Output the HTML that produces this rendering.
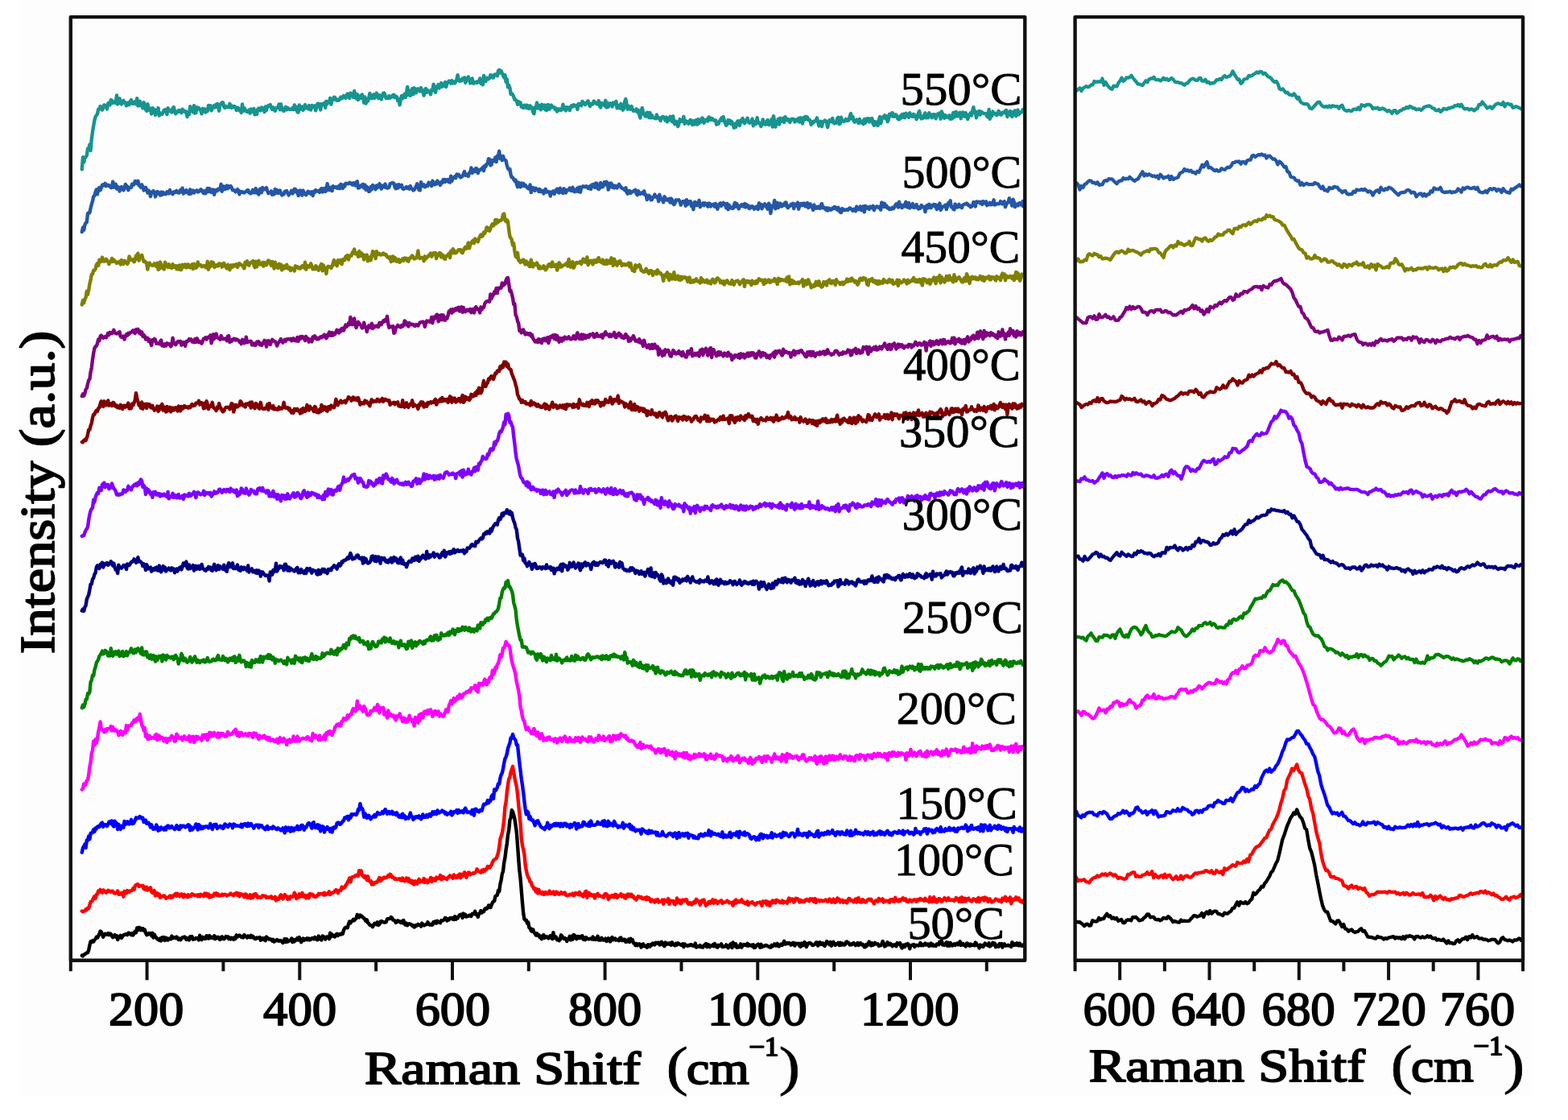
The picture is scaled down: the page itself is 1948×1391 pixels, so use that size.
<!DOCTYPE html>
<html><head><meta charset="utf-8"><title>Raman spectra</title>
<style>html,body{margin:0;padding:0;background:#fff;overflow:hidden}svg{display:block}</style>
</head><body>
<svg width="1948" height="1391" viewBox="0 0 1948 1391">
<rect x="0" y="0" width="1948" height="1391" fill="#ffffff"/>
<rect x="25" y="0" width="1878" height="1360" fill="#fdfdfd"/>
<g fill="none" stroke-linejoin="round" stroke-linecap="round">
<path stroke="#17948f" stroke-width="4.4" d="M101.8 210.3L103.0 195.3L104.2 201.5L105.4 196.6L106.6 194.7L107.8 193.2L109.0 184.5L110.2 185.4L111.4 179.4L112.6 187.0L113.8 172.6L115.0 163.6L116.2 156.5L117.4 149.7L118.6 145.1L119.8 143.3L121.0 141.7L122.2 135.6L123.4 135.5L124.6 132.1L125.8 132.5L127.0 136.6L128.2 133.6L129.4 130.4L130.6 131.1L131.8 132.4L133.0 135.4L134.2 128.4L135.4 127.6L136.6 130.3L137.8 124.1L139.0 124.9L140.2 127.9L141.4 127.3L142.6 126.1L143.8 127.9L145.0 118.4L146.2 129.4L147.4 124.0L148.6 122.3L149.8 127.9L151.0 129.3L152.2 126.3L153.4 124.8L154.6 127.7L155.8 127.4L157.0 131.3L158.2 129.3L159.4 127.6L160.6 130.1L161.8 126.2L163.0 124.1L164.2 128.5L165.4 128.9L166.6 127.1L167.8 126.0L169.0 129.3L170.2 122.1L171.4 131.4L172.6 131.3L173.8 125.8L175.0 131.2L176.2 128.9L177.4 134.4L178.6 127.2L179.8 130.9L181.0 136.1L182.2 137.9L183.4 129.3L184.6 134.4L185.8 137.1L187.0 134.9L188.2 141.5L189.4 134.2L190.6 139.0L191.8 135.5L193.0 142.8L194.2 139.0L195.4 138.0L196.6 134.1L197.8 143.6L199.0 140.9L200.2 140.8L201.4 141.8L202.6 139.5L203.8 136.7L205.0 136.2L206.2 136.1L207.4 142.1L208.6 134.1L209.8 136.5L211.0 137.2L212.2 138.6L213.4 139.5L214.6 134.4L215.8 133.1L217.0 137.9L218.2 141.3L219.4 140.0L220.6 138.5L221.8 137.0L223.0 138.7L224.2 137.2L225.4 140.2L226.6 135.7L227.8 138.3L229.0 137.6L230.2 139.4L231.4 138.5L232.6 145.0L233.8 142.1L235.0 142.1L236.2 132.2L237.4 136.9L238.6 136.2L239.8 139.2L241.0 131.1L242.2 140.6L243.4 140.0L244.6 133.1L245.8 133.8L247.0 134.1L248.2 136.2L249.4 137.6L250.6 141.3L251.8 134.8L253.0 137.3L254.2 135.3L255.4 139.6L256.6 136.5L257.8 138.0L259.0 130.9L260.2 133.2L261.4 131.2L262.6 137.4L263.8 134.8L265.0 131.8L266.2 131.1L267.4 133.4L268.6 129.8L269.8 128.9L271.0 132.5L272.2 137.7L273.4 129.8L274.6 128.8L275.8 127.4L277.0 127.2L278.2 132.8L279.4 134.0L280.6 131.9L281.8 133.1L283.0 132.8L284.2 133.2L285.4 128.8L286.6 132.1L287.8 134.0L289.0 131.8L290.2 132.8L291.4 132.0L292.6 133.5L293.8 136.9L295.0 133.5L296.2 134.3L297.4 137.2L298.6 136.8L299.8 139.9L301.0 129.4L302.2 137.8L303.4 134.1L304.6 136.0L305.8 138.1L307.0 138.9L308.2 138.9L309.4 136.5L310.6 140.7L311.8 135.5L313.0 136.1L314.2 138.8L315.4 134.9L316.6 142.3L317.8 139.0L319.0 142.0L320.2 135.7L321.4 134.5L322.6 135.9L323.8 137.3L325.0 133.4L326.2 135.9L327.4 134.7L328.6 139.1L329.8 132.5L331.0 137.1L332.2 132.2L333.4 131.1L334.6 131.7L335.8 130.1L337.0 133.7L338.2 136.0L339.4 133.4L340.6 134.8L341.8 137.8L343.0 134.1L344.2 134.1L345.4 133.0L346.6 129.4L347.8 136.2L349.0 129.3L350.2 136.3L351.4 134.6L352.6 137.9L353.8 134.8L355.0 132.8L356.2 136.3L357.4 133.9L358.6 135.2L359.8 136.0L361.0 135.7L362.2 135.7L363.4 134.0L364.6 136.0L365.8 130.5L367.0 135.9L368.2 132.9L369.4 139.2L370.6 139.5L371.8 130.4L373.0 136.1L374.2 135.2L375.4 132.5L376.6 136.8L377.8 133.9L379.0 130.1L380.2 134.2L381.4 134.4L382.6 135.0L383.8 131.1L385.0 136.1L386.2 136.4L387.4 131.0L388.6 132.0L389.8 133.1L391.0 131.3L392.2 137.3L393.4 132.5L394.6 128.6L395.8 128.7L397.0 130.3L398.2 136.4L399.4 129.0L400.6 129.4L401.8 129.9L403.0 127.9L404.2 133.9L405.4 125.6L406.6 128.6L407.8 126.5L409.0 127.3L410.2 121.8L411.4 129.6L412.6 123.8L413.8 123.9L415.0 120.7L416.2 120.9L417.4 124.1L418.6 124.8L419.8 123.8L421.0 124.6L422.2 122.8L423.4 120.5L424.6 122.3L425.8 121.2L427.0 118.9L428.2 120.8L429.4 121.9L430.6 118.5L431.8 116.5L433.0 119.1L434.2 121.9L435.4 115.6L436.6 116.4L437.8 116.7L439.0 121.0L440.2 112.9L441.4 119.5L442.6 122.3L443.8 117.1L445.0 124.0L446.2 121.8L447.4 119.2L448.6 121.8L449.8 117.4L451.0 120.5L452.2 127.7L453.4 120.5L454.6 128.5L455.8 122.9L457.0 125.6L458.2 122.7L459.4 116.0L460.6 120.4L461.8 122.3L463.0 118.2L464.2 117.4L465.4 121.9L466.6 118.8L467.8 115.6L469.0 118.2L470.2 122.2L471.4 118.2L472.6 121.9L473.8 123.3L475.0 118.8L476.2 115.6L477.4 115.4L478.6 119.3L479.8 122.1L481.0 120.7L482.2 121.8L483.4 119.3L484.6 121.7L485.8 119.8L487.0 120.5L488.2 118.1L489.4 117.7L490.6 121.0L491.8 119.6L493.0 120.3L494.2 125.2L495.4 122.7L496.6 130.4L497.8 124.1L499.0 119.0L500.2 122.3L501.4 120.3L502.6 116.7L503.8 121.0L505.0 115.0L506.2 107.9L507.4 118.0L508.6 113.5L509.8 118.8L511.0 112.2L512.2 110.1L513.4 117.1L514.6 109.2L515.8 112.2L517.0 115.1L518.2 110.7L519.4 110.3L520.6 111.1L521.8 113.4L523.0 109.0L524.2 113.3L525.4 113.4L526.6 118.6L527.8 111.4L529.0 110.0L530.2 114.9L531.4 112.0L532.6 114.2L533.8 114.0L535.0 117.2L536.2 111.4L537.4 112.3L538.6 104.7L539.8 108.7L541.0 114.8L542.2 107.9L543.4 107.2L544.6 105.1L545.8 109.4L547.0 107.6L548.2 103.1L549.4 107.7L550.6 105.8L551.8 106.6L553.0 102.0L554.2 108.0L555.4 103.9L556.6 102.0L557.8 100.5L559.0 100.9L560.2 103.6L561.4 100.0L562.6 103.4L563.8 101.6L565.0 103.3L566.2 101.4L567.4 98.6L568.6 93.2L569.8 99.4L571.0 100.9L572.2 99.2L573.4 100.3L574.6 97.5L575.8 97.8L577.0 96.3L578.2 102.8L579.4 99.5L580.6 97.8L581.8 95.5L583.0 98.8L584.2 103.4L585.4 100.7L586.6 97.4L587.8 103.5L589.0 103.6L590.2 102.3L591.4 101.8L592.6 102.8L593.8 101.1L595.0 101.8L596.2 97.4L597.4 103.8L598.6 100.2L599.8 105.3L601.0 93.9L602.2 101.1L603.4 101.1L604.6 96.7L605.8 98.1L607.0 98.2L608.2 97.0L609.4 93.1L610.6 93.5L611.8 96.3L613.0 96.6L614.2 92.9L615.4 92.4L616.6 92.4L617.8 94.3L619.0 88.1L620.2 86.9L621.4 90.6L622.6 88.1L623.8 90.8L625.0 93.8L626.2 96.2L627.4 93.0L628.6 101.7L629.8 98.1L631.0 108.2L632.2 105.9L633.4 109.1L634.6 116.8L635.8 116.3L637.0 117.6L638.2 120.0L639.4 123.9L640.6 123.9L641.8 125.3L643.0 129.8L644.2 126.1L645.4 127.2L646.6 127.5L647.8 132.7L649.0 132.6L650.2 133.9L651.4 130.6L652.6 130.7L653.8 133.9L655.0 130.9L656.2 134.7L657.4 134.9L658.6 131.3L659.8 133.4L661.0 133.7L662.2 138.9L663.4 141.3L664.6 133.7L665.8 134.1L667.0 127.6L668.2 134.6L669.4 134.0L670.6 131.0L671.8 136.3L673.0 129.7L674.2 133.5L675.4 134.5L676.6 130.6L677.8 136.5L679.0 137.1L680.2 130.2L681.4 130.1L682.6 135.7L683.8 133.8L685.0 130.5L686.2 133.0L687.4 133.4L688.6 133.3L689.8 136.0L691.0 134.7L692.2 138.5L693.4 137.3L694.6 135.3L695.8 136.4L697.0 137.0L698.2 135.2L699.4 129.7L700.6 135.5L701.8 133.3L703.0 137.5L704.2 133.2L705.4 134.3L706.6 133.5L707.8 137.1L709.0 132.6L710.2 131.1L711.4 132.5L712.6 130.2L713.8 131.6L715.0 130.9L716.2 131.4L717.4 135.8L718.6 129.0L719.8 130.0L721.0 129.1L722.2 131.3L723.4 125.9L724.6 127.0L725.8 128.6L727.0 130.0L728.2 128.1L729.4 126.6L730.6 125.4L731.8 129.3L733.0 132.0L734.2 128.9L735.4 128.6L736.6 129.4L737.8 125.5L739.0 127.4L740.2 127.6L741.4 129.2L742.6 128.3L743.8 125.1L745.0 131.7L746.2 133.4L747.4 127.9L748.6 129.9L749.8 129.6L751.0 131.1L752.2 124.8L753.4 133.5L754.6 127.7L755.8 132.7L757.0 129.6L758.2 128.4L759.4 129.3L760.6 132.4L761.8 127.6L763.0 129.2L764.2 129.1L765.4 125.8L766.6 134.4L767.8 132.6L769.0 131.1L770.2 134.6L771.4 128.8L772.6 131.5L773.8 136.7L775.0 134.8L776.2 126.0L777.4 123.1L778.6 129.7L779.8 135.7L781.0 131.7L782.2 132.9L783.4 135.8L784.6 132.1L785.8 135.7L787.0 137.8L788.2 137.4L789.4 137.7L790.6 135.4L791.8 139.1L793.0 136.9L794.2 142.3L795.4 146.4L796.6 137.6L797.8 134.1L799.0 139.4L800.2 142.0L801.4 144.2L802.6 144.6L803.8 139.7L805.0 140.0L806.2 146.1L807.4 139.9L808.6 146.3L809.8 143.0L811.0 146.1L812.2 146.2L813.4 146.8L814.6 147.2L815.8 142.5L817.0 146.4L818.2 146.0L819.4 147.1L820.6 150.0L821.8 146.1L823.0 145.0L824.2 145.2L825.4 146.6L826.6 149.7L827.8 145.5L829.0 151.3L830.2 149.0L831.4 147.8L832.6 144.9L833.8 149.5L835.0 151.0L836.2 144.3L837.4 152.8L838.6 154.2L839.8 150.8L841.0 151.4L842.2 157.0L843.4 153.9L844.6 148.1L845.8 150.8L847.0 150.6L848.2 150.8L849.4 144.8L850.6 153.7L851.8 149.9L853.0 152.0L854.2 151.1L855.4 153.8L856.6 150.4L857.8 148.9L859.0 152.5L860.2 154.9L861.4 150.0L862.6 154.6L863.8 151.4L865.0 149.1L866.2 154.7L867.4 148.1L868.6 153.1L869.8 148.8L871.0 151.3L872.2 146.5L873.4 147.5L874.6 152.7L875.8 150.2L877.0 149.7L878.2 148.2L879.4 150.6L880.6 145.4L881.8 146.1L883.0 148.9L884.2 147.1L885.4 147.6L886.6 149.5L887.8 149.5L889.0 149.3L890.2 154.7L891.4 153.0L892.6 153.8L893.8 150.4L895.0 149.1L896.2 146.6L897.4 149.8L898.6 145.1L899.8 149.4L901.0 153.3L902.2 155.8L903.4 154.1L904.6 149.1L905.8 153.0L907.0 149.5L908.2 153.9L909.4 151.3L910.6 153.9L911.8 158.7L913.0 154.0L914.2 157.9L915.4 151.8L916.6 150.3L917.8 154.9L919.0 155.9L920.2 149.5L921.4 151.2L922.6 146.9L923.8 150.3L925.0 153.3L926.2 150.5L927.4 149.1L928.6 146.7L929.8 151.6L931.0 152.8L932.2 152.3L933.4 151.5L934.6 147.5L935.8 156.2L937.0 151.3L938.2 151.3L939.4 154.0L940.6 146.1L941.8 152.2L943.0 152.3L944.2 153.9L945.4 156.9L946.6 154.6L947.8 148.4L949.0 152.8L950.2 154.6L951.4 154.6L952.6 150.5L953.8 149.2L955.0 155.1L956.2 154.3L957.4 153.0L958.6 148.0L959.8 157.5L961.0 144.2L962.2 151.0L963.4 157.6L964.6 151.0L965.8 151.9L967.0 147.7L968.2 154.5L969.4 146.8L970.6 150.9L971.8 150.3L973.0 146.7L974.2 151.9L975.4 145.2L976.6 147.3L977.8 149.1L979.0 148.0L980.2 150.5L981.4 151.8L982.6 148.4L983.8 147.7L985.0 147.8L986.2 148.2L987.4 151.5L988.6 148.6L989.8 150.3L991.0 148.9L992.2 146.8L993.4 151.6L994.6 146.3L995.8 149.2L997.0 153.4L998.2 146.1L999.4 149.0L1000.6 144.8L1001.8 148.0L1003.0 145.4L1004.2 148.8L1005.4 148.5L1006.6 150.5L1007.8 154.8L1009.0 151.3L1010.2 152.6L1011.4 150.8L1012.6 150.4L1013.8 148.9L1015.0 146.4L1016.2 151.8L1017.4 156.4L1018.6 153.3L1019.8 150.7L1021.0 157.0L1022.2 151.3L1023.4 151.0L1024.6 149.5L1025.8 150.2L1027.0 152.1L1028.2 158.2L1029.4 151.8L1030.6 149.3L1031.8 150.3L1033.0 151.2L1034.2 146.9L1035.4 151.8L1036.6 153.3L1037.8 152.0L1039.0 152.6L1040.2 147.1L1041.4 145.8L1042.6 154.0L1043.8 153.3L1045.0 145.7L1046.2 150.4L1047.4 149.7L1048.6 151.0L1049.8 149.9L1051.0 147.8L1052.2 149.8L1053.4 149.7L1054.6 149.2L1055.8 144.2L1057.0 141.0L1058.2 147.3L1059.4 144.9L1060.6 150.3L1061.8 151.6L1063.0 150.4L1064.2 148.6L1065.4 149.9L1066.6 153.0L1067.8 147.8L1069.0 152.4L1070.2 151.9L1071.4 150.7L1072.6 154.0L1073.8 148.0L1075.0 152.7L1076.2 147.5L1077.4 148.0L1078.6 147.2L1079.8 151.5L1081.0 147.6L1082.2 150.4L1083.4 147.1L1084.6 153.4L1085.8 155.6L1087.0 151.1L1088.2 155.1L1089.4 151.8L1090.6 156.0L1091.8 149.9L1093.0 144.9L1094.2 153.2L1095.4 148.4L1096.6 145.5L1097.8 146.3L1099.0 143.3L1100.2 147.0L1101.4 144.2L1102.6 151.1L1103.8 148.5L1105.0 141.7L1106.2 141.8L1107.4 144.1L1108.6 140.0L1109.8 144.8L1111.0 144.7L1112.2 142.3L1113.4 142.7L1114.6 145.6L1115.8 148.2L1117.0 148.4L1118.2 144.3L1119.4 146.6L1120.6 142.1L1121.8 145.4L1123.0 141.5L1124.2 146.2L1125.4 140.7L1126.6 141.5L1127.8 144.2L1129.0 145.8L1130.2 140.2L1131.4 142.7L1132.6 144.6L1133.8 144.8L1135.0 141.9L1136.2 144.5L1137.4 143.5L1138.6 148.1L1139.8 145.8L1141.0 140.5L1142.2 138.0L1143.4 144.5L1144.6 147.5L1145.8 144.7L1147.0 146.7L1148.2 142.8L1149.4 140.4L1150.6 146.3L1151.8 144.5L1153.0 146.1L1154.2 140.2L1155.4 144.6L1156.6 142.3L1157.8 146.2L1159.0 142.3L1160.2 142.2L1161.4 142.2L1162.6 147.3L1163.8 143.8L1165.0 141.6L1166.2 140.8L1167.4 140.7L1168.6 147.7L1169.8 138.5L1171.0 141.1L1172.2 145.3L1173.4 146.7L1174.6 143.0L1175.8 145.6L1177.0 145.4L1178.2 146.0L1179.4 143.4L1180.6 147.8L1181.8 143.7L1183.0 147.4L1184.2 140.0L1185.4 145.7L1186.6 139.5L1187.8 138.8L1189.0 144.4L1190.2 140.6L1191.4 144.1L1192.6 139.7L1193.8 147.2L1195.0 142.6L1196.2 139.4L1197.4 142.9L1198.6 144.8L1199.8 140.1L1201.0 143.7L1202.2 147.9L1203.4 144.5L1204.6 142.0L1205.8 140.3L1207.0 143.5L1208.2 137.5L1209.4 133.2L1210.6 139.7L1211.8 138.5L1213.0 146.3L1214.2 141.8L1215.4 138.5L1216.6 138.0L1217.8 142.6L1219.0 138.7L1220.2 139.4L1221.4 140.7L1222.6 141.1L1223.8 141.0L1225.0 141.0L1226.2 144.3L1227.4 145.4L1228.6 136.0L1229.8 147.8L1231.0 141.0L1232.2 144.1L1233.4 138.5L1234.6 141.5L1235.8 141.2L1237.0 140.9L1238.2 143.0L1239.4 142.4L1240.6 137.8L1241.8 140.3L1243.0 142.6L1244.2 142.5L1245.4 139.7L1246.6 139.8L1247.8 140.2L1249.0 137.5L1250.2 137.0L1251.4 145.0L1252.6 139.4L1253.8 140.6L1255.0 138.1L1256.2 143.7L1257.4 144.8L1258.6 139.1L1259.8 141.0L1261.0 137.3L1262.2 144.2L1263.4 141.7L1264.6 136.6L1265.8 142.3L1267.0 139.6L1268.2 139.6L1269.4 139.3L1270.6 136.3L1271.0 136.6"/>
<path stroke="#17948f" stroke-width="4.3" d="M1337.5 112.5L1339.5 111.0L1341.5 109.3L1343.5 113.0L1345.5 109.3L1347.5 108.3L1349.5 107.2L1351.5 108.1L1353.5 107.5L1355.5 105.5L1357.5 105.4L1359.5 101.0L1361.5 102.0L1363.5 101.3L1365.5 101.5L1367.5 101.7L1369.5 97.6L1371.5 105.8L1373.5 102.0L1375.5 105.5L1377.5 108.0L1379.5 109.8L1381.5 110.8L1383.5 106.7L1385.5 107.0L1387.5 107.4L1389.5 102.8L1391.5 100.4L1393.5 96.7L1395.5 100.9L1397.5 99.1L1399.5 96.4L1401.5 96.6L1403.5 95.9L1405.5 93.8L1407.5 96.7L1409.5 99.3L1411.5 101.5L1413.5 104.3L1415.5 104.3L1417.5 105.4L1419.5 105.9L1421.5 102.8L1423.5 100.4L1425.5 102.1L1427.5 98.4L1429.5 97.5L1431.5 97.6L1433.5 95.8L1435.5 98.8L1437.5 99.1L1439.5 99.0L1441.5 100.3L1443.5 99.1L1445.5 96.7L1447.5 99.0L1449.5 97.7L1451.5 99.8L1453.5 98.6L1455.5 97.0L1457.5 98.6L1459.5 101.5L1461.5 102.2L1463.5 102.1L1465.5 103.2L1467.5 103.2L1469.5 104.4L1471.5 105.7L1473.5 103.7L1475.5 103.3L1477.5 100.4L1479.5 98.6L1481.5 97.6L1483.5 98.3L1485.5 99.8L1487.5 99.8L1489.5 97.2L1491.5 96.9L1493.5 100.7L1495.5 100.7L1497.5 98.7L1499.5 102.6L1501.5 101.8L1503.5 103.9L1505.5 103.1L1507.5 103.4L1509.5 101.8L1511.5 99.1L1513.5 99.3L1515.5 97.8L1517.5 99.1L1519.5 95.7L1521.5 94.1L1523.5 95.9L1525.5 95.3L1527.5 94.5L1529.5 92.7L1531.5 88.4L1533.5 92.3L1535.5 95.3L1537.5 98.8L1539.5 98.5L1541.5 103.8L1543.5 102.2L1545.5 98.5L1547.5 98.0L1549.5 97.5L1551.5 93.9L1553.5 94.6L1555.5 93.7L1557.5 92.1L1559.5 91.2L1561.5 89.4L1563.5 90.8L1565.5 88.8L1567.5 89.3L1569.5 92.0L1571.5 90.7L1573.5 93.0L1575.5 95.4L1577.5 95.8L1579.5 97.6L1581.5 100.4L1583.5 102.0L1585.5 101.0L1587.5 103.9L1589.5 110.1L1591.5 111.3L1593.5 110.3L1595.5 112.7L1597.5 115.3L1599.5 114.7L1601.5 117.5L1603.5 117.7L1605.5 118.6L1607.5 116.3L1609.5 118.9L1611.5 122.5L1613.5 120.9L1615.5 126.2L1617.5 128.0L1619.5 128.9L1621.5 129.2L1623.5 129.0L1625.5 130.7L1627.5 134.4L1629.5 135.0L1631.5 133.3L1633.5 130.9L1635.5 128.8L1637.5 126.8L1639.5 127.0L1641.5 130.3L1643.5 132.1L1645.5 132.9L1647.5 132.0L1649.5 133.1L1651.5 131.4L1653.5 133.2L1655.5 131.2L1657.5 132.0L1659.5 132.3L1661.5 132.2L1663.5 134.6L1665.5 131.7L1667.5 130.8L1669.5 135.8L1671.5 137.1L1673.5 137.8L1675.5 136.8L1677.5 137.8L1679.5 137.8L1681.5 135.6L1683.5 135.6L1685.5 136.1L1687.5 133.6L1689.5 136.1L1691.5 130.3L1693.5 130.8L1695.5 132.0L1697.5 130.1L1699.5 129.9L1701.5 130.0L1703.5 131.4L1705.5 135.1L1707.5 134.0L1709.5 134.7L1711.5 133.7L1713.5 136.0L1715.5 135.4L1717.5 134.3L1719.5 135.4L1721.5 136.7L1723.5 138.4L1725.5 137.1L1727.5 138.3L1729.5 140.8L1731.5 137.3L1733.5 137.1L1735.5 140.6L1737.5 139.0L1739.5 137.3L1741.5 136.8L1743.5 134.9L1745.5 135.1L1747.5 132.9L1749.5 134.3L1751.5 132.0L1753.5 132.9L1755.5 134.6L1757.5 134.3L1759.5 136.3L1761.5 135.7L1763.5 135.5L1765.5 136.9L1767.5 135.2L1769.5 132.8L1771.5 132.4L1773.5 131.8L1775.5 131.3L1777.5 132.4L1779.5 134.3L1781.5 134.7L1783.5 137.2L1785.5 137.3L1787.5 136.0L1789.5 138.8L1791.5 137.6L1793.5 134.8L1795.5 135.3L1797.5 135.8L1799.5 134.1L1801.5 134.6L1803.5 133.2L1805.5 133.1L1807.5 131.1L1809.5 131.5L1811.5 130.0L1813.5 132.2L1815.5 129.7L1817.5 133.2L1819.5 135.3L1821.5 135.1L1823.5 135.0L1825.5 136.5L1827.5 135.3L1829.5 136.1L1831.5 137.4L1833.5 135.4L1835.5 134.7L1837.5 129.8L1839.5 130.2L1841.5 126.6L1843.5 129.1L1845.5 131.4L1847.5 134.4L1849.5 133.3L1851.5 132.5L1853.5 134.8L1855.5 132.9L1857.5 130.2L1859.5 129.0L1861.5 128.3L1863.5 129.3L1865.5 130.1L1867.5 127.1L1869.5 132.4L1871.5 129.1L1873.5 128.6L1875.5 130.1L1877.5 129.7L1879.5 133.8L1881.5 133.1L1883.5 132.1L1885.5 133.1L1887.5 133.9L1889.2 135.0"/>
<path stroke="#2457a6" stroke-width="4.4" d="M101.8 288.1L103.0 282.6L104.2 285.6L105.4 279.2L106.6 276.7L107.8 276.0L109.0 265.3L110.2 264.2L111.4 264.3L112.6 258.5L113.8 253.7L115.0 249.9L116.2 244.0L117.4 243.2L118.6 238.6L119.8 235.6L121.0 241.3L122.2 234.2L123.4 233.0L124.6 236.2L125.8 233.6L127.0 229.6L128.2 229.3L129.4 230.2L130.6 227.8L131.8 231.2L133.0 230.0L134.2 229.7L135.4 231.0L136.6 230.7L137.8 233.1L139.0 232.7L140.2 225.7L141.4 232.7L142.6 228.6L143.8 228.6L145.0 234.5L146.2 231.8L147.4 233.5L148.6 237.4L149.8 232.9L151.0 232.0L152.2 234.5L153.4 236.3L154.6 234.3L155.8 228.9L157.0 230.7L158.2 231.6L159.4 236.2L160.6 233.4L161.8 232.7L163.0 232.8L164.2 228.5L165.4 229.7L166.6 229.1L167.8 224.9L169.0 226.5L170.2 227.8L171.4 224.7L172.6 230.2L173.8 231.0L175.0 232.6L176.2 229.2L177.4 232.3L178.6 236.4L179.8 235.8L181.0 232.9L182.2 236.0L183.4 239.5L184.6 236.5L185.8 238.2L187.0 244.0L188.2 238.4L189.4 238.8L190.6 237.2L191.8 238.7L193.0 244.4L194.2 240.8L195.4 238.1L196.6 238.6L197.8 240.7L199.0 242.4L200.2 238.6L201.4 241.9L202.6 238.9L203.8 240.8L205.0 241.0L206.2 241.1L207.4 238.4L208.6 238.9L209.8 240.4L211.0 235.9L212.2 239.3L213.4 239.9L214.6 241.1L215.8 238.5L217.0 238.2L218.2 239.0L219.4 236.9L220.6 238.1L221.8 239.6L223.0 239.3L224.2 236.1L225.4 237.8L226.6 233.5L227.8 240.5L229.0 237.3L230.2 239.2L231.4 236.0L232.6 238.4L233.8 239.7L235.0 240.9L236.2 235.3L237.4 240.6L238.6 238.2L239.8 236.6L241.0 239.5L242.2 237.5L243.4 237.4L244.6 236.3L245.8 238.4L247.0 237.9L248.2 237.2L249.4 235.2L250.6 236.2L251.8 238.3L253.0 240.2L254.2 237.0L255.4 240.3L256.6 236.8L257.8 234.1L259.0 238.1L260.2 234.1L261.4 237.3L262.6 238.8L263.8 235.4L265.0 235.7L266.2 241.7L267.4 236.2L268.6 236.0L269.8 237.1L271.0 234.8L272.2 234.7L273.4 235.6L274.6 228.8L275.8 237.7L277.0 231.6L278.2 231.4L279.4 235.1L280.6 233.7L281.8 230.5L283.0 234.3L284.2 231.3L285.4 232.7L286.6 231.1L287.8 233.0L289.0 236.2L290.2 235.9L291.4 236.6L292.6 238.4L293.8 236.4L295.0 235.2L296.2 236.4L297.4 241.3L298.6 237.8L299.8 238.8L301.0 238.1L302.2 239.1L303.4 239.5L304.6 238.4L305.8 238.0L307.0 236.4L308.2 236.2L309.4 239.1L310.6 239.9L311.8 240.3L313.0 238.1L314.2 235.9L315.4 239.4L316.6 239.3L317.8 234.1L319.0 239.6L320.2 239.0L321.4 241.5L322.6 234.8L323.8 234.4L325.0 239.2L326.2 233.0L327.4 235.5L328.6 234.8L329.8 235.1L331.0 233.1L332.2 237.2L333.4 240.2L334.6 239.1L335.8 239.2L337.0 237.4L338.2 241.8L339.4 239.8L340.6 241.1L341.8 235.0L343.0 239.7L344.2 236.2L345.4 239.9L346.6 239.7L347.8 236.6L349.0 239.9L350.2 242.4L351.4 240.9L352.6 241.2L353.8 237.7L355.0 238.1L356.2 237.0L357.4 239.9L358.6 242.4L359.8 240.5L361.0 239.5L362.2 236.7L363.4 240.4L364.6 238.7L365.8 234.7L367.0 235.1L368.2 238.4L369.4 237.0L370.6 243.0L371.8 239.1L373.0 236.5L374.2 237.8L375.4 242.7L376.6 236.6L377.8 240.6L379.0 239.8L380.2 242.2L381.4 239.9L382.6 237.7L383.8 239.8L385.0 238.7L386.2 240.8L387.4 238.3L388.6 243.0L389.8 237.8L391.0 238.9L392.2 236.0L393.4 237.6L394.6 237.2L395.8 237.3L397.0 238.8L398.2 235.1L399.4 234.1L400.6 238.5L401.8 235.0L403.0 233.8L404.2 237.9L405.4 236.8L406.6 228.3L407.8 233.5L409.0 236.1L410.2 235.9L411.4 232.5L412.6 237.1L413.8 231.2L415.0 232.2L416.2 232.7L417.4 232.1L418.6 233.7L419.8 233.9L421.0 231.0L422.2 234.1L423.4 228.8L424.6 229.6L425.8 233.9L427.0 229.7L428.2 231.7L429.4 227.8L430.6 227.9L431.8 227.9L433.0 228.3L434.2 226.7L435.4 227.3L436.6 228.5L437.8 229.5L439.0 227.3L440.2 229.2L441.4 230.3L442.6 226.1L443.8 225.4L445.0 233.5L446.2 233.3L447.4 230.8L448.6 232.0L449.8 229.5L451.0 228.9L452.2 233.5L453.4 229.7L454.6 235.8L455.8 231.9L457.0 234.0L458.2 237.8L459.4 237.5L460.6 232.1L461.8 235.2L463.0 230.0L464.2 230.9L465.4 233.0L466.6 235.3L467.8 230.4L469.0 232.9L470.2 231.7L471.4 228.2L472.6 230.8L473.8 234.5L475.0 230.5L476.2 231.8L477.4 232.4L478.6 228.5L479.8 233.0L481.0 233.5L482.2 233.5L483.4 232.7L484.6 228.3L485.8 227.8L487.0 227.2L488.2 227.0L489.4 227.8L490.6 232.6L491.8 234.2L493.0 229.7L494.2 233.6L495.4 229.2L496.6 231.9L497.8 230.8L499.0 229.8L500.2 234.3L501.4 234.9L502.6 233.8L503.8 233.3L505.0 232.1L506.2 234.0L507.4 232.7L508.6 234.6L509.8 231.0L511.0 234.2L512.2 234.8L513.4 236.4L514.6 235.8L515.8 233.6L517.0 231.3L518.2 228.4L519.4 232.6L520.6 235.9L521.8 236.3L523.0 226.1L524.2 230.3L525.4 231.1L526.6 229.3L527.8 232.1L529.0 231.6L530.2 230.1L531.4 230.8L532.6 226.6L533.8 227.6L535.0 227.3L536.2 231.1L537.4 224.6L538.6 227.5L539.8 229.4L541.0 226.9L542.2 228.5L543.4 224.5L544.6 226.6L545.8 227.3L547.0 230.0L548.2 225.9L549.4 227.1L550.6 223.2L551.8 222.9L553.0 226.0L554.2 223.2L555.4 224.9L556.6 223.0L557.8 226.1L559.0 226.5L560.2 218.6L561.4 224.8L562.6 221.1L563.8 221.0L565.0 219.3L566.2 221.1L567.4 216.5L568.6 217.1L569.8 216.8L571.0 219.1L572.2 220.4L573.4 219.7L574.6 218.6L575.8 216.0L577.0 213.0L578.2 217.8L579.4 216.7L580.6 216.8L581.8 218.9L583.0 214.5L584.2 214.0L585.4 208.5L586.6 214.9L587.8 213.0L589.0 210.8L590.2 213.0L591.4 209.0L592.6 209.6L593.8 215.0L595.0 211.5L596.2 211.3L597.4 210.3L598.6 209.4L599.8 207.7L601.0 212.2L602.2 205.8L603.4 207.0L604.6 204.0L605.8 203.0L607.0 197.2L608.2 197.7L609.4 205.3L610.6 204.5L611.8 199.1L613.0 199.4L614.2 200.1L615.4 195.4L616.6 201.1L617.8 193.6L619.0 193.5L620.2 187.7L621.4 197.1L622.6 194.3L623.8 199.1L625.0 193.8L626.2 198.1L627.4 198.5L628.6 199.8L629.8 205.3L631.0 209.2L632.2 210.7L633.4 210.1L634.6 216.9L635.8 220.2L637.0 220.5L638.2 222.7L639.4 224.7L640.6 223.6L641.8 228.4L643.0 232.2L644.2 226.6L645.4 229.8L646.6 232.2L647.8 227.5L649.0 231.0L650.2 227.9L651.4 231.1L652.6 229.8L653.8 231.6L655.0 233.1L656.2 234.2L657.4 234.5L658.6 229.4L659.8 239.1L661.0 234.8L662.2 233.0L663.4 234.3L664.6 236.7L665.8 233.7L667.0 235.3L668.2 235.3L669.4 237.9L670.6 235.0L671.8 238.0L673.0 237.9L674.2 236.9L675.4 240.4L676.6 237.6L677.8 234.9L679.0 238.6L680.2 238.3L681.4 237.9L682.6 238.5L683.8 243.5L685.0 238.4L686.2 238.9L687.4 237.2L688.6 240.9L689.8 237.6L691.0 235.8L692.2 234.7L693.4 238.9L694.6 239.4L695.8 233.7L697.0 235.8L698.2 239.0L699.4 239.9L700.6 234.3L701.8 236.4L703.0 239.4L704.2 236.0L705.4 236.2L706.6 235.7L707.8 233.6L709.0 236.7L710.2 237.0L711.4 232.7L712.6 236.1L713.8 238.2L715.0 235.8L716.2 237.4L717.4 233.5L718.6 237.9L719.8 232.5L721.0 238.7L722.2 232.8L723.4 231.9L724.6 231.3L725.8 232.2L727.0 231.8L728.2 231.1L729.4 231.7L730.6 233.9L731.8 234.2L733.0 231.2L734.2 234.8L735.4 229.3L736.6 229.1L737.8 228.8L739.0 232.8L740.2 227.5L741.4 227.7L742.6 234.0L743.8 234.9L745.0 233.9L746.2 227.0L747.4 230.4L748.6 232.3L749.8 230.4L751.0 226.1L752.2 229.1L753.4 225.8L754.6 227.2L755.8 235.6L757.0 232.3L758.2 227.4L759.4 227.6L760.6 232.6L761.8 230.3L763.0 233.4L764.2 230.8L765.4 232.1L766.6 233.4L767.8 230.7L769.0 228.8L770.2 230.8L771.4 232.3L772.6 233.7L773.8 234.4L775.0 234.6L776.2 236.3L777.4 233.2L778.6 238.9L779.8 240.7L781.0 237.0L782.2 237.0L783.4 239.9L784.6 238.8L785.8 238.0L787.0 237.5L788.2 236.5L789.4 235.9L790.6 240.6L791.8 242.2L793.0 237.2L794.2 239.9L795.4 241.0L796.6 239.8L797.8 239.3L799.0 240.6L800.2 237.2L801.4 242.1L802.6 241.9L803.8 248.0L805.0 245.6L806.2 242.8L807.4 243.9L808.6 248.2L809.8 248.2L811.0 245.0L812.2 244.5L813.4 241.6L814.6 244.5L815.8 245.1L817.0 244.0L818.2 250.2L819.4 241.8L820.6 246.2L821.8 247.7L823.0 248.0L824.2 251.3L825.4 244.1L826.6 245.9L827.8 248.2L829.0 248.5L830.2 247.5L831.4 246.8L832.6 251.5L833.8 246.6L835.0 248.0L836.2 253.1L837.4 254.0L838.6 252.2L839.8 248.3L841.0 248.5L842.2 248.7L843.4 248.3L844.6 250.3L845.8 254.6L847.0 252.3L848.2 250.2L849.4 250.4L850.6 249.7L851.8 255.7L853.0 248.2L854.2 253.9L855.4 250.0L856.6 251.1L857.8 250.1L859.0 256.0L860.2 253.4L861.4 260.2L862.6 251.1L863.8 251.0L865.0 255.0L866.2 255.0L867.4 252.9L868.6 248.8L869.8 257.1L871.0 255.0L872.2 254.6L873.4 252.2L874.6 255.1L875.8 252.3L877.0 253.7L878.2 253.1L879.4 256.6L880.6 252.5L881.8 252.8L883.0 256.4L884.2 254.5L885.4 254.0L886.6 253.6L887.8 256.6L889.0 252.9L890.2 255.8L891.4 259.7L892.6 255.9L893.8 253.2L895.0 252.3L896.2 255.7L897.4 252.6L898.6 251.8L899.8 254.0L901.0 253.3L902.2 258.2L903.4 252.8L904.6 260.2L905.8 254.7L907.0 257.0L908.2 258.4L909.4 257.5L910.6 258.9L911.8 254.9L913.0 251.7L914.2 256.7L915.4 253.1L916.6 255.7L917.8 259.3L919.0 256.5L920.2 255.5L921.4 254.1L922.6 256.1L923.8 256.4L925.0 252.9L926.2 257.4L927.4 254.0L928.6 257.1L929.8 255.5L931.0 258.9L932.2 258.5L933.4 256.4L934.6 256.1L935.8 257.4L937.0 259.6L938.2 258.8L939.4 256.6L940.6 256.9L941.8 259.9L943.0 252.2L944.2 257.4L945.4 253.9L946.6 259.2L947.8 254.7L949.0 255.6L950.2 253.2L951.4 255.8L952.6 257.7L953.8 259.7L955.0 252.6L956.2 254.6L957.4 265.0L958.6 257.8L959.8 255.5L961.0 256.7L962.2 249.0L963.4 259.2L964.6 255.7L965.8 251.8L967.0 258.0L968.2 253.7L969.4 252.7L970.6 256.3L971.8 256.0L973.0 253.9L974.2 254.8L975.4 251.7L976.6 251.4L977.8 257.1L979.0 258.1L980.2 255.9L981.4 255.8L982.6 253.9L983.8 254.6L985.0 252.7L986.2 259.1L987.4 253.5L988.6 255.9L989.8 254.9L991.0 251.5L992.2 259.6L993.4 254.0L994.6 253.1L995.8 255.2L997.0 252.7L998.2 255.0L999.4 252.6L1000.6 256.3L1001.8 255.3L1003.0 252.0L1004.2 258.0L1005.4 256.2L1006.6 253.2L1007.8 256.9L1009.0 257.3L1010.2 260.9L1011.4 254.5L1012.6 258.8L1013.8 256.7L1015.0 258.6L1016.2 256.7L1017.4 257.4L1018.6 258.9L1019.8 255.0L1021.0 253.0L1022.2 258.2L1023.4 257.4L1024.6 258.8L1025.8 260.3L1027.0 258.2L1028.2 261.6L1029.4 258.6L1030.6 259.0L1031.8 260.8L1033.0 260.2L1034.2 258.5L1035.4 259.1L1036.6 256.9L1037.8 257.3L1039.0 259.0L1040.2 260.7L1041.4 257.7L1042.6 260.8L1043.8 263.5L1045.0 264.0L1046.2 258.9L1047.4 261.3L1048.6 260.3L1049.8 260.7L1051.0 260.8L1052.2 260.1L1053.4 260.8L1054.6 259.3L1055.8 258.2L1057.0 259.4L1058.2 260.0L1059.4 261.8L1060.6 259.7L1061.8 260.6L1063.0 262.3L1064.2 256.6L1065.4 258.2L1066.6 260.1L1067.8 258.9L1069.0 256.4L1070.2 261.2L1071.4 258.7L1072.6 256.4L1073.8 263.4L1075.0 255.7L1076.2 258.8L1077.4 257.1L1078.6 258.9L1079.8 259.9L1081.0 256.5L1082.2 258.1L1083.4 258.0L1084.6 255.8L1085.8 261.0L1087.0 258.5L1088.2 257.3L1089.4 256.3L1090.6 257.0L1091.8 258.1L1093.0 256.6L1094.2 260.6L1095.4 251.4L1096.6 252.3L1097.8 256.7L1099.0 252.8L1100.2 257.0L1101.4 255.5L1102.6 258.4L1103.8 257.9L1105.0 260.0L1106.2 259.0L1107.4 259.7L1108.6 257.9L1109.8 259.1L1111.0 257.7L1112.2 255.0L1113.4 253.3L1114.6 253.4L1115.8 257.5L1117.0 250.6L1118.2 256.7L1119.4 254.5L1120.6 258.1L1121.8 256.8L1123.0 254.5L1124.2 256.3L1125.4 250.8L1126.6 257.0L1127.8 257.4L1129.0 251.9L1130.2 258.4L1131.4 256.0L1132.6 256.7L1133.8 252.9L1135.0 257.8L1136.2 257.7L1137.4 256.3L1138.6 254.0L1139.8 258.2L1141.0 259.3L1142.2 257.3L1143.4 258.7L1144.6 254.9L1145.8 256.7L1147.0 257.2L1148.2 256.7L1149.4 263.1L1150.6 257.4L1151.8 255.0L1153.0 258.3L1154.2 253.7L1155.4 257.1L1156.6 258.1L1157.8 255.0L1159.0 255.4L1160.2 253.8L1161.4 256.4L1162.6 254.4L1163.8 260.1L1165.0 257.5L1166.2 255.4L1167.4 252.5L1168.6 260.7L1169.8 258.9L1171.0 256.9L1172.2 256.2L1173.4 256.1L1174.6 254.5L1175.8 260.1L1177.0 256.1L1178.2 252.1L1179.4 253.9L1180.6 249.2L1181.8 257.0L1183.0 257.2L1184.2 259.6L1185.4 260.3L1186.6 253.4L1187.8 256.3L1189.0 257.5L1190.2 257.0L1191.4 253.8L1192.6 256.8L1193.8 256.0L1195.0 258.0L1196.2 254.6L1197.4 254.0L1198.6 253.3L1199.8 253.5L1201.0 252.5L1202.2 253.4L1203.4 255.4L1204.6 255.2L1205.8 257.2L1207.0 256.5L1208.2 255.3L1209.4 251.0L1210.6 255.0L1211.8 256.4L1213.0 250.4L1214.2 250.7L1215.4 251.0L1216.6 250.7L1217.8 252.5L1219.0 250.8L1220.2 253.9L1221.4 250.0L1222.6 252.5L1223.8 251.5L1225.0 250.3L1226.2 255.1L1227.4 252.6L1228.6 253.8L1229.8 251.7L1231.0 254.2L1232.2 254.0L1233.4 252.2L1234.6 248.3L1235.8 254.5L1237.0 254.2L1238.2 253.0L1239.4 253.1L1240.6 252.8L1241.8 253.0L1243.0 250.1L1244.2 252.4L1245.4 253.3L1246.6 251.1L1247.8 250.2L1249.0 257.0L1250.2 254.0L1251.4 251.8L1252.6 251.4L1253.8 246.2L1255.0 249.1L1256.2 251.9L1257.4 255.6L1258.6 247.6L1259.8 250.9L1261.0 257.1L1262.2 254.1L1263.4 253.5L1264.6 255.4L1265.8 252.3L1267.0 252.1L1268.2 254.3L1269.4 254.6L1270.6 250.0L1271.0 256.2"/>
<path stroke="#2457a6" stroke-width="4.3" d="M1337.5 227.3L1339.5 229.5L1341.5 235.5L1343.5 231.1L1345.5 233.0L1347.5 228.9L1349.5 228.1L1351.5 225.7L1353.5 224.4L1355.5 224.7L1357.5 227.0L1359.5 226.6L1361.5 228.3L1363.5 226.2L1365.5 229.8L1367.5 229.3L1369.5 229.2L1371.5 225.2L1373.5 224.0L1375.5 224.7L1377.5 222.2L1379.5 222.3L1381.5 222.4L1383.5 224.5L1385.5 226.5L1387.5 228.1L1389.5 225.5L1391.5 224.5L1393.5 224.4L1395.5 221.0L1397.5 222.6L1399.5 221.7L1401.5 222.3L1403.5 219.9L1405.5 221.8L1407.5 223.4L1409.5 224.8L1411.5 223.1L1413.5 222.5L1415.5 219.5L1417.5 216.2L1419.5 213.3L1421.5 218.4L1423.5 216.3L1425.5 217.8L1427.5 216.3L1429.5 217.5L1431.5 218.8L1433.5 218.4L1435.5 219.7L1437.5 218.5L1439.5 221.8L1441.5 216.7L1443.5 218.9L1445.5 221.4L1447.5 220.0L1449.5 220.1L1451.5 218.6L1453.5 223.1L1455.5 219.1L1457.5 222.8L1459.5 221.6L1461.5 221.0L1463.5 220.3L1465.5 215.8L1467.5 214.2L1469.5 213.4L1471.5 209.9L1473.5 212.1L1475.5 211.1L1477.5 212.7L1479.5 211.7L1481.5 214.1L1483.5 214.0L1485.5 215.6L1487.5 212.8L1489.5 213.8L1491.5 209.4L1493.5 204.8L1495.5 207.3L1497.5 203.9L1499.5 201.1L1501.5 208.3L1503.5 207.8L1505.5 209.2L1507.5 211.0L1509.5 212.1L1511.5 211.0L1513.5 212.7L1515.5 212.2L1517.5 209.3L1519.5 210.2L1521.5 210.8L1523.5 209.0L1525.5 207.6L1527.5 208.1L1529.5 206.1L1531.5 202.1L1533.5 201.9L1535.5 200.7L1537.5 200.8L1539.5 200.4L1541.5 203.7L1543.5 200.8L1545.5 201.1L1547.5 203.3L1549.5 199.3L1551.5 198.7L1553.5 198.7L1555.5 193.6L1557.5 192.9L1559.5 194.9L1561.5 193.4L1563.5 192.2L1565.5 192.5L1567.5 191.4L1569.5 193.0L1571.5 192.5L1573.5 196.4L1575.5 193.9L1577.5 193.7L1579.5 195.8L1581.5 197.7L1583.5 197.4L1585.5 199.9L1587.5 204.3L1589.5 200.6L1591.5 202.0L1593.5 204.6L1595.5 207.5L1597.5 206.9L1599.5 213.4L1601.5 213.8L1603.5 219.6L1605.5 220.1L1607.5 220.5L1609.5 223.5L1611.5 224.8L1613.5 224.5L1615.5 229.7L1617.5 227.1L1619.5 230.1L1621.5 228.7L1623.5 227.7L1625.5 229.1L1627.5 229.2L1629.5 229.0L1631.5 229.2L1633.5 226.9L1635.5 228.1L1637.5 228.5L1639.5 231.9L1641.5 234.2L1643.5 231.6L1645.5 236.4L1647.5 236.0L1649.5 237.5L1651.5 232.9L1653.5 234.0L1655.5 233.9L1657.5 231.8L1659.5 232.3L1661.5 232.7L1663.5 235.8L1665.5 236.7L1667.5 239.0L1669.5 237.5L1671.5 237.2L1673.5 240.7L1675.5 241.5L1677.5 241.1L1679.5 241.1L1681.5 237.7L1683.5 238.8L1685.5 235.4L1687.5 236.2L1689.5 236.2L1691.5 235.0L1693.5 236.3L1695.5 234.8L1697.5 236.6L1699.5 238.6L1701.5 237.4L1703.5 238.5L1705.5 242.6L1707.5 239.0L1709.5 237.0L1711.5 236.2L1713.5 239.1L1715.5 232.7L1717.5 235.6L1719.5 236.4L1721.5 234.3L1723.5 235.3L1725.5 232.6L1727.5 233.5L1729.5 234.7L1731.5 236.7L1733.5 238.8L1735.5 240.7L1737.5 242.2L1739.5 239.8L1741.5 239.0L1743.5 239.0L1745.5 238.6L1747.5 236.5L1749.5 235.9L1751.5 237.0L1753.5 239.6L1755.5 238.6L1757.5 239.3L1759.5 244.3L1761.5 242.1L1763.5 240.6L1765.5 240.3L1767.5 243.5L1769.5 240.8L1771.5 243.6L1773.5 241.5L1775.5 241.4L1777.5 237.3L1779.5 238.4L1781.5 233.5L1783.5 234.6L1785.5 235.2L1787.5 235.2L1789.5 232.9L1791.5 237.6L1793.5 238.6L1795.5 239.1L1797.5 238.3L1799.5 238.5L1801.5 237.7L1803.5 239.4L1805.5 238.3L1807.5 238.7L1809.5 237.7L1811.5 234.5L1813.5 236.1L1815.5 238.5L1817.5 233.5L1819.5 235.0L1821.5 233.1L1823.5 232.5L1825.5 233.7L1827.5 234.2L1829.5 233.6L1831.5 232.8L1833.5 235.0L1835.5 232.9L1837.5 237.8L1839.5 238.7L1841.5 239.3L1843.5 238.9L1845.5 237.0L1847.5 239.2L1849.5 235.9L1851.5 234.2L1853.5 235.6L1855.5 234.1L1857.5 234.6L1859.5 237.1L1861.5 235.1L1863.5 235.8L1865.5 239.0L1867.5 234.2L1869.5 237.0L1871.5 238.4L1873.5 239.1L1875.5 239.7L1877.5 234.8L1879.5 235.7L1881.5 233.9L1883.5 232.6L1885.5 231.3L1887.5 229.5L1889.2 231.3"/>
<path stroke="#808000" stroke-width="4.4" d="M101.8 378.5L103.0 372.9L104.2 376.2L105.4 371.8L106.6 369.5L107.8 361.7L109.0 365.9L110.2 360.1L111.4 352.8L112.6 347.8L113.8 340.8L115.0 340.4L116.2 335.7L117.4 336.0L118.6 333.9L119.8 328.9L121.0 327.1L122.2 329.8L123.4 322.7L124.6 325.3L125.8 324.8L127.0 319.6L128.2 324.5L129.4 323.1L130.6 324.4L131.8 321.7L133.0 323.3L134.2 324.5L135.4 328.0L136.6 325.5L137.8 325.1L139.0 320.9L140.2 324.9L141.4 322.6L142.6 324.2L143.8 325.2L145.0 327.0L146.2 326.2L147.4 325.4L148.6 324.9L149.8 328.4L151.0 323.1L152.2 325.0L153.4 327.9L154.6 323.7L155.8 325.8L157.0 325.6L158.2 327.9L159.4 325.5L160.6 318.4L161.8 322.0L163.0 322.3L164.2 323.3L165.4 322.0L166.6 325.3L167.8 323.2L169.0 317.4L170.2 318.4L171.4 314.7L172.6 323.6L173.8 318.8L175.0 318.8L176.2 316.9L177.4 321.1L178.6 324.8L179.8 324.3L181.0 325.8L182.2 326.8L183.4 334.6L184.6 328.7L185.8 326.5L187.0 328.8L188.2 329.2L189.4 329.8L190.6 329.4L191.8 327.3L193.0 329.5L194.2 330.9L195.4 326.5L196.6 334.8L197.8 334.1L199.0 325.5L200.2 329.0L201.4 332.4L202.6 333.3L203.8 334.5L205.0 325.8L206.2 327.7L207.4 329.3L208.6 332.0L209.8 328.2L211.0 332.0L212.2 332.2L213.4 333.0L214.6 328.1L215.8 331.7L217.0 331.3L218.2 330.1L219.4 334.2L220.6 330.3L221.8 334.4L223.0 329.4L224.2 335.0L225.4 334.8L226.6 328.7L227.8 331.5L229.0 331.4L230.2 328.2L231.4 332.4L232.6 331.9L233.8 328.3L235.0 330.6L236.2 332.5L237.4 329.8L238.6 328.4L239.8 334.1L241.0 327.7L242.2 330.9L243.4 332.7L244.6 331.9L245.8 325.4L247.0 329.0L248.2 329.5L249.4 329.2L250.6 331.2L251.8 331.0L253.0 329.9L254.2 330.2L255.4 332.0L256.6 332.5L257.8 324.8L259.0 334.7L260.2 328.0L261.4 331.2L262.6 325.2L263.8 327.9L265.0 326.1L266.2 331.9L267.4 331.5L268.6 329.4L269.8 329.0L271.0 330.4L272.2 327.2L273.4 328.1L274.6 327.8L275.8 331.7L277.0 329.8L278.2 326.7L279.4 330.7L280.6 331.2L281.8 333.4L283.0 328.7L284.2 331.1L285.4 335.2L286.6 329.4L287.8 329.4L289.0 331.6L290.2 329.1L291.4 330.2L292.6 328.8L293.8 328.0L295.0 331.9L296.2 328.8L297.4 327.1L298.6 328.7L299.8 329.0L301.0 329.9L302.2 331.3L303.4 333.3L304.6 325.8L305.8 328.1L307.0 324.2L308.2 329.0L309.4 329.6L310.6 326.6L311.8 325.9L313.0 325.5L314.2 324.2L315.4 329.2L316.6 332.2L317.8 324.7L319.0 331.3L320.2 326.9L321.4 323.7L322.6 328.3L323.8 328.6L325.0 327.6L326.2 325.9L327.4 330.6L328.6 326.1L329.8 328.7L331.0 329.0L332.2 325.5L333.4 323.5L334.6 324.1L335.8 327.6L337.0 329.8L338.2 324.9L339.4 327.7L340.6 333.5L341.8 325.7L343.0 331.5L344.2 331.5L345.4 332.9L346.6 327.7L347.8 332.4L349.0 328.5L350.2 335.4L351.4 330.3L352.6 333.6L353.8 330.6L355.0 332.9L356.2 328.7L357.4 333.1L358.6 333.8L359.8 332.2L361.0 336.1L362.2 333.0L363.4 334.0L364.6 333.2L365.8 336.5L367.0 330.3L368.2 331.2L369.4 331.2L370.6 333.2L371.8 332.3L373.0 333.6L374.2 332.2L375.4 330.2L376.6 331.2L377.8 332.4L379.0 325.7L380.2 334.6L381.4 329.8L382.6 330.2L383.8 331.7L385.0 330.4L386.2 327.4L387.4 330.3L388.6 334.3L389.8 333.7L391.0 334.3L392.2 330.2L393.4 331.2L394.6 334.5L395.8 335.7L397.0 332.3L398.2 330.1L399.4 327.9L400.6 336.3L401.8 329.3L403.0 333.9L404.2 334.5L405.4 339.9L406.6 331.9L407.8 330.7L409.0 331.6L410.2 331.3L411.4 332.9L412.6 330.8L413.8 326.8L415.0 323.0L416.2 328.5L417.4 325.6L418.6 330.3L419.8 323.1L421.0 326.4L422.2 323.6L423.4 322.8L424.6 328.2L425.8 323.6L427.0 321.8L428.2 323.2L429.4 318.5L430.6 318.6L431.8 317.0L433.0 322.6L434.2 317.6L435.4 317.4L436.6 317.7L437.8 313.6L439.0 312.7L440.2 309.6L441.4 315.4L442.6 315.4L443.8 314.3L445.0 318.8L446.2 312.0L447.4 318.0L448.6 314.1L449.8 315.2L451.0 318.1L452.2 322.5L453.4 316.8L454.6 317.6L455.8 316.7L457.0 324.3L458.2 320.2L459.4 319.5L460.6 323.2L461.8 318.3L463.0 312.1L464.2 315.6L465.4 313.5L466.6 321.1L467.8 312.1L469.0 316.3L470.2 314.6L471.4 315.1L472.6 316.6L473.8 316.5L475.0 315.5L476.2 314.5L477.4 316.3L478.6 315.6L479.8 316.3L481.0 319.2L482.2 318.9L483.4 320.8L484.6 319.4L485.8 325.1L487.0 318.8L488.2 318.5L489.4 323.9L490.6 319.9L491.8 322.3L493.0 324.8L494.2 322.5L495.4 322.2L496.6 325.8L497.8 324.6L499.0 322.7L500.2 321.4L501.4 323.8L502.6 320.4L503.8 321.9L505.0 320.9L506.2 324.0L507.4 324.7L508.6 320.7L509.8 320.8L511.0 318.7L512.2 317.5L513.4 319.4L514.6 321.5L515.8 320.8L517.0 320.6L518.2 318.0L519.4 311.5L520.6 320.1L521.8 321.0L523.0 319.9L524.2 319.9L525.4 320.3L526.6 324.2L527.8 318.3L529.0 321.4L530.2 319.5L531.4 319.1L532.6 317.0L533.8 316.5L535.0 314.5L536.2 318.7L537.4 316.4L538.6 314.2L539.8 315.2L541.0 314.1L542.2 321.0L543.4 316.4L544.6 317.2L545.8 313.9L547.0 314.3L548.2 319.4L549.4 316.2L550.6 317.3L551.8 321.2L553.0 321.8L554.2 318.3L555.4 317.4L556.6 316.4L557.8 314.7L559.0 320.1L560.2 311.7L561.4 314.2L562.6 309.2L563.8 310.5L565.0 314.3L566.2 314.1L567.4 313.4L568.6 311.4L569.8 310.1L571.0 310.2L572.2 310.2L573.4 313.5L574.6 314.1L575.8 311.2L577.0 308.4L578.2 306.7L579.4 308.8L580.6 306.4L581.8 301.4L583.0 308.4L584.2 303.9L585.4 302.1L586.6 299.7L587.8 298.7L589.0 302.1L590.2 296.5L591.4 298.0L592.6 298.3L593.8 300.3L595.0 296.2L596.2 293.6L597.4 291.5L598.6 293.7L599.8 293.0L601.0 288.4L602.2 289.9L603.4 287.0L604.6 282.3L605.8 282.7L607.0 286.2L608.2 286.8L609.4 283.8L610.6 280.6L611.8 278.2L613.0 280.3L614.2 278.8L615.4 272.9L616.6 277.6L617.8 273.2L619.0 275.7L620.2 274.4L621.4 273.8L622.6 273.7L623.8 271.8L625.0 266.5L626.2 265.5L627.4 273.4L628.6 275.1L629.8 273.1L631.0 275.1L632.2 285.4L633.4 293.7L634.6 295.5L635.8 298.0L637.0 304.5L638.2 302.3L639.4 311.8L640.6 318.4L641.8 319.6L643.0 313.8L644.2 323.6L645.4 323.6L646.6 326.1L647.8 323.7L649.0 324.7L650.2 322.5L651.4 326.5L652.6 328.4L653.8 324.3L655.0 328.1L656.2 326.3L657.4 330.7L658.6 331.0L659.8 322.8L661.0 329.9L662.2 331.4L663.4 327.6L664.6 328.5L665.8 328.8L667.0 326.4L668.2 329.1L669.4 333.4L670.6 330.8L671.8 333.5L673.0 332.3L674.2 332.9L675.4 330.3L676.6 332.0L677.8 335.2L679.0 334.0L680.2 331.2L681.4 328.6L682.6 328.0L683.8 330.8L685.0 331.3L686.2 325.5L687.4 330.6L688.6 330.9L689.8 330.7L691.0 328.5L692.2 335.6L693.4 331.9L694.6 326.3L695.8 327.9L697.0 331.6L698.2 330.8L699.4 329.8L700.6 329.3L701.8 328.8L703.0 328.2L704.2 326.7L705.4 330.6L706.6 322.0L707.8 326.9L709.0 331.7L710.2 326.4L711.4 325.2L712.6 332.7L713.8 330.4L715.0 327.3L716.2 326.0L717.4 326.7L718.6 326.2L719.8 326.3L721.0 324.9L722.2 327.9L723.4 325.0L724.6 321.6L725.8 322.8L727.0 325.8L728.2 323.1L729.4 319.3L730.6 329.0L731.8 326.4L733.0 323.9L734.2 323.8L735.4 326.3L736.6 328.3L737.8 323.3L739.0 325.8L740.2 323.2L741.4 325.5L742.6 321.8L743.8 320.0L745.0 324.7L746.2 324.2L747.4 326.1L748.6 322.6L749.8 327.6L751.0 324.4L752.2 327.9L753.4 323.2L754.6 327.7L755.8 323.8L757.0 324.6L758.2 326.9L759.4 320.3L760.6 322.3L761.8 329.8L763.0 321.7L764.2 324.4L765.4 327.3L766.6 329.8L767.8 325.2L769.0 327.0L770.2 324.1L771.4 326.2L772.6 329.9L773.8 328.5L775.0 327.8L776.2 329.2L777.4 328.7L778.6 329.0L779.8 328.0L781.0 326.7L782.2 331.2L783.4 327.0L784.6 332.8L785.8 335.9L787.0 334.7L788.2 337.1L789.4 329.1L790.6 332.6L791.8 330.3L793.0 330.9L794.2 328.9L795.4 330.5L796.6 336.0L797.8 335.9L799.0 337.6L800.2 337.7L801.4 337.2L802.6 333.7L803.8 335.7L805.0 338.2L806.2 339.8L807.4 336.1L808.6 336.1L809.8 336.6L811.0 341.9L812.2 339.7L813.4 337.8L814.6 337.0L815.8 340.2L817.0 335.3L818.2 339.2L819.4 338.7L820.6 338.9L821.8 341.2L823.0 342.0L824.2 348.8L825.4 341.8L826.6 343.6L827.8 340.2L829.0 338.4L830.2 345.6L831.4 347.9L832.6 340.8L833.8 343.3L835.0 346.4L836.2 344.1L837.4 338.2L838.6 346.8L839.8 344.1L841.0 346.5L842.2 342.5L843.4 347.3L844.6 347.9L845.8 343.7L847.0 346.9L848.2 344.3L849.4 344.9L850.6 344.1L851.8 345.4L853.0 345.0L854.2 349.8L855.4 346.5L856.6 344.5L857.8 350.9L859.0 349.0L860.2 350.4L861.4 348.0L862.6 350.0L863.8 348.3L865.0 346.4L866.2 349.2L867.4 349.5L868.6 349.7L869.8 351.4L871.0 345.1L872.2 350.1L873.4 347.4L874.6 348.7L875.8 350.5L877.0 349.5L878.2 347.7L879.4 351.3L880.6 349.3L881.8 351.7L883.0 352.4L884.2 348.5L885.4 346.7L886.6 349.6L887.8 351.4L889.0 350.2L890.2 346.5L891.4 345.3L892.6 347.1L893.8 347.1L895.0 351.0L896.2 349.6L897.4 351.6L898.6 349.2L899.8 353.5L901.0 349.5L902.2 350.8L903.4 348.4L904.6 350.5L905.8 352.1L907.0 351.4L908.2 352.6L909.4 348.1L910.6 350.7L911.8 353.8L913.0 350.3L914.2 349.3L915.4 349.2L916.6 348.5L917.8 350.2L919.0 353.3L920.2 351.1L921.4 349.9L922.6 348.1L923.8 347.3L925.0 355.9L926.2 349.0L927.4 350.4L928.6 349.0L929.8 350.7L931.0 349.3L932.2 350.6L933.4 353.9L934.6 348.6L935.8 351.7L937.0 350.3L938.2 352.3L939.4 348.9L940.6 351.6L941.8 348.2L943.0 346.2L944.2 347.5L945.4 348.3L946.6 347.8L947.8 349.6L949.0 353.0L950.2 347.4L951.4 351.2L952.6 350.3L953.8 348.1L955.0 347.5L956.2 350.7L957.4 350.7L958.6 348.6L959.8 349.0L961.0 349.2L962.2 346.0L963.4 349.3L964.6 349.7L965.8 353.1L967.0 345.7L968.2 346.5L969.4 348.8L970.6 347.0L971.8 347.4L973.0 348.3L974.2 347.5L975.4 348.1L976.6 349.4L977.8 344.6L979.0 350.1L980.2 343.5L981.4 353.2L982.6 351.5L983.8 348.0L985.0 352.1L986.2 349.5L987.4 351.1L988.6 352.0L989.8 351.2L991.0 350.6L992.2 352.3L993.4 350.5L994.6 350.2L995.8 349.0L997.0 347.1L998.2 355.5L999.4 353.7L1000.6 348.7L1001.8 353.2L1003.0 352.9L1004.2 347.3L1005.4 350.8L1006.6 352.7L1007.8 357.3L1009.0 355.7L1010.2 356.0L1011.4 353.6L1012.6 355.1L1013.8 349.8L1015.0 354.0L1016.2 354.2L1017.4 349.3L1018.6 352.8L1019.8 355.8L1021.0 356.6L1022.2 355.3L1023.4 350.1L1024.6 351.5L1025.8 350.3L1027.0 354.4L1028.2 349.3L1029.4 348.7L1030.6 347.3L1031.8 351.5L1033.0 352.0L1034.2 349.4L1035.4 348.9L1036.6 350.2L1037.8 353.8L1039.0 347.2L1040.2 350.2L1041.4 350.7L1042.6 351.0L1043.8 353.0L1045.0 351.9L1046.2 350.5L1047.4 353.2L1048.6 352.3L1049.8 350.2L1051.0 350.0L1052.2 346.6L1053.4 349.8L1054.6 347.6L1055.8 346.8L1057.0 348.9L1058.2 345.5L1059.4 347.5L1060.6 348.4L1061.8 350.5L1063.0 348.9L1064.2 350.7L1065.4 353.6L1066.6 351.8L1067.8 347.0L1069.0 345.6L1070.2 347.7L1071.4 347.8L1072.6 345.1L1073.8 345.8L1075.0 345.8L1076.2 348.5L1077.4 353.4L1078.6 354.1L1079.8 347.6L1081.0 348.9L1082.2 346.8L1083.4 346.1L1084.6 349.9L1085.8 350.2L1087.0 348.6L1088.2 351.6L1089.4 349.3L1090.6 352.8L1091.8 349.0L1093.0 352.3L1094.2 349.7L1095.4 350.6L1096.6 351.8L1097.8 347.1L1099.0 348.6L1100.2 350.2L1101.4 349.7L1102.6 350.9L1103.8 348.3L1105.0 347.0L1106.2 349.9L1107.4 350.7L1108.6 348.1L1109.8 352.8L1111.0 351.5L1112.2 351.9L1113.4 351.7L1114.6 347.7L1115.8 354.8L1117.0 347.9L1118.2 350.5L1119.4 351.3L1120.6 350.3L1121.8 349.9L1123.0 347.5L1124.2 348.4L1125.4 349.4L1126.6 352.4L1127.8 347.7L1129.0 350.9L1130.2 350.2L1131.4 349.3L1132.6 347.8L1133.8 348.7L1135.0 344.9L1136.2 349.2L1137.4 349.7L1138.6 347.6L1139.8 350.1L1141.0 349.5L1142.2 347.0L1143.4 350.7L1144.6 347.4L1145.8 354.4L1147.0 346.1L1148.2 346.5L1149.4 346.9L1150.6 348.9L1151.8 351.1L1153.0 348.5L1154.2 347.3L1155.4 352.8L1156.6 350.6L1157.8 347.5L1159.0 347.8L1160.2 344.4L1161.4 348.1L1162.6 352.1L1163.8 345.2L1165.0 344.5L1166.2 348.2L1167.4 342.1L1168.6 351.2L1169.8 344.1L1171.0 346.0L1172.2 347.3L1173.4 350.5L1174.6 348.6L1175.8 343.0L1177.0 343.5L1178.2 348.0L1179.4 342.4L1180.6 346.7L1181.8 345.4L1183.0 349.2L1184.2 350.1L1185.4 341.2L1186.6 348.2L1187.8 348.7L1189.0 345.3L1190.2 345.6L1191.4 344.1L1192.6 346.2L1193.8 347.9L1195.0 350.1L1196.2 350.3L1197.4 346.2L1198.6 344.8L1199.8 349.2L1201.0 340.1L1202.2 343.3L1203.4 348.1L1204.6 351.9L1205.8 344.6L1207.0 346.7L1208.2 343.7L1209.4 346.1L1210.6 346.0L1211.8 344.3L1213.0 347.0L1214.2 345.6L1215.4 347.2L1216.6 345.4L1217.8 342.9L1219.0 346.1L1220.2 347.8L1221.4 343.8L1222.6 348.8L1223.8 346.6L1225.0 344.6L1226.2 345.5L1227.4 344.3L1228.6 343.1L1229.8 347.4L1231.0 347.3L1232.2 344.0L1233.4 344.6L1234.6 344.5L1235.8 346.6L1237.0 348.4L1238.2 343.2L1239.4 345.5L1240.6 344.6L1241.8 345.9L1243.0 348.0L1244.2 342.4L1245.4 339.5L1246.6 343.9L1247.8 340.4L1249.0 348.2L1250.2 342.5L1251.4 343.4L1252.6 344.6L1253.8 344.5L1255.0 342.9L1256.2 343.8L1257.4 346.0L1258.6 343.0L1259.8 348.1L1261.0 344.4L1262.2 337.9L1263.4 345.6L1264.6 339.2L1265.8 344.1L1267.0 348.7L1268.2 345.8L1269.4 340.4L1270.6 341.1L1271.0 343.1"/>
<path stroke="#808000" stroke-width="4.3" d="M1337.5 323.7L1339.5 321.6L1341.5 325.1L1343.5 325.0L1345.5 324.8L1347.5 322.7L1349.5 323.3L1351.5 316.8L1353.5 315.3L1355.5 316.7L1357.5 317.5L1359.5 314.8L1361.5 316.0L1363.5 316.3L1365.5 319.2L1367.5 318.2L1369.5 321.5L1371.5 321.0L1373.5 320.7L1375.5 321.0L1377.5 321.8L1379.5 322.7L1381.5 319.5L1383.5 316.4L1385.5 313.9L1387.5 312.6L1389.5 314.0L1391.5 312.3L1393.5 311.3L1395.5 312.5L1397.5 314.5L1399.5 314.1L1401.5 309.7L1403.5 312.2L1405.5 311.0L1407.5 311.1L1409.5 311.8L1411.5 312.9L1413.5 313.5L1415.5 314.9L1417.5 316.6L1419.5 314.1L1421.5 313.0L1423.5 312.2L1425.5 311.2L1427.5 312.6L1429.5 309.2L1431.5 309.6L1433.5 308.8L1435.5 308.8L1437.5 309.9L1439.5 313.6L1441.5 314.3L1443.5 317.0L1445.5 319.9L1447.5 312.5L1449.5 310.1L1451.5 308.4L1453.5 306.0L1455.5 305.0L1457.5 307.5L1459.5 304.4L1461.5 305.5L1463.5 300.0L1465.5 302.9L1467.5 302.1L1469.5 303.6L1471.5 304.8L1473.5 303.2L1475.5 303.2L1477.5 299.8L1479.5 305.0L1481.5 304.8L1483.5 299.7L1485.5 295.4L1487.5 296.0L1489.5 297.3L1491.5 297.1L1493.5 299.5L1495.5 296.2L1497.5 295.4L1499.5 298.4L1501.5 299.8L1503.5 297.8L1505.5 298.8L1507.5 297.0L1509.5 294.6L1511.5 293.8L1513.5 290.5L1515.5 292.2L1517.5 291.6L1519.5 291.5L1521.5 288.5L1523.5 288.1L1525.5 285.9L1527.5 285.6L1529.5 288.2L1531.5 290.2L1533.5 283.8L1535.5 283.7L1537.5 284.5L1539.5 281.3L1541.5 282.1L1543.5 279.8L1545.5 279.2L1547.5 280.4L1549.5 278.3L1551.5 276.3L1553.5 278.7L1555.5 276.9L1557.5 275.2L1559.5 274.1L1561.5 275.2L1563.5 272.5L1565.5 272.9L1567.5 273.3L1569.5 270.9L1571.5 271.5L1573.5 267.1L1575.5 268.8L1577.5 267.7L1579.5 269.4L1581.5 269.1L1583.5 272.7L1585.5 273.5L1587.5 274.0L1589.5 275.2L1591.5 276.5L1593.5 279.6L1595.5 279.6L1597.5 283.4L1599.5 287.2L1601.5 290.4L1603.5 293.2L1605.5 297.3L1607.5 297.0L1609.5 301.1L1611.5 304.6L1613.5 308.2L1615.5 309.8L1617.5 310.4L1619.5 313.9L1621.5 314.5L1623.5 320.6L1625.5 319.0L1627.5 321.1L1629.5 321.6L1631.5 320.7L1633.5 317.1L1635.5 320.4L1637.5 320.2L1639.5 321.0L1641.5 324.3L1643.5 323.1L1645.5 321.4L1647.5 322.5L1649.5 325.7L1651.5 325.6L1653.5 324.3L1655.5 324.2L1657.5 326.4L1659.5 327.2L1661.5 329.5L1663.5 328.2L1665.5 330.6L1667.5 332.0L1669.5 327.9L1671.5 329.1L1673.5 331.8L1675.5 328.7L1677.5 329.0L1679.5 330.1L1681.5 327.4L1683.5 327.6L1685.5 325.6L1687.5 329.1L1689.5 328.2L1691.5 328.8L1693.5 326.2L1695.5 331.7L1697.5 331.8L1699.5 330.2L1701.5 333.3L1703.5 328.1L1705.5 331.4L1707.5 329.2L1709.5 335.4L1711.5 327.9L1713.5 329.8L1715.5 330.5L1717.5 332.6L1719.5 332.7L1721.5 332.1L1723.5 330.9L1725.5 332.5L1727.5 326.8L1729.5 326.5L1731.5 326.7L1733.5 321.2L1735.5 323.6L1737.5 328.1L1739.5 329.0L1741.5 328.3L1743.5 332.0L1745.5 336.5L1747.5 333.7L1749.5 335.1L1751.5 334.0L1753.5 332.8L1755.5 335.9L1757.5 334.9L1759.5 335.1L1761.5 333.1L1763.5 333.4L1765.5 333.5L1767.5 333.7L1769.5 332.5L1771.5 332.2L1773.5 334.6L1775.5 331.4L1777.5 332.6L1779.5 332.8L1781.5 332.9L1783.5 332.1L1785.5 332.9L1787.5 335.3L1789.5 333.9L1791.5 333.5L1793.5 337.1L1795.5 333.1L1797.5 336.6L1799.5 335.4L1801.5 332.0L1803.5 332.3L1805.5 331.3L1807.5 332.7L1809.5 331.2L1811.5 328.6L1813.5 327.4L1815.5 326.8L1817.5 329.1L1819.5 327.4L1821.5 329.3L1823.5 329.3L1825.5 330.2L1827.5 331.2L1829.5 330.1L1831.5 330.7L1833.5 329.9L1835.5 331.7L1837.5 331.4L1839.5 332.4L1841.5 331.9L1843.5 328.9L1845.5 327.7L1847.5 330.6L1849.5 331.2L1851.5 328.5L1853.5 331.5L1855.5 329.4L1857.5 329.1L1859.5 329.6L1861.5 327.0L1863.5 325.3L1865.5 325.7L1867.5 323.1L1869.5 323.3L1871.5 323.0L1873.5 320.1L1875.5 323.2L1877.5 325.8L1879.5 322.4L1881.5 325.9L1883.5 325.1L1885.5 324.9L1887.5 329.9L1889.2 330.4"/>
<path stroke="#800080" stroke-width="4.4" d="M101.8 492.0L103.0 489.4L104.2 491.6L105.4 488.7L106.6 483.5L107.8 482.3L109.0 476.8L110.2 472.2L111.4 470.8L112.6 462.1L113.8 456.6L115.0 446.6L116.2 438.9L117.4 432.6L118.6 430.4L119.8 429.7L121.0 426.6L122.2 421.5L123.4 423.2L124.6 417.8L125.8 416.5L127.0 418.1L128.2 419.9L129.4 418.9L130.6 418.0L131.8 419.3L133.0 417.4L134.2 413.8L135.4 415.9L136.6 412.7L137.8 413.6L139.0 414.1L140.2 412.9L141.4 409.9L142.6 413.5L143.8 413.6L145.0 414.5L146.2 414.1L147.4 412.8L148.6 412.1L149.8 418.0L151.0 418.7L152.2 418.1L153.4 417.5L154.6 421.5L155.8 417.7L157.0 415.4L158.2 416.6L159.4 413.7L160.6 414.8L161.8 413.1L163.0 412.9L164.2 411.5L165.4 410.3L166.6 412.6L167.8 414.0L169.0 409.2L170.2 410.1L171.4 408.8L172.6 413.5L173.8 411.1L175.0 415.1L176.2 412.5L177.4 417.8L178.6 415.9L179.8 417.6L181.0 421.4L182.2 419.7L183.4 419.7L184.6 423.7L185.8 421.9L187.0 425.5L188.2 429.0L189.4 422.2L190.6 423.2L191.8 420.8L193.0 422.1L194.2 426.7L195.4 426.3L196.6 426.4L197.8 427.1L199.0 424.3L200.2 422.5L201.4 429.3L202.6 427.6L203.8 429.9L205.0 427.4L206.2 429.5L207.4 426.3L208.6 427.4L209.8 426.9L211.0 428.0L212.2 430.3L213.4 428.4L214.6 419.8L215.8 426.3L217.0 426.4L218.2 428.2L219.4 426.4L220.6 424.3L221.8 423.9L223.0 424.9L224.2 423.8L225.4 428.7L226.6 426.6L227.8 425.2L229.0 427.1L230.2 429.8L231.4 424.0L232.6 424.2L233.8 423.4L235.0 421.0L236.2 422.3L237.4 421.4L238.6 424.5L239.8 424.3L241.0 425.1L242.2 421.0L243.4 425.0L244.6 420.2L245.8 421.9L247.0 425.2L248.2 424.9L249.4 424.4L250.6 426.6L251.8 423.9L253.0 420.7L254.2 420.7L255.4 419.2L256.6 421.5L257.8 419.0L259.0 419.2L260.2 418.2L261.4 416.4L262.6 426.2L263.8 422.3L265.0 415.1L266.2 420.9L267.4 418.4L268.6 414.5L269.8 419.0L271.0 419.9L272.2 420.6L273.4 421.7L274.6 417.0L275.8 419.1L277.0 421.0L278.2 420.9L279.4 420.8L280.6 420.3L281.8 423.2L283.0 417.5L284.2 417.1L285.4 425.0L286.6 422.0L287.8 423.9L289.0 422.0L290.2 420.8L291.4 420.8L292.6 422.4L293.8 421.2L295.0 422.3L296.2 422.5L297.4 424.8L298.6 425.0L299.8 427.1L301.0 421.8L302.2 423.6L303.4 426.2L304.6 425.0L305.8 418.6L307.0 425.4L308.2 424.8L309.4 423.9L310.6 424.2L311.8 423.7L313.0 428.4L314.2 427.5L315.4 426.5L316.6 428.9L317.8 428.7L319.0 424.7L320.2 424.2L321.4 424.2L322.6 428.2L323.8 426.2L325.0 429.0L326.2 427.2L327.4 425.3L328.6 422.7L329.8 424.9L331.0 430.6L332.2 423.6L333.4 423.1L334.6 424.4L335.8 428.0L337.0 424.5L338.2 421.8L339.4 422.8L340.6 423.8L341.8 424.1L343.0 426.2L344.2 429.5L345.4 426.6L346.6 424.7L347.8 423.0L349.0 421.0L350.2 424.1L351.4 425.6L352.6 424.3L353.8 421.9L355.0 423.6L356.2 421.3L357.4 421.3L358.6 420.9L359.8 421.5L361.0 420.9L362.2 423.3L363.4 420.8L364.6 420.3L365.8 423.0L367.0 422.2L368.2 423.3L369.4 418.9L370.6 423.8L371.8 420.7L373.0 418.3L374.2 420.4L375.4 417.9L376.6 418.5L377.8 419.9L379.0 423.1L380.2 417.8L381.4 421.6L382.6 420.4L383.8 424.7L385.0 421.5L386.2 422.5L387.4 424.4L388.6 418.5L389.8 420.1L391.0 417.3L392.2 418.7L393.4 421.3L394.6 420.0L395.8 421.2L397.0 419.2L398.2 418.3L399.4 419.5L400.6 417.6L401.8 416.9L403.0 415.7L404.2 418.9L405.4 420.1L406.6 416.1L407.8 417.4L409.0 412.5L410.2 414.5L411.4 416.8L412.6 413.0L413.8 416.4L415.0 413.9L416.2 415.0L417.4 412.3L418.6 409.7L419.8 412.3L421.0 413.4L422.2 409.9L423.4 411.5L424.6 408.0L425.8 407.8L427.0 410.5L428.2 406.6L429.4 403.5L430.6 405.9L431.8 403.8L433.0 401.4L434.2 403.3L435.4 393.9L436.6 401.0L437.8 403.1L439.0 400.0L440.2 395.5L441.4 403.6L442.6 406.9L443.8 403.0L445.0 399.8L446.2 401.3L447.4 403.2L448.6 404.5L449.8 407.4L451.0 406.6L452.2 400.7L453.4 405.8L454.6 406.8L455.8 412.0L457.0 406.8L458.2 404.4L459.4 406.3L460.6 407.1L461.8 401.7L463.0 408.0L464.2 404.6L465.4 406.3L466.6 405.4L467.8 404.5L469.0 406.0L470.2 406.1L471.4 400.8L472.6 401.0L473.8 403.1L475.0 400.5L476.2 398.2L477.4 399.3L478.6 397.1L479.8 398.8L481.0 392.8L482.2 402.0L483.4 406.9L484.6 405.2L485.8 406.0L487.0 405.7L488.2 405.1L489.4 413.7L490.6 412.7L491.8 406.6L493.0 406.2L494.2 403.9L495.4 405.1L496.6 406.0L497.8 406.4L499.0 404.0L500.2 405.4L501.4 404.0L502.6 398.4L503.8 399.3L505.0 403.4L506.2 401.4L507.4 405.4L508.6 401.1L509.8 403.3L511.0 403.0L512.2 402.7L513.4 403.1L514.6 404.5L515.8 404.9L517.0 403.1L518.2 404.2L519.4 404.5L520.6 402.3L521.8 400.6L523.0 400.1L524.2 400.0L525.4 399.4L526.6 400.3L527.8 405.8L529.0 401.7L530.2 398.6L531.4 399.4L532.6 398.8L533.8 399.9L535.0 399.8L536.2 393.9L537.4 401.2L538.6 393.8L539.8 395.8L541.0 393.4L542.2 391.1L543.4 390.7L544.6 399.3L545.8 397.9L547.0 391.9L548.2 391.4L549.4 397.2L550.6 391.3L551.8 394.4L553.0 397.8L554.2 394.5L555.4 395.5L556.6 391.7L557.8 386.4L559.0 387.7L560.2 384.6L561.4 388.7L562.6 384.1L563.8 386.7L565.0 384.4L566.2 383.1L567.4 385.2L568.6 382.4L569.8 381.9L571.0 386.5L572.2 384.3L573.4 381.2L574.6 387.8L575.8 382.0L577.0 386.1L578.2 387.1L579.4 385.5L580.6 384.5L581.8 386.0L583.0 386.0L584.2 383.9L585.4 388.2L586.6 384.5L587.8 383.9L589.0 388.5L590.2 383.3L591.4 381.1L592.6 384.2L593.8 384.1L595.0 383.9L596.2 388.4L597.4 381.3L598.6 384.5L599.8 382.1L601.0 382.1L602.2 377.2L603.4 375.4L604.6 374.3L605.8 374.2L607.0 374.5L608.2 374.8L609.4 365.4L610.6 370.8L611.8 367.9L613.0 366.0L614.2 362.2L615.4 364.3L616.6 358.0L617.8 364.1L619.0 357.7L620.2 358.5L621.4 357.2L622.6 357.7L623.8 351.5L625.0 354.8L626.2 352.0L627.4 352.9L628.6 348.1L629.8 345.3L631.0 344.9L632.2 352.7L633.4 361.6L634.6 360.9L635.8 365.0L637.0 370.0L638.2 377.9L639.4 377.1L640.6 391.0L641.8 393.6L643.0 398.6L644.2 401.6L645.4 411.0L646.6 409.7L647.8 413.3L649.0 412.2L650.2 409.5L651.4 412.8L652.6 415.4L653.8 413.7L655.0 414.0L656.2 415.5L657.4 414.1L658.6 414.1L659.8 417.5L661.0 415.8L662.2 420.5L663.4 421.9L664.6 424.3L665.8 424.6L667.0 422.7L668.2 425.0L669.4 421.0L670.6 424.5L671.8 422.0L673.0 426.1L674.2 421.0L675.4 422.8L676.6 420.3L677.8 423.3L679.0 423.1L680.2 419.0L681.4 426.0L682.6 422.4L683.8 417.9L685.0 419.0L686.2 416.8L687.4 416.3L688.6 420.7L689.8 416.0L691.0 421.8L692.2 417.0L693.4 419.9L694.6 424.8L695.8 419.9L697.0 420.6L698.2 423.6L699.4 419.8L700.6 421.8L701.8 418.6L703.0 419.5L704.2 420.7L705.4 420.3L706.6 418.4L707.8 420.5L709.0 421.3L710.2 421.2L711.4 419.6L712.6 417.2L713.8 420.9L715.0 421.1L716.2 416.6L717.4 413.3L718.6 418.2L719.8 420.9L721.0 420.4L722.2 415.4L723.4 421.2L724.6 415.7L725.8 419.9L727.0 416.5L728.2 419.7L729.4 418.4L730.6 416.5L731.8 418.6L733.0 415.2L734.2 415.7L735.4 415.7L736.6 414.4L737.8 418.7L739.0 418.7L740.2 416.5L741.4 414.2L742.6 417.6L743.8 417.1L745.0 417.9L746.2 416.4L747.4 415.9L748.6 419.7L749.8 415.0L751.0 416.0L752.2 412.2L753.4 415.5L754.6 415.3L755.8 415.7L757.0 418.0L758.2 415.3L759.4 417.9L760.6 416.1L761.8 416.1L763.0 412.9L764.2 418.4L765.4 419.1L766.6 415.4L767.8 416.5L769.0 413.8L770.2 417.3L771.4 415.7L772.6 419.3L773.8 418.3L775.0 420.2L776.2 416.9L777.4 415.0L778.6 419.0L779.8 417.9L781.0 423.8L782.2 420.2L783.4 423.1L784.6 421.2L785.8 419.3L787.0 417.1L788.2 420.7L789.4 423.4L790.6 422.7L791.8 423.9L793.0 424.4L794.2 421.1L795.4 425.6L796.6 423.6L797.8 426.0L799.0 429.9L800.2 422.6L801.4 427.2L802.6 429.3L803.8 431.6L805.0 429.8L806.2 428.3L807.4 432.7L808.6 432.8L809.8 427.9L811.0 432.8L812.2 429.2L813.4 427.7L814.6 432.1L815.8 432.9L817.0 430.6L818.2 440.7L819.4 433.4L820.6 437.5L821.8 438.4L823.0 441.9L824.2 436.0L825.4 440.8L826.6 434.3L827.8 437.0L829.0 436.3L830.2 434.9L831.4 438.2L832.6 442.0L833.8 442.6L835.0 439.3L836.2 435.0L837.4 435.9L838.6 439.3L839.8 439.3L841.0 439.4L842.2 437.5L843.4 436.0L844.6 439.4L845.8 438.3L847.0 441.8L848.2 436.9L849.4 440.6L850.6 441.9L851.8 443.5L853.0 443.5L854.2 436.5L855.4 436.2L856.6 439.4L857.8 436.8L859.0 433.1L860.2 442.2L861.4 439.8L862.6 440.9L863.8 438.8L865.0 441.0L866.2 438.7L867.4 438.3L868.6 442.5L869.8 435.0L871.0 438.9L872.2 433.7L873.4 441.0L874.6 436.7L875.8 434.3L877.0 432.7L878.2 436.4L879.4 441.5L880.6 437.9L881.8 432.9L883.0 432.0L884.2 444.0L885.4 436.0L886.6 434.1L887.8 438.2L889.0 439.5L890.2 442.2L891.4 438.1L892.6 437.1L893.8 440.7L895.0 437.4L896.2 440.4L897.4 440.2L898.6 442.4L899.8 438.6L901.0 438.9L902.2 441.5L903.4 442.2L904.6 437.7L905.8 439.6L907.0 442.0L908.2 440.7L909.4 447.0L910.6 443.2L911.8 444.4L913.0 441.1L914.2 441.5L915.4 441.5L916.6 443.7L917.8 440.3L919.0 444.8L920.2 439.2L921.4 443.3L922.6 441.5L923.8 439.9L925.0 444.5L926.2 443.0L927.4 440.1L928.6 438.7L929.8 442.5L931.0 438.5L932.2 441.7L933.4 438.2L934.6 440.6L935.8 438.3L937.0 439.9L938.2 444.4L939.4 444.6L940.6 439.2L941.8 439.7L943.0 436.3L944.2 441.1L945.4 443.1L946.6 438.3L947.8 438.2L949.0 441.2L950.2 439.0L951.4 440.8L952.6 444.1L953.8 441.5L955.0 442.0L956.2 444.9L957.4 440.9L958.6 441.8L959.8 440.1L961.0 438.0L962.2 443.5L963.4 436.1L964.6 439.5L965.8 436.4L967.0 437.0L968.2 435.7L969.4 438.0L970.6 439.6L971.8 441.5L973.0 433.6L974.2 438.5L975.4 436.9L976.6 436.4L977.8 437.7L979.0 438.5L980.2 437.8L981.4 438.1L982.6 443.4L983.8 438.4L985.0 439.0L986.2 435.5L987.4 440.9L988.6 437.1L989.8 438.1L991.0 436.5L992.2 438.2L993.4 436.2L994.6 435.4L995.8 435.2L997.0 437.7L998.2 438.7L999.4 440.4L1000.6 442.7L1001.8 443.2L1003.0 437.3L1004.2 437.1L1005.4 440.7L1006.6 436.8L1007.8 441.7L1009.0 441.5L1010.2 436.8L1011.4 440.9L1012.6 442.6L1013.8 440.2L1015.0 438.4L1016.2 438.7L1017.4 440.2L1018.6 437.2L1019.8 439.8L1021.0 438.4L1022.2 437.1L1023.4 436.5L1024.6 440.2L1025.8 436.6L1027.0 439.3L1028.2 434.3L1029.4 438.2L1030.6 438.9L1031.8 439.4L1033.0 440.8L1034.2 439.8L1035.4 439.8L1036.6 437.8L1037.8 435.9L1039.0 435.6L1040.2 436.5L1041.4 438.9L1042.6 440.7L1043.8 439.1L1045.0 438.7L1046.2 440.0L1047.4 437.3L1048.6 438.5L1049.8 437.8L1051.0 438.4L1052.2 437.3L1053.4 434.5L1054.6 436.6L1055.8 435.4L1057.0 441.3L1058.2 440.4L1059.4 435.3L1060.6 434.6L1061.8 436.5L1063.0 432.8L1064.2 439.1L1065.4 435.9L1066.6 434.7L1067.8 438.2L1069.0 438.6L1070.2 435.7L1071.4 437.6L1072.6 431.1L1073.8 433.1L1075.0 432.7L1076.2 430.7L1077.4 436.4L1078.6 439.9L1079.8 430.9L1081.0 432.6L1082.2 436.3L1083.4 432.9L1084.6 433.4L1085.8 431.3L1087.0 433.9L1088.2 430.6L1089.4 434.6L1090.6 433.9L1091.8 433.4L1093.0 430.6L1094.2 431.8L1095.4 433.3L1096.6 429.9L1097.8 429.6L1099.0 426.4L1100.2 430.4L1101.4 431.2L1102.6 433.7L1103.8 428.5L1105.0 427.8L1106.2 433.9L1107.4 433.5L1108.6 428.1L1109.8 429.5L1111.0 426.3L1112.2 430.3L1113.4 433.4L1114.6 432.1L1115.8 427.6L1117.0 430.6L1118.2 428.1L1119.4 430.5L1120.6 428.3L1121.8 431.0L1123.0 432.4L1124.2 430.0L1125.4 430.0L1126.6 429.9L1127.8 431.0L1129.0 427.8L1130.2 428.3L1131.4 428.2L1132.6 431.5L1133.8 428.7L1135.0 429.5L1136.2 427.2L1137.4 424.7L1138.6 427.1L1139.8 428.9L1141.0 426.9L1142.2 426.2L1143.4 426.6L1144.6 428.7L1145.8 428.4L1147.0 427.3L1148.2 424.9L1149.4 425.5L1150.6 435.6L1151.8 426.5L1153.0 428.3L1154.2 427.5L1155.4 423.4L1156.6 429.8L1157.8 426.7L1159.0 424.4L1160.2 428.2L1161.4 425.0L1162.6 427.0L1163.8 423.0L1165.0 425.6L1166.2 427.6L1167.4 424.7L1168.6 422.5L1169.8 423.8L1171.0 427.3L1172.2 421.8L1173.4 422.2L1174.6 427.2L1175.8 425.6L1177.0 425.1L1178.2 423.9L1179.4 425.6L1180.6 426.4L1181.8 425.3L1183.0 419.8L1184.2 425.2L1185.4 419.6L1186.6 427.3L1187.8 422.0L1189.0 424.2L1190.2 423.3L1191.4 420.8L1192.6 424.9L1193.8 422.4L1195.0 426.6L1196.2 422.9L1197.4 421.9L1198.6 426.9L1199.8 424.0L1201.0 420.5L1202.2 418.4L1203.4 424.6L1204.6 422.7L1205.8 422.4L1207.0 418.6L1208.2 417.6L1209.4 416.7L1210.6 421.3L1211.8 418.0L1213.0 419.7L1214.2 412.7L1215.4 420.3L1216.6 416.0L1217.8 411.2L1219.0 414.5L1220.2 418.4L1221.4 421.0L1222.6 410.7L1223.8 413.9L1225.0 417.4L1226.2 413.3L1227.4 415.8L1228.6 414.3L1229.8 416.9L1231.0 413.1L1232.2 415.7L1233.4 414.4L1234.6 416.6L1235.8 416.1L1237.0 418.6L1238.2 416.6L1239.4 420.2L1240.6 412.1L1241.8 415.2L1243.0 417.6L1244.2 415.9L1245.4 409.3L1246.6 416.3L1247.8 414.3L1249.0 421.3L1250.2 415.0L1251.4 416.8L1252.6 412.8L1253.8 416.7L1255.0 408.3L1256.2 412.5L1257.4 413.9L1258.6 410.9L1259.8 417.0L1261.0 414.6L1262.2 418.5L1263.4 411.1L1264.6 412.4L1265.8 415.9L1267.0 413.0L1268.2 416.2L1269.4 415.7L1270.6 412.2L1271.0 414.3"/>
<path stroke="#800080" stroke-width="4.3" d="M1337.5 394.4L1339.5 396.1L1341.5 397.6L1343.5 399.3L1345.5 401.1L1347.5 401.1L1349.5 401.0L1351.5 394.5L1353.5 393.5L1355.5 393.4L1357.5 395.6L1359.5 392.3L1361.5 396.8L1363.5 396.7L1365.5 390.1L1367.5 394.4L1369.5 394.2L1371.5 392.8L1373.5 390.8L1375.5 394.1L1377.5 393.4L1379.5 395.9L1381.5 395.3L1383.5 393.4L1385.5 397.7L1387.5 397.8L1389.5 397.6L1391.5 394.2L1393.5 393.1L1395.5 389.6L1397.5 386.3L1399.5 382.0L1401.5 383.9L1403.5 380.5L1405.5 384.2L1407.5 381.1L1409.5 383.2L1411.5 382.3L1413.5 380.9L1415.5 380.9L1417.5 383.1L1419.5 387.6L1421.5 387.6L1423.5 388.2L1425.5 391.3L1427.5 387.6L1429.5 386.2L1431.5 386.1L1433.5 387.9L1435.5 385.1L1437.5 384.7L1439.5 384.9L1441.5 384.7L1443.5 387.7L1445.5 387.6L1447.5 386.0L1449.5 386.4L1451.5 388.4L1453.5 387.8L1455.5 389.7L1457.5 391.4L1459.5 391.1L1461.5 391.3L1463.5 389.4L1465.5 387.9L1467.5 386.7L1469.5 389.0L1471.5 385.0L1473.5 385.3L1475.5 384.3L1477.5 383.8L1479.5 381.7L1481.5 378.9L1483.5 383.3L1485.5 380.1L1487.5 383.8L1489.5 382.7L1491.5 386.5L1493.5 385.3L1495.5 390.6L1497.5 388.2L1499.5 383.9L1501.5 387.3L1503.5 380.8L1505.5 381.7L1507.5 382.5L1509.5 379.0L1511.5 380.1L1513.5 377.5L1515.5 375.6L1517.5 377.4L1519.5 374.7L1521.5 373.1L1523.5 374.2L1525.5 371.6L1527.5 369.1L1529.5 369.1L1531.5 372.8L1533.5 371.7L1535.5 365.3L1537.5 367.9L1539.5 367.7L1541.5 364.7L1543.5 365.2L1545.5 361.9L1547.5 362.1L1549.5 363.2L1551.5 360.8L1553.5 359.8L1555.5 358.9L1557.5 356.5L1559.5 356.1L1561.5 356.0L1563.5 356.8L1565.5 355.9L1567.5 360.0L1569.5 355.0L1571.5 356.1L1573.5 357.0L1575.5 357.5L1577.5 353.0L1579.5 353.8L1581.5 350.5L1583.5 348.9L1585.5 349.0L1587.5 348.0L1589.5 347.3L1591.5 345.9L1593.5 350.8L1595.5 352.6L1597.5 353.3L1599.5 355.4L1601.5 357.2L1603.5 359.3L1605.5 363.3L1607.5 369.8L1609.5 372.3L1611.5 376.9L1613.5 380.9L1615.5 380.8L1617.5 388.3L1619.5 389.7L1621.5 394.6L1623.5 395.6L1625.5 398.2L1627.5 402.8L1629.5 406.9L1631.5 407.2L1633.5 411.3L1635.5 411.8L1637.5 411.4L1639.5 413.5L1641.5 412.4L1643.5 412.4L1645.5 411.5L1647.5 410.8L1649.5 409.9L1651.5 417.1L1653.5 422.7L1655.5 422.9L1657.5 420.7L1659.5 421.8L1661.5 421.9L1663.5 418.5L1665.5 420.0L1667.5 422.4L1669.5 418.0L1671.5 417.7L1673.5 417.6L1675.5 416.4L1677.5 417.9L1679.5 416.1L1681.5 415.5L1683.5 415.2L1685.5 421.1L1687.5 424.2L1689.5 424.9L1691.5 425.3L1693.5 428.3L1695.5 426.3L1697.5 426.9L1699.5 428.7L1701.5 426.9L1703.5 428.7L1705.5 426.1L1707.5 428.8L1709.5 423.7L1711.5 425.3L1713.5 422.8L1715.5 420.7L1717.5 423.1L1719.5 422.5L1721.5 422.6L1723.5 423.5L1725.5 422.0L1727.5 422.0L1729.5 421.0L1731.5 423.7L1733.5 422.2L1735.5 419.7L1737.5 419.5L1739.5 419.6L1741.5 419.5L1743.5 422.3L1745.5 420.8L1747.5 421.9L1749.5 419.3L1751.5 419.6L1753.5 422.6L1755.5 418.3L1757.5 419.6L1759.5 418.6L1761.5 420.8L1763.5 425.7L1765.5 421.2L1767.5 424.0L1769.5 425.1L1771.5 422.0L1773.5 422.2L1775.5 423.9L1777.5 424.6L1779.5 421.7L1781.5 422.9L1783.5 426.1L1785.5 422.3L1787.5 423.7L1789.5 424.3L1791.5 422.1L1793.5 422.0L1795.5 421.2L1797.5 420.7L1799.5 420.5L1801.5 418.7L1803.5 420.1L1805.5 420.2L1807.5 421.2L1809.5 419.3L1811.5 418.7L1813.5 422.0L1815.5 419.0L1817.5 418.4L1819.5 417.7L1821.5 418.1L1823.5 416.6L1825.5 418.1L1827.5 418.8L1829.5 419.4L1831.5 421.7L1833.5 421.6L1835.5 427.2L1837.5 423.0L1839.5 425.9L1841.5 422.7L1843.5 422.3L1845.5 421.9L1847.5 416.3L1849.5 420.2L1851.5 419.0L1853.5 418.0L1855.5 418.0L1857.5 420.0L1859.5 417.6L1861.5 422.8L1863.5 420.5L1865.5 422.2L1867.5 421.7L1869.5 421.3L1871.5 421.8L1873.5 421.5L1875.5 424.2L1877.5 421.7L1879.5 421.8L1881.5 421.1L1883.5 420.7L1885.5 419.8L1887.5 420.2L1889.2 417.0"/>
<path stroke="#800000" stroke-width="4.4" d="M101.8 548.9L103.0 549.3L104.2 547.0L105.4 546.1L106.6 547.1L107.8 543.8L109.0 539.9L110.2 533.6L111.4 533.7L112.6 528.8L113.8 525.5L115.0 518.9L116.2 514.6L117.4 514.7L118.6 511.5L119.8 509.9L121.0 510.9L122.2 507.1L123.4 506.3L124.6 501.4L125.8 498.2L127.0 504.3L128.2 504.9L129.4 498.3L130.6 499.5L131.8 503.3L133.0 501.4L134.2 497.4L135.4 503.7L136.6 501.2L137.8 501.7L139.0 504.0L140.2 500.0L141.4 500.2L142.6 503.9L143.8 505.0L145.0 503.4L146.2 506.3L147.4 505.0L148.6 506.9L149.8 502.8L151.0 504.6L152.2 508.1L153.4 503.9L154.6 503.7L155.8 505.7L157.0 504.4L158.2 502.6L159.4 500.6L160.6 507.5L161.8 504.1L163.0 507.1L164.2 501.4L165.4 503.4L166.6 500.5L167.8 496.7L169.0 488.2L170.2 494.5L171.4 498.6L172.6 503.6L173.8 500.7L175.0 506.8L176.2 499.5L177.4 507.7L178.6 502.3L179.8 502.4L181.0 501.7L182.2 506.9L183.4 501.8L184.6 502.1L185.8 502.2L187.0 505.9L188.2 506.4L189.4 503.7L190.6 506.9L191.8 509.7L193.0 507.9L194.2 507.5L195.4 504.5L196.6 510.9L197.8 509.1L199.0 504.4L200.2 506.3L201.4 501.8L202.6 509.6L203.8 505.4L205.0 507.7L206.2 511.6L207.4 504.9L208.6 510.4L209.8 507.6L211.0 505.7L212.2 511.4L213.4 509.3L214.6 506.6L215.8 509.5L217.0 506.9L218.2 506.2L219.4 507.4L220.6 510.6L221.8 504.5L223.0 505.2L224.2 510.4L225.4 504.9L226.6 507.7L227.8 506.9L229.0 504.1L230.2 504.8L231.4 505.8L232.6 505.4L233.8 506.6L235.0 505.1L236.2 506.2L237.4 504.0L238.6 502.0L239.8 504.0L241.0 503.0L242.2 503.5L243.4 500.6L244.6 500.4L245.8 500.7L247.0 497.7L248.2 502.5L249.4 500.1L250.6 500.1L251.8 501.3L253.0 507.3L254.2 500.7L255.4 506.4L256.6 498.1L257.8 502.6L259.0 508.1L260.2 504.2L261.4 504.9L262.6 502.9L263.8 499.8L265.0 506.0L266.2 507.2L267.4 507.7L268.6 510.0L269.8 505.5L271.0 507.2L272.2 501.1L273.4 505.6L274.6 507.0L275.8 509.9L277.0 511.4L278.2 510.7L279.4 507.7L280.6 506.0L281.8 505.9L283.0 505.8L284.2 506.0L285.4 508.2L286.6 504.7L287.8 501.0L289.0 501.9L290.2 511.5L291.4 507.5L292.6 502.9L293.8 503.2L295.0 505.3L296.2 504.1L297.4 503.9L298.6 498.2L299.8 499.4L301.0 502.8L302.2 503.9L303.4 502.7L304.6 505.5L305.8 501.6L307.0 501.9L308.2 501.2L309.4 503.2L310.6 499.7L311.8 506.5L313.0 499.5L314.2 504.4L315.4 504.7L316.6 507.2L317.8 501.1L319.0 502.0L320.2 504.0L321.4 506.8L322.6 507.6L323.8 499.8L325.0 505.6L326.2 507.4L327.4 507.9L328.6 507.9L329.8 506.6L331.0 507.2L332.2 502.3L333.4 508.9L334.6 500.9L335.8 506.2L337.0 504.3L338.2 507.3L339.4 504.0L340.6 508.4L341.8 507.1L343.0 507.7L344.2 508.7L345.4 508.8L346.6 505.5L347.8 507.9L349.0 507.0L350.2 507.6L351.4 506.1L352.6 499.8L353.8 505.7L355.0 506.7L356.2 506.1L357.4 506.1L358.6 508.6L359.8 507.1L361.0 510.7L362.2 512.7L363.4 510.2L364.6 512.7L365.8 507.8L367.0 508.1L368.2 509.6L369.4 507.9L370.6 510.2L371.8 510.1L373.0 513.5L374.2 508.4L375.4 512.5L376.6 506.9L377.8 508.6L379.0 511.0L380.2 509.7L381.4 502.9L382.6 508.5L383.8 509.5L385.0 504.7L386.2 507.1L387.4 507.3L388.6 508.9L389.8 511.0L391.0 504.9L392.2 506.1L393.4 512.0L394.6 511.2L395.8 512.5L397.0 508.5L398.2 511.1L399.4 503.0L400.6 509.9L401.8 506.6L403.0 505.3L404.2 505.5L405.4 509.9L406.6 510.6L407.8 505.4L409.0 505.2L410.2 508.3L411.4 503.4L412.6 505.1L413.8 505.5L415.0 506.3L416.2 502.3L417.4 495.8L418.6 501.5L419.8 503.1L421.0 499.8L422.2 499.0L423.4 497.6L424.6 500.3L425.8 499.2L427.0 498.9L428.2 497.8L429.4 500.2L430.6 497.5L431.8 496.0L433.0 493.0L434.2 494.2L435.4 494.6L436.6 497.6L437.8 494.7L439.0 493.3L440.2 496.4L441.4 496.6L442.6 494.6L443.8 497.2L445.0 494.1L446.2 497.4L447.4 502.5L448.6 500.5L449.8 500.2L451.0 501.3L452.2 501.4L453.4 497.5L454.6 499.6L455.8 498.7L457.0 501.2L458.2 501.9L459.4 504.3L460.6 498.8L461.8 496.2L463.0 499.3L464.2 498.2L465.4 498.6L466.6 497.8L467.8 498.6L469.0 495.8L470.2 497.5L471.4 498.8L472.6 496.7L473.8 497.4L475.0 494.9L476.2 498.8L477.4 496.8L478.6 495.8L479.8 497.1L481.0 497.0L482.2 497.8L483.4 497.2L484.6 502.8L485.8 501.3L487.0 500.5L488.2 500.8L489.4 499.8L490.6 502.2L491.8 500.1L493.0 500.7L494.2 499.4L495.4 504.4L496.6 504.6L497.8 504.7L499.0 505.0L500.2 497.2L501.4 503.2L502.6 505.7L503.8 504.8L505.0 500.2L506.2 504.9L507.4 505.9L508.6 503.0L509.8 501.6L511.0 502.8L512.2 497.3L513.4 504.8L514.6 502.2L515.8 503.5L517.0 503.8L518.2 504.0L519.4 507.9L520.6 502.2L521.8 503.6L523.0 499.2L524.2 502.6L525.4 499.6L526.6 505.6L527.8 503.4L529.0 501.7L530.2 504.8L531.4 500.0L532.6 501.6L533.8 499.8L535.0 499.1L536.2 500.4L537.4 499.2L538.6 500.0L539.8 497.4L541.0 495.9L542.2 502.5L543.4 499.8L544.6 497.7L545.8 498.7L547.0 495.5L548.2 498.4L549.4 493.8L550.6 497.9L551.8 497.4L553.0 496.0L554.2 497.6L555.4 495.7L556.6 499.8L557.8 497.4L559.0 492.3L560.2 493.5L561.4 499.8L562.6 494.6L563.8 496.7L565.0 494.6L566.2 499.5L567.4 498.5L568.6 497.8L569.8 495.0L571.0 495.2L572.2 499.2L573.4 494.7L574.6 490.9L575.8 499.7L577.0 498.3L578.2 492.6L579.4 495.7L580.6 495.8L581.8 494.2L583.0 496.9L584.2 495.3L585.4 489.8L586.6 490.6L587.8 492.4L589.0 491.8L590.2 488.1L591.4 490.9L592.6 485.6L593.8 488.8L595.0 481.7L596.2 485.8L597.4 488.3L598.6 485.8L599.8 479.1L601.0 472.8L602.2 479.3L603.4 480.0L604.6 476.5L605.8 475.6L607.0 470.6L608.2 471.3L609.4 468.4L610.6 467.1L611.8 467.7L613.0 471.1L614.2 467.4L615.4 463.5L616.6 463.8L617.8 460.7L619.0 460.4L620.2 461.0L621.4 455.2L622.6 457.7L623.8 453.7L625.0 456.0L626.2 449.4L627.4 450.3L628.6 449.7L629.8 455.2L631.0 452.0L632.2 457.2L633.4 458.6L634.6 459.1L635.8 464.2L637.0 466.9L638.2 470.0L639.4 473.0L640.6 477.8L641.8 481.7L643.0 489.9L644.2 492.5L645.4 495.8L646.6 496.3L647.8 499.8L649.0 497.1L650.2 499.1L651.4 499.9L652.6 499.0L653.8 501.7L655.0 501.3L656.2 501.7L657.4 501.4L658.6 503.5L659.8 497.9L661.0 502.8L662.2 501.6L663.4 500.4L664.6 501.3L665.8 503.5L667.0 504.4L668.2 502.2L669.4 504.6L670.6 504.0L671.8 505.8L673.0 506.0L674.2 505.6L675.4 503.2L676.6 501.6L677.8 507.7L679.0 502.7L680.2 506.7L681.4 504.9L682.6 508.5L683.8 504.4L685.0 503.8L686.2 499.7L687.4 505.9L688.6 504.3L689.8 502.9L691.0 503.3L692.2 507.2L693.4 505.1L694.6 506.1L695.8 503.5L697.0 504.7L698.2 506.1L699.4 503.2L700.6 506.8L701.8 503.2L703.0 508.2L704.2 502.3L705.4 502.5L706.6 503.8L707.8 502.6L709.0 503.0L710.2 503.1L711.4 505.9L712.6 501.8L713.8 505.5L715.0 504.7L716.2 502.9L717.4 502.0L718.6 506.7L719.8 496.3L721.0 501.0L722.2 501.7L723.4 503.1L724.6 501.8L725.8 503.8L727.0 502.8L728.2 503.9L729.4 499.8L730.6 502.2L731.8 504.9L733.0 499.3L734.2 501.1L735.4 497.2L736.6 501.3L737.8 498.4L739.0 501.5L740.2 497.2L741.4 499.8L742.6 497.2L743.8 499.3L745.0 500.2L746.2 504.5L747.4 499.9L748.6 499.9L749.8 503.0L751.0 501.0L752.2 495.9L753.4 499.4L754.6 498.3L755.8 499.8L757.0 498.9L758.2 493.4L759.4 496.0L760.6 501.5L761.8 499.6L763.0 495.9L764.2 497.2L765.4 498.0L766.6 495.8L767.8 491.5L769.0 500.9L770.2 497.5L771.4 498.7L772.6 498.9L773.8 500.1L775.0 500.4L776.2 505.5L777.4 501.4L778.6 503.9L779.8 502.8L781.0 506.4L782.2 504.0L783.4 499.3L784.6 508.9L785.8 509.0L787.0 507.0L788.2 502.0L789.4 509.4L790.6 507.5L791.8 505.1L793.0 506.1L794.2 510.7L795.4 506.8L796.6 508.3L797.8 507.3L799.0 510.8L800.2 507.9L801.4 511.8L802.6 510.1L803.8 516.2L805.0 510.6L806.2 512.3L807.4 514.6L808.6 514.7L809.8 509.1L811.0 513.5L812.2 514.3L813.4 515.2L814.6 513.4L815.8 517.7L817.0 517.7L818.2 513.7L819.4 512.2L820.6 514.9L821.8 516.7L823.0 518.3L824.2 513.1L825.4 514.6L826.6 511.7L827.8 514.3L829.0 519.6L830.2 522.3L831.4 519.2L832.6 517.3L833.8 517.1L835.0 522.6L836.2 520.9L837.4 518.7L838.6 517.0L839.8 516.6L841.0 518.5L842.2 523.0L843.4 518.2L844.6 518.1L845.8 519.7L847.0 518.5L848.2 521.5L849.4 516.9L850.6 519.7L851.8 517.9L853.0 521.7L854.2 520.1L855.4 518.1L856.6 518.7L857.8 519.9L859.0 523.6L860.2 521.6L861.4 521.0L862.6 518.0L863.8 516.9L865.0 516.9L866.2 519.2L867.4 521.8L868.6 521.0L869.8 523.7L871.0 518.3L872.2 520.4L873.4 520.3L874.6 518.5L875.8 515.7L877.0 519.0L878.2 523.1L879.4 516.7L880.6 523.0L881.8 523.0L883.0 520.5L884.2 521.6L885.4 520.6L886.6 520.9L887.8 524.4L889.0 523.7L890.2 523.3L891.4 521.6L892.6 520.6L893.8 521.6L895.0 517.9L896.2 518.8L897.4 521.1L898.6 516.6L899.8 520.9L901.0 520.6L902.2 520.5L903.4 520.6L904.6 519.3L905.8 525.9L907.0 516.2L908.2 519.0L909.4 516.4L910.6 521.4L911.8 522.7L913.0 524.8L914.2 518.6L915.4 521.9L916.6 518.1L917.8 520.0L919.0 521.7L920.2 516.5L921.4 519.6L922.6 518.4L923.8 520.8L925.0 521.8L926.2 516.2L927.4 519.4L928.6 516.3L929.8 514.0L931.0 516.8L932.2 517.9L933.4 516.7L934.6 517.0L935.8 523.0L937.0 520.2L938.2 522.7L939.4 523.7L940.6 520.8L941.8 526.7L943.0 521.7L944.2 521.1L945.4 519.0L946.6 520.2L947.8 522.1L949.0 521.5L950.2 522.0L951.4 522.4L952.6 518.4L953.8 519.9L955.0 520.9L956.2 520.7L957.4 518.7L958.6 521.5L959.8 519.3L961.0 523.6L962.2 519.0L963.4 521.2L964.6 515.6L965.8 519.7L967.0 522.3L968.2 519.7L969.4 520.9L970.6 519.6L971.8 518.1L973.0 519.8L974.2 519.4L975.4 519.2L976.6 517.0L977.8 517.4L979.0 512.1L980.2 519.1L981.4 516.5L982.6 517.4L983.8 521.3L985.0 520.0L986.2 520.6L987.4 518.1L988.6 521.1L989.8 520.2L991.0 520.8L992.2 520.2L993.4 524.6L994.6 518.1L995.8 521.6L997.0 521.8L998.2 523.6L999.4 522.7L1000.6 520.5L1001.8 522.2L1003.0 525.7L1004.2 524.8L1005.4 521.4L1006.6 523.0L1007.8 522.4L1009.0 526.0L1010.2 522.0L1011.4 526.4L1012.6 527.3L1013.8 523.1L1015.0 528.7L1016.2 522.8L1017.4 522.8L1018.6 525.0L1019.8 522.0L1021.0 523.4L1022.2 520.3L1023.4 522.1L1024.6 523.3L1025.8 519.8L1027.0 524.7L1028.2 524.7L1029.4 522.6L1030.6 524.4L1031.8 524.4L1033.0 520.9L1034.2 524.0L1035.4 523.2L1036.6 521.1L1037.8 523.5L1039.0 520.0L1040.2 515.7L1041.4 523.5L1042.6 523.0L1043.8 526.7L1045.0 521.6L1046.2 524.5L1047.4 520.2L1048.6 519.6L1049.8 521.5L1051.0 522.7L1052.2 522.0L1053.4 524.6L1054.6 524.7L1055.8 518.7L1057.0 520.5L1058.2 525.9L1059.4 524.7L1060.6 518.6L1061.8 519.5L1063.0 526.0L1064.2 518.8L1065.4 524.0L1066.6 516.1L1067.8 520.3L1069.0 518.2L1070.2 521.4L1071.4 523.5L1072.6 521.5L1073.8 522.7L1075.0 523.0L1076.2 524.0L1077.4 520.7L1078.6 515.1L1079.8 515.9L1081.0 521.7L1082.2 520.9L1083.4 521.9L1084.6 518.3L1085.8 517.8L1087.0 514.3L1088.2 515.9L1089.4 518.1L1090.6 516.7L1091.8 514.3L1093.0 521.6L1094.2 518.1L1095.4 518.6L1096.6 518.1L1097.8 517.7L1099.0 515.1L1100.2 519.7L1101.4 516.1L1102.6 515.0L1103.8 520.3L1105.0 517.5L1106.2 518.6L1107.4 512.5L1108.6 521.2L1109.8 514.9L1111.0 514.1L1112.2 515.8L1113.4 514.4L1114.6 514.5L1115.8 517.7L1117.0 520.0L1118.2 515.8L1119.4 516.4L1120.6 516.4L1121.8 516.6L1123.0 513.1L1124.2 520.1L1125.4 512.5L1126.6 514.3L1127.8 520.7L1129.0 515.4L1130.2 513.2L1131.4 515.8L1132.6 521.1L1133.8 515.5L1135.0 512.6L1136.2 515.7L1137.4 515.8L1138.6 513.0L1139.8 515.5L1141.0 509.4L1142.2 515.9L1143.4 515.2L1144.6 514.8L1145.8 512.9L1147.0 517.7L1148.2 516.0L1149.4 517.5L1150.6 512.7L1151.8 515.9L1153.0 518.2L1154.2 517.3L1155.4 511.6L1156.6 513.6L1157.8 512.0L1159.0 512.8L1160.2 513.4L1161.4 517.6L1162.6 516.9L1163.8 512.8L1165.0 515.2L1166.2 511.5L1167.4 509.8L1168.6 508.2L1169.8 510.6L1171.0 517.4L1172.2 513.0L1173.4 513.7L1174.6 514.9L1175.8 507.5L1177.0 511.5L1178.2 512.0L1179.4 514.9L1180.6 512.7L1181.8 507.5L1183.0 507.3L1184.2 512.1L1185.4 511.7L1186.6 507.7L1187.8 507.6L1189.0 511.1L1190.2 507.5L1191.4 511.5L1192.6 509.9L1193.8 509.7L1195.0 515.0L1196.2 508.1L1197.4 507.3L1198.6 508.6L1199.8 503.9L1201.0 511.5L1202.2 511.1L1203.4 509.6L1204.6 509.2L1205.8 508.9L1207.0 505.2L1208.2 508.5L1209.4 508.6L1210.6 510.6L1211.8 509.2L1213.0 510.8L1214.2 509.9L1215.4 503.3L1216.6 506.2L1217.8 509.4L1219.0 506.8L1220.2 507.6L1221.4 509.6L1222.6 505.0L1223.8 507.8L1225.0 511.2L1226.2 507.2L1227.4 505.3L1228.6 506.9L1229.8 505.9L1231.0 503.7L1232.2 508.1L1233.4 506.5L1234.6 501.9L1235.8 509.2L1237.0 503.9L1238.2 506.2L1239.4 507.1L1240.6 505.6L1241.8 502.7L1243.0 500.0L1244.2 504.2L1245.4 506.0L1246.6 502.4L1247.8 504.3L1249.0 508.2L1250.2 502.6L1251.4 514.7L1252.6 505.8L1253.8 501.8L1255.0 505.7L1256.2 504.0L1257.4 507.6L1258.6 501.3L1259.8 505.9L1261.0 501.5L1262.2 504.9L1263.4 507.6L1264.6 504.2L1265.8 507.0L1267.0 502.9L1268.2 505.8L1269.4 501.8L1270.6 502.7L1271.0 503.3"/>
<path stroke="#800000" stroke-width="4.3" d="M1337.5 500.0L1339.5 501.3L1341.5 502.2L1343.5 506.0L1345.5 504.3L1347.5 502.9L1349.5 501.9L1351.5 502.5L1353.5 500.0L1355.5 500.9L1357.5 498.1L1359.5 497.1L1361.5 498.8L1363.5 494.0L1365.5 499.1L1367.5 495.3L1369.5 494.8L1371.5 498.2L1373.5 499.4L1375.5 500.2L1377.5 499.6L1379.5 498.4L1381.5 498.9L1383.5 498.7L1385.5 499.1L1387.5 498.5L1389.5 497.5L1391.5 497.0L1393.5 492.0L1395.5 493.7L1397.5 496.6L1399.5 494.8L1401.5 495.8L1403.5 495.3L1405.5 496.6L1407.5 496.3L1409.5 494.8L1411.5 498.7L1413.5 499.2L1415.5 497.8L1417.5 496.5L1419.5 499.3L1421.5 498.3L1423.5 501.8L1425.5 500.2L1427.5 498.6L1429.5 500.1L1431.5 504.0L1433.5 501.4L1435.5 500.8L1437.5 499.5L1439.5 495.9L1441.5 496.6L1443.5 491.1L1445.5 491.7L1447.5 494.0L1449.5 495.8L1451.5 496.3L1453.5 497.4L1455.5 496.7L1457.5 495.7L1459.5 494.8L1461.5 492.7L1463.5 491.7L1465.5 489.4L1467.5 487.5L1469.5 489.6L1471.5 488.3L1473.5 488.5L1475.5 489.5L1477.5 485.8L1479.5 485.7L1481.5 485.8L1483.5 487.3L1485.5 483.7L1487.5 486.0L1489.5 489.8L1491.5 488.1L1493.5 493.0L1495.5 493.4L1497.5 490.9L1499.5 488.2L1501.5 487.9L1503.5 486.3L1505.5 486.8L1507.5 487.4L1509.5 486.6L1511.5 481.2L1513.5 482.7L1515.5 483.6L1517.5 482.1L1519.5 478.5L1521.5 481.7L1523.5 481.5L1525.5 477.5L1527.5 473.9L1529.5 473.4L1531.5 470.4L1533.5 472.4L1535.5 473.8L1537.5 478.5L1539.5 473.0L1541.5 475.4L1543.5 475.6L1545.5 473.0L1547.5 472.0L1549.5 471.3L1551.5 465.8L1553.5 467.9L1555.5 465.6L1557.5 467.6L1559.5 465.2L1561.5 464.1L1563.5 463.2L1565.5 460.3L1567.5 462.6L1569.5 457.9L1571.5 458.4L1573.5 456.7L1575.5 457.1L1577.5 454.2L1579.5 451.5L1581.5 452.2L1583.5 452.2L1585.5 449.0L1587.5 454.2L1589.5 453.0L1591.5 455.4L1593.5 457.2L1595.5 457.2L1597.5 462.1L1599.5 461.9L1601.5 462.6L1603.5 460.8L1605.5 465.2L1607.5 464.7L1609.5 469.7L1611.5 468.0L1613.5 474.9L1615.5 474.8L1617.5 478.2L1619.5 483.9L1621.5 486.9L1623.5 488.9L1625.5 488.3L1627.5 489.7L1629.5 493.4L1631.5 492.0L1633.5 493.5L1635.5 497.1L1637.5 498.2L1639.5 499.0L1641.5 501.9L1643.5 498.1L1645.5 500.3L1647.5 501.9L1649.5 497.2L1651.5 495.1L1653.5 497.9L1655.5 498.4L1657.5 501.8L1659.5 503.4L1661.5 502.6L1663.5 502.9L1665.5 501.4L1667.5 506.8L1669.5 501.6L1671.5 502.3L1673.5 501.8L1675.5 503.3L1677.5 504.6L1679.5 501.7L1681.5 503.0L1683.5 503.3L1685.5 505.3L1687.5 502.5L1689.5 503.9L1691.5 506.5L1693.5 502.7L1695.5 505.5L1697.5 506.3L1699.5 505.2L1701.5 506.5L1703.5 506.3L1705.5 506.7L1707.5 505.6L1709.5 502.7L1711.5 501.3L1713.5 503.2L1715.5 498.8L1717.5 500.6L1719.5 500.3L1721.5 500.2L1723.5 503.4L1725.5 501.5L1727.5 503.2L1729.5 506.4L1731.5 507.4L1733.5 503.8L1735.5 505.0L1737.5 505.6L1739.5 505.5L1741.5 509.8L1743.5 509.6L1745.5 508.2L1747.5 505.2L1749.5 506.8L1751.5 505.2L1753.5 504.0L1755.5 504.0L1757.5 504.2L1759.5 501.3L1761.5 500.4L1763.5 500.0L1765.5 504.1L1767.5 503.3L1769.5 499.7L1771.5 503.8L1773.5 505.3L1775.5 502.4L1777.5 503.1L1779.5 507.3L1781.5 505.9L1783.5 504.7L1785.5 507.4L1787.5 508.4L1789.5 507.1L1791.5 507.8L1793.5 509.6L1795.5 510.0L1797.5 513.1L1799.5 511.0L1801.5 505.3L1803.5 499.1L1805.5 498.6L1807.5 496.1L1809.5 499.0L1811.5 498.3L1813.5 497.8L1815.5 499.6L1817.5 500.2L1819.5 496.3L1821.5 501.5L1823.5 503.6L1825.5 504.0L1827.5 504.5L1829.5 507.5L1831.5 505.7L1833.5 507.2L1835.5 502.7L1837.5 501.8L1839.5 502.5L1841.5 503.7L1843.5 503.9L1845.5 504.4L1847.5 500.2L1849.5 498.7L1851.5 501.9L1853.5 501.6L1855.5 500.9L1857.5 501.9L1859.5 498.5L1861.5 497.1L1863.5 502.1L1865.5 499.4L1867.5 498.3L1869.5 499.7L1871.5 501.5L1873.5 498.8L1875.5 501.3L1877.5 499.3L1879.5 502.2L1881.5 500.0L1883.5 501.7L1885.5 500.3L1887.5 501.4L1889.2 501.1"/>
<path stroke="#8000ff" stroke-width="4.4" d="M101.8 665.9L103.0 665.4L104.2 665.1L105.4 661.4L106.6 658.5L107.8 656.8L109.0 654.5L110.2 645.9L111.4 638.9L112.6 634.4L113.8 631.8L115.0 630.9L116.2 620.6L117.4 623.5L118.6 617.8L119.8 614.3L121.0 612.0L122.2 612.9L123.4 605.8L124.6 607.3L125.8 609.0L127.0 601.9L128.2 600.8L129.4 599.7L130.6 605.3L131.8 601.8L133.0 602.4L134.2 602.0L135.4 607.3L136.6 605.6L137.8 605.5L139.0 600.4L140.2 603.8L141.4 606.9L142.6 607.9L143.8 610.2L145.0 614.5L146.2 613.4L147.4 614.9L148.6 613.8L149.8 614.2L151.0 613.1L152.2 613.2L153.4 608.5L154.6 610.3L155.8 610.9L157.0 608.7L158.2 608.9L159.4 603.7L160.6 606.0L161.8 606.5L163.0 608.4L164.2 605.1L165.4 603.6L166.6 602.1L167.8 602.9L169.0 600.9L170.2 603.2L171.4 599.5L172.6 601.7L173.8 597.9L175.0 595.5L176.2 597.3L177.4 604.8L178.6 602.9L179.8 604.8L181.0 614.0L182.2 606.6L183.4 611.1L184.6 608.4L185.8 610.6L187.0 613.7L188.2 612.1L189.4 617.8L190.6 611.2L191.8 612.2L193.0 610.8L194.2 614.6L195.4 613.0L196.6 614.8L197.8 613.2L199.0 616.4L200.2 613.7L201.4 615.6L202.6 615.1L203.8 613.7L205.0 615.6L206.2 615.6L207.4 617.0L208.6 610.9L209.8 619.4L211.0 616.2L212.2 617.0L213.4 617.3L214.6 612.7L215.8 617.9L217.0 616.9L218.2 615.0L219.4 618.3L220.6 615.7L221.8 614.0L223.0 618.6L224.2 618.4L225.4 617.1L226.6 615.9L227.8 619.9L229.0 614.5L230.2 616.2L231.4 615.1L232.6 614.9L233.8 616.4L235.0 612.7L236.2 616.1L237.4 615.4L238.6 613.8L239.8 612.7L241.0 610.9L242.2 614.3L243.4 618.0L244.6 612.2L245.8 611.4L247.0 611.8L248.2 613.9L249.4 614.3L250.6 613.8L251.8 612.7L253.0 609.7L254.2 614.9L255.4 611.5L256.6 613.1L257.8 612.2L259.0 611.9L260.2 613.7L261.4 611.9L262.6 616.5L263.8 614.8L265.0 613.3L266.2 610.4L267.4 612.8L268.6 611.6L269.8 612.3L271.0 610.6L272.2 607.8L273.4 607.8L274.6 609.8L275.8 611.9L277.0 609.5L278.2 608.1L279.4 609.0L280.6 610.8L281.8 607.9L283.0 607.9L284.2 609.6L285.4 611.0L286.6 606.6L287.8 608.7L289.0 609.7L290.2 608.8L291.4 611.2L292.6 612.1L293.8 608.4L295.0 616.1L296.2 611.4L297.4 614.3L298.6 612.5L299.8 606.4L301.0 607.8L302.2 611.6L303.4 612.4L304.6 612.7L305.8 606.6L307.0 609.9L308.2 612.7L309.4 614.7L310.6 612.8L311.8 608.0L313.0 609.8L314.2 610.2L315.4 609.8L316.6 613.1L317.8 613.2L319.0 613.3L320.2 607.4L321.4 606.9L322.6 606.1L323.8 608.9L325.0 609.6L326.2 605.9L327.4 609.8L328.6 610.4L329.8 609.9L331.0 612.1L332.2 609.2L333.4 609.6L334.6 616.3L335.8 612.5L337.0 616.4L338.2 613.1L339.4 609.8L340.6 617.1L341.8 613.5L343.0 615.0L344.2 619.8L345.4 614.2L346.6 617.0L347.8 620.2L349.0 622.2L350.2 614.8L351.4 617.4L352.6 615.3L353.8 619.7L355.0 615.4L356.2 619.6L357.4 613.3L358.6 618.0L359.8 619.5L361.0 617.4L362.2 615.7L363.4 614.3L364.6 612.2L365.8 617.5L367.0 617.4L368.2 615.9L369.4 611.9L370.6 612.7L371.8 614.4L373.0 618.7L374.2 619.0L375.4 616.8L376.6 610.9L377.8 609.3L379.0 614.2L380.2 615.1L381.4 617.8L382.6 611.6L383.8 616.3L385.0 612.7L386.2 614.8L387.4 611.9L388.6 612.4L389.8 612.9L391.0 614.6L392.2 613.5L393.4 614.5L394.6 617.9L395.8 615.0L397.0 617.9L398.2 617.3L399.4 617.4L400.6 620.3L401.8 614.9L403.0 620.0L404.2 610.9L405.4 612.5L406.6 615.7L407.8 607.5L409.0 612.1L410.2 613.1L411.4 607.9L412.6 614.3L413.8 614.5L415.0 609.5L416.2 608.8L417.4 609.8L418.6 609.2L419.8 604.7L421.0 603.8L422.2 608.8L423.4 603.4L424.6 601.4L425.8 598.7L427.0 592.6L428.2 598.4L429.4 597.9L430.6 596.6L431.8 595.3L433.0 596.7L434.2 594.4L435.4 593.2L436.6 591.3L437.8 589.9L439.0 590.0L440.2 589.0L441.4 594.5L442.6 593.4L443.8 593.8L445.0 599.7L446.2 597.7L447.4 594.0L448.6 595.7L449.8 598.6L451.0 598.6L452.2 604.0L453.4 603.7L454.6 604.8L455.8 604.8L457.0 604.0L458.2 597.0L459.4 597.6L460.6 598.0L461.8 601.3L463.0 600.1L464.2 603.6L465.4 601.8L466.6 601.6L467.8 596.2L469.0 597.2L470.2 599.4L471.4 593.9L472.6 594.5L473.8 600.1L475.0 600.4L476.2 590.5L477.4 594.2L478.6 591.0L479.8 588.6L481.0 591.4L482.2 595.2L483.4 596.0L484.6 595.6L485.8 598.7L487.0 594.0L488.2 595.9L489.4 600.8L490.6 599.5L491.8 596.2L493.0 595.7L494.2 599.3L495.4 600.2L496.6 601.1L497.8 600.4L499.0 601.6L500.2 600.4L501.4 602.3L502.6 600.7L503.8 598.8L505.0 601.8L506.2 599.2L507.4 598.8L508.6 601.7L509.8 600.8L511.0 604.1L512.2 603.3L513.4 597.8L514.6 597.7L515.8 596.3L517.0 594.2L518.2 600.9L519.4 598.4L520.6 595.0L521.8 600.3L523.0 597.2L524.2 597.0L525.4 593.7L526.6 588.5L527.8 595.5L529.0 591.7L530.2 589.5L531.4 594.4L532.6 594.3L533.8 590.5L535.0 592.5L536.2 593.7L537.4 592.5L538.6 590.9L539.8 595.8L541.0 591.3L542.2 594.8L543.4 591.6L544.6 590.9L545.8 594.7L547.0 589.9L548.2 592.2L549.4 592.5L550.6 593.9L551.8 590.8L553.0 587.1L554.2 586.5L555.4 586.2L556.6 587.5L557.8 589.8L559.0 589.2L560.2 588.6L561.4 589.3L562.6 587.6L563.8 589.1L565.0 589.3L566.2 594.1L567.4 588.1L568.6 587.9L569.8 587.6L571.0 586.2L572.2 590.0L573.4 584.6L574.6 592.6L575.8 583.6L577.0 587.1L578.2 589.6L579.4 588.2L580.6 588.5L581.8 582.7L583.0 588.3L584.2 587.3L585.4 589.5L586.6 585.4L587.8 585.5L589.0 581.0L590.2 585.4L591.4 579.9L592.6 581.9L593.8 583.8L595.0 575.6L596.2 576.9L597.4 573.4L598.6 571.7L599.8 566.9L601.0 569.0L602.2 569.3L603.4 570.2L604.6 569.5L605.8 563.9L607.0 565.1L608.2 561.1L609.4 557.7L610.6 557.4L611.8 559.2L613.0 557.3L614.2 549.3L615.4 552.4L616.6 547.9L617.8 547.8L619.0 544.3L620.2 538.4L621.4 535.7L622.6 536.5L623.8 533.6L625.0 530.6L626.2 524.2L627.4 527.2L628.6 514.7L629.8 520.5L631.0 513.6L632.2 515.8L633.4 524.8L634.6 524.0L635.8 528.1L637.0 530.3L638.2 541.9L639.4 551.0L640.6 562.4L641.8 570.5L643.0 574.2L644.2 579.1L645.4 586.2L646.6 591.5L647.8 593.7L649.0 594.9L650.2 598.6L651.4 599.6L652.6 599.0L653.8 603.0L655.0 598.4L656.2 604.9L657.4 600.0L658.6 605.2L659.8 608.2L661.0 607.6L662.2 604.9L663.4 607.7L664.6 608.3L665.8 607.7L667.0 610.0L668.2 608.5L669.4 608.6L670.6 608.8L671.8 612.8L673.0 609.8L674.2 608.5L675.4 614.2L676.6 610.5L677.8 608.9L679.0 614.0L680.2 611.0L681.4 611.1L682.6 610.4L683.8 613.9L685.0 614.0L686.2 614.7L687.4 610.5L688.6 617.9L689.8 610.6L691.0 609.3L692.2 611.1L693.4 607.5L694.6 609.9L695.8 610.8L697.0 612.2L698.2 615.0L699.4 612.8L700.6 611.0L701.8 611.8L703.0 608.7L704.2 615.1L705.4 612.0L706.6 612.5L707.8 609.9L709.0 609.0L710.2 608.5L711.4 608.7L712.6 609.2L713.8 612.5L715.0 608.6L716.2 611.6L717.4 612.1L718.6 610.9L719.8 611.9L721.0 604.1L722.2 610.2L723.4 608.3L724.6 612.6L725.8 610.0L727.0 608.2L728.2 609.0L729.4 609.3L730.6 612.9L731.8 607.5L733.0 609.1L734.2 606.9L735.4 608.8L736.6 608.8L737.8 608.3L739.0 607.5L740.2 611.7L741.4 610.8L742.6 609.4L743.8 607.0L745.0 609.6L746.2 608.9L747.4 610.9L748.6 610.2L749.8 607.3L751.0 610.4L752.2 613.6L753.4 610.6L754.6 606.7L755.8 608.4L757.0 611.9L758.2 612.7L759.4 606.1L760.6 612.5L761.8 614.1L763.0 613.7L764.2 607.1L765.4 610.4L766.6 613.7L767.8 612.5L769.0 609.9L770.2 608.8L771.4 611.2L772.6 612.9L773.8 609.4L775.0 611.7L776.2 615.4L777.4 615.8L778.6 613.3L779.8 616.4L781.0 613.1L782.2 612.1L783.4 612.3L784.6 611.6L785.8 613.3L787.0 614.0L788.2 620.4L789.4 618.1L790.6 621.6L791.8 614.2L793.0 618.8L794.2 616.4L795.4 614.5L796.6 619.8L797.8 617.2L799.0 621.1L800.2 626.0L801.4 620.4L802.6 620.3L803.8 619.4L805.0 617.8L806.2 621.3L807.4 620.1L808.6 622.7L809.8 621.7L811.0 623.6L812.2 624.3L813.4 626.2L814.6 620.8L815.8 621.8L817.0 627.5L818.2 626.4L819.4 622.8L820.6 630.9L821.8 618.2L823.0 624.2L824.2 624.6L825.4 626.8L826.6 622.6L827.8 626.1L829.0 626.9L830.2 629.4L831.4 622.2L832.6 625.3L833.8 625.6L835.0 629.6L836.2 632.1L837.4 631.7L838.6 626.0L839.8 628.4L841.0 627.6L842.2 628.1L843.4 626.6L844.6 628.9L845.8 628.4L847.0 630.2L848.2 628.6L849.4 635.3L850.6 625.3L851.8 628.0L853.0 628.2L854.2 630.2L855.4 632.2L856.6 630.0L857.8 637.6L859.0 631.3L860.2 634.1L861.4 630.6L862.6 629.2L863.8 637.1L865.0 629.2L866.2 627.8L867.4 629.8L868.6 632.2L869.8 635.0L871.0 630.8L872.2 630.6L873.4 631.7L874.6 632.8L875.8 628.7L877.0 631.3L878.2 629.0L879.4 631.2L880.6 631.2L881.8 632.3L883.0 634.0L884.2 628.2L885.4 627.1L886.6 629.5L887.8 629.1L889.0 628.9L890.2 630.7L891.4 628.9L892.6 630.4L893.8 628.3L895.0 628.0L896.2 626.5L897.4 630.3L898.6 629.0L899.8 632.0L901.0 630.7L902.2 628.1L903.4 630.1L904.6 629.5L905.8 629.6L907.0 626.8L908.2 630.7L909.4 630.6L910.6 627.7L911.8 631.5L913.0 631.8L914.2 628.4L915.4 628.6L916.6 632.1L917.8 633.4L919.0 632.5L920.2 627.4L921.4 628.9L922.6 632.6L923.8 628.7L925.0 633.4L926.2 633.4L927.4 628.6L928.6 630.9L929.8 631.8L931.0 631.1L932.2 628.7L933.4 629.1L934.6 629.2L935.8 633.0L937.0 630.6L938.2 631.7L939.4 629.3L940.6 629.8L941.8 630.4L943.0 627.8L944.2 626.2L945.4 629.0L946.6 627.1L947.8 626.8L949.0 626.3L950.2 624.9L951.4 628.6L952.6 626.1L953.8 626.5L955.0 627.7L956.2 625.6L957.4 629.7L958.6 630.6L959.8 625.9L961.0 627.8L962.2 628.2L963.4 628.2L964.6 629.0L965.8 629.7L967.0 627.4L968.2 630.7L969.4 624.5L970.6 626.6L971.8 631.3L973.0 628.1L974.2 630.0L975.4 632.0L976.6 633.3L977.8 626.6L979.0 627.5L980.2 627.5L981.4 627.5L982.6 629.9L983.8 624.7L985.0 630.2L986.2 629.1L987.4 632.7L988.6 625.6L989.8 630.7L991.0 628.3L992.2 627.5L993.4 631.2L994.6 631.3L995.8 626.0L997.0 631.2L998.2 628.6L999.4 628.3L1000.6 628.1L1001.8 629.0L1003.0 627.8L1004.2 629.4L1005.4 623.5L1006.6 631.3L1007.8 629.9L1009.0 627.9L1010.2 630.1L1011.4 628.7L1012.6 630.6L1013.8 631.8L1015.0 630.5L1016.2 622.4L1017.4 632.7L1018.6 629.9L1019.8 631.5L1021.0 628.1L1022.2 629.7L1023.4 629.7L1024.6 631.6L1025.8 632.2L1027.0 631.4L1028.2 631.3L1029.4 632.9L1030.6 633.5L1031.8 632.6L1033.0 630.4L1034.2 633.2L1035.4 630.0L1036.6 632.1L1037.8 635.1L1039.0 628.0L1040.2 628.6L1041.4 625.9L1042.6 635.4L1043.8 631.1L1045.0 631.7L1046.2 631.0L1047.4 629.9L1048.6 628.0L1049.8 630.5L1051.0 627.5L1052.2 631.1L1053.4 633.1L1054.6 634.6L1055.8 627.0L1057.0 628.0L1058.2 626.7L1059.4 624.6L1060.6 625.7L1061.8 627.9L1063.0 630.4L1064.2 630.8L1065.4 625.7L1066.6 629.2L1067.8 627.0L1069.0 627.9L1070.2 629.6L1071.4 629.3L1072.6 629.1L1073.8 627.5L1075.0 627.3L1076.2 627.1L1077.4 627.8L1078.6 626.0L1079.8 627.2L1081.0 626.4L1082.2 629.1L1083.4 623.5L1084.6 624.7L1085.8 625.8L1087.0 625.2L1088.2 620.1L1089.4 627.7L1090.6 628.5L1091.8 621.0L1093.0 621.6L1094.2 627.8L1095.4 621.1L1096.6 624.7L1097.8 624.1L1099.0 623.2L1100.2 624.9L1101.4 621.4L1102.6 620.1L1103.8 622.3L1105.0 623.1L1106.2 623.9L1107.4 625.2L1108.6 626.7L1109.8 624.3L1111.0 622.8L1112.2 624.0L1113.4 619.9L1114.6 620.8L1115.8 620.5L1117.0 618.5L1118.2 623.7L1119.4 619.2L1120.6 618.2L1121.8 619.0L1123.0 624.6L1124.2 623.8L1125.4 621.3L1126.6 622.0L1127.8 616.0L1129.0 617.9L1130.2 620.5L1131.4 617.2L1132.6 616.1L1133.8 617.5L1135.0 620.8L1136.2 622.3L1137.4 616.2L1138.6 621.6L1139.8 615.3L1141.0 618.3L1142.2 617.7L1143.4 616.8L1144.6 621.4L1145.8 619.1L1147.0 617.2L1148.2 619.3L1149.4 615.1L1150.6 617.5L1151.8 619.7L1153.0 617.1L1154.2 620.6L1155.4 613.3L1156.6 612.8L1157.8 614.9L1159.0 614.9L1160.2 614.0L1161.4 618.4L1162.6 615.8L1163.8 612.4L1165.0 613.0L1166.2 615.5L1167.4 611.4L1168.6 615.0L1169.8 611.6L1171.0 613.7L1172.2 614.2L1173.4 610.0L1174.6 612.2L1175.8 612.2L1177.0 613.3L1178.2 614.6L1179.4 612.5L1180.6 609.3L1181.8 611.4L1183.0 610.1L1184.2 611.5L1185.4 614.1L1186.6 613.8L1187.8 614.2L1189.0 609.4L1190.2 607.1L1191.4 608.6L1192.6 610.5L1193.8 608.9L1195.0 607.2L1196.2 609.5L1197.4 612.3L1198.6 608.4L1199.8 609.8L1201.0 613.5L1202.2 607.0L1203.4 610.0L1204.6 604.4L1205.8 605.5L1207.0 606.8L1208.2 609.5L1209.4 607.0L1210.6 605.3L1211.8 607.7L1213.0 609.5L1214.2 609.1L1215.4 603.3L1216.6 606.6L1217.8 603.5L1219.0 606.2L1220.2 606.8L1221.4 601.3L1222.6 608.7L1223.8 598.9L1225.0 603.5L1226.2 598.7L1227.4 601.5L1228.6 606.3L1229.8 605.7L1231.0 607.1L1232.2 601.8L1233.4 600.3L1234.6 600.2L1235.8 609.4L1237.0 604.8L1238.2 600.2L1239.4 602.4L1240.6 602.2L1241.8 604.6L1243.0 600.9L1244.2 598.1L1245.4 600.4L1246.6 603.5L1247.8 602.3L1249.0 600.7L1250.2 599.0L1251.4 604.9L1252.6 603.4L1253.8 599.9L1255.0 600.6L1256.2 606.2L1257.4 601.2L1258.6 605.0L1259.8 601.4L1261.0 601.4L1262.2 600.6L1263.4 603.1L1264.6 602.8L1265.8 599.5L1267.0 605.7L1268.2 600.6L1269.4 600.2L1270.6 604.3L1271.0 599.7"/>
<path stroke="#8000ff" stroke-width="4.3" d="M1337.5 597.4L1339.5 597.7L1341.5 598.2L1343.5 594.3L1345.5 594.8L1347.5 592.4L1349.5 596.1L1351.5 596.1L1353.5 597.3L1355.5 597.7L1357.5 597.2L1359.5 599.7L1361.5 598.2L1363.5 597.0L1365.5 593.4L1367.5 590.7L1369.5 587.4L1371.5 593.8L1373.5 589.0L1375.5 588.3L1377.5 591.1L1379.5 590.1L1381.5 592.6L1383.5 593.3L1385.5 591.1L1387.5 592.8L1389.5 590.9L1391.5 591.6L1393.5 590.2L1395.5 590.3L1397.5 590.5L1399.5 591.7L1401.5 588.7L1403.5 590.0L1405.5 590.6L1407.5 587.0L1409.5 589.2L1411.5 587.3L1413.5 588.6L1415.5 589.2L1417.5 588.6L1419.5 591.4L1421.5 591.6L1423.5 590.4L1425.5 590.6L1427.5 591.2L1429.5 592.3L1431.5 592.7L1433.5 590.4L1435.5 593.7L1437.5 593.8L1439.5 593.1L1441.5 592.4L1443.5 590.1L1445.5 591.9L1447.5 589.5L1449.5 588.9L1451.5 592.0L1453.5 585.4L1455.5 583.8L1457.5 588.3L1459.5 586.0L1461.5 588.9L1463.5 590.9L1465.5 590.8L1467.5 594.9L1469.5 589.4L1471.5 582.3L1473.5 579.5L1475.5 579.7L1477.5 581.5L1479.5 585.2L1481.5 583.2L1483.5 584.8L1485.5 585.4L1487.5 582.0L1489.5 582.1L1491.5 578.1L1493.5 574.2L1495.5 571.9L1497.5 573.1L1499.5 574.1L1501.5 572.9L1503.5 574.1L1505.5 571.6L1507.5 569.7L1509.5 576.8L1511.5 576.0L1513.5 571.2L1515.5 572.6L1517.5 571.1L1519.5 569.8L1521.5 567.3L1523.5 568.2L1525.5 567.4L1527.5 562.4L1529.5 562.2L1531.5 556.9L1533.5 557.3L1535.5 557.5L1537.5 561.1L1539.5 562.4L1541.5 561.0L1543.5 559.2L1545.5 558.1L1547.5 556.1L1549.5 554.3L1551.5 548.3L1553.5 547.1L1555.5 548.0L1557.5 543.1L1559.5 540.8L1561.5 538.8L1563.5 541.0L1565.5 540.8L1567.5 537.6L1569.5 539.0L1571.5 538.5L1573.5 538.1L1575.5 533.8L1577.5 528.5L1579.5 523.8L1581.5 522.1L1583.5 517.2L1585.5 519.5L1587.5 516.5L1589.5 513.5L1591.5 509.6L1593.5 511.1L1595.5 510.6L1597.5 511.5L1599.5 514.5L1601.5 519.6L1603.5 517.7L1605.5 520.7L1607.5 528.1L1609.5 529.9L1611.5 534.7L1613.5 537.8L1615.5 546.9L1617.5 551.1L1619.5 562.0L1621.5 571.9L1623.5 579.6L1625.5 580.7L1627.5 582.0L1629.5 586.3L1631.5 588.1L1633.5 588.5L1635.5 592.8L1637.5 594.3L1639.5 598.9L1641.5 598.8L1643.5 597.9L1645.5 595.1L1647.5 597.1L1649.5 598.2L1651.5 601.2L1653.5 599.8L1655.5 602.6L1657.5 604.1L1659.5 607.5L1661.5 606.5L1663.5 608.1L1665.5 605.7L1667.5 607.8L1669.5 607.2L1671.5 606.8L1673.5 606.5L1675.5 606.5L1677.5 607.9L1679.5 607.9L1681.5 608.1L1683.5 607.9L1685.5 607.8L1687.5 608.5L1689.5 609.9L1691.5 611.0L1693.5 611.1L1695.5 611.1L1697.5 612.2L1699.5 614.1L1701.5 610.9L1703.5 610.6L1705.5 608.8L1707.5 608.6L1709.5 606.6L1711.5 608.5L1713.5 608.5L1715.5 608.0L1717.5 610.9L1719.5 610.7L1721.5 613.0L1723.5 616.1L1725.5 614.3L1727.5 616.6L1729.5 615.3L1731.5 616.3L1733.5 614.4L1735.5 615.2L1737.5 613.6L1739.5 614.6L1741.5 612.8L1743.5 610.9L1745.5 611.7L1747.5 611.0L1749.5 612.9L1751.5 609.2L1753.5 608.7L1755.5 613.0L1757.5 610.9L1759.5 609.9L1761.5 611.5L1763.5 612.2L1765.5 613.2L1767.5 617.3L1769.5 614.4L1771.5 616.1L1773.5 616.4L1775.5 615.4L1777.5 614.3L1779.5 619.8L1781.5 616.9L1783.5 615.9L1785.5 617.4L1787.5 615.0L1789.5 615.0L1791.5 616.7L1793.5 614.2L1795.5 614.7L1797.5 613.5L1799.5 615.7L1801.5 610.9L1803.5 608.9L1805.5 612.4L1807.5 611.4L1809.5 615.3L1811.5 611.1L1813.5 610.7L1815.5 611.2L1817.5 610.1L1819.5 610.1L1821.5 607.7L1823.5 609.7L1825.5 613.3L1827.5 610.7L1829.5 613.0L1831.5 615.2L1833.5 616.9L1835.5 617.1L1837.5 619.0L1839.5 619.6L1841.5 617.0L1843.5 614.3L1845.5 614.3L1847.5 611.3L1849.5 609.7L1851.5 610.6L1853.5 609.7L1855.5 607.7L1857.5 607.0L1859.5 608.6L1861.5 610.2L1863.5 610.9L1865.5 610.2L1867.5 613.3L1869.5 610.5L1871.5 609.5L1873.5 610.9L1875.5 612.6L1877.5 612.1L1879.5 612.2L1881.5 613.7L1883.5 613.6L1885.5 614.5L1887.5 611.9L1889.2 613.3"/>
<path stroke="#000080" stroke-width="4.4" d="M101.8 758.5L103.0 756.5L104.2 758.9L105.4 753.9L106.6 752.1L107.8 744.1L109.0 741.4L110.2 738.5L111.4 732.7L112.6 725.6L113.8 725.2L115.0 719.4L116.2 717.8L117.4 713.3L118.6 711.5L119.8 704.5L121.0 702.4L122.2 703.4L123.4 706.1L124.6 701.0L125.8 700.8L127.0 698.7L128.2 704.6L129.4 700.6L130.6 699.9L131.8 701.0L133.0 699.0L134.2 701.8L135.4 700.7L136.6 700.0L137.8 697.2L139.0 698.9L140.2 702.5L141.4 699.8L142.6 704.8L143.8 707.8L145.0 707.3L146.2 712.0L147.4 701.6L148.6 705.4L149.8 704.5L151.0 705.7L152.2 703.8L153.4 702.2L154.6 703.8L155.8 702.0L157.0 707.0L158.2 700.4L159.4 701.7L160.6 702.1L161.8 700.2L163.0 698.1L164.2 697.7L165.4 696.7L166.6 694.4L167.8 696.0L169.0 699.0L170.2 697.9L171.4 692.2L172.6 697.6L173.8 697.0L175.0 698.0L176.2 699.1L177.4 703.1L178.6 700.3L179.8 701.8L181.0 708.1L182.2 701.2L183.4 704.1L184.6 706.4L185.8 705.2L187.0 704.6L188.2 709.7L189.4 708.5L190.6 706.2L191.8 707.8L193.0 705.2L194.2 704.6L195.4 708.3L196.6 708.6L197.8 702.6L199.0 709.0L200.2 710.3L201.4 707.7L202.6 703.1L203.8 707.8L205.0 704.9L206.2 709.6L207.4 706.9L208.6 707.1L209.8 705.5L211.0 707.7L212.2 708.5L213.4 705.2L214.6 707.3L215.8 706.6L217.0 711.3L218.2 708.6L219.4 706.5L220.6 709.5L221.8 706.7L223.0 705.3L224.2 704.3L225.4 707.4L226.6 704.3L227.8 699.4L229.0 701.4L230.2 702.4L231.4 697.6L232.6 705.5L233.8 706.5L235.0 701.4L236.2 706.2L237.4 705.1L238.6 704.6L239.8 702.1L241.0 708.7L242.2 705.3L243.4 702.9L244.6 706.7L245.8 705.2L247.0 703.0L248.2 706.9L249.4 706.3L250.6 700.9L251.8 705.6L253.0 706.8L254.2 708.1L255.4 708.8L256.6 706.6L257.8 707.1L259.0 703.9L260.2 706.2L261.4 704.7L262.6 708.2L263.8 709.0L265.0 704.7L266.2 700.8L267.4 706.6L268.6 708.2L269.8 705.1L271.0 702.2L272.2 707.0L273.4 703.4L274.6 705.4L275.8 704.7L277.0 706.8L278.2 701.7L279.4 707.8L280.6 705.5L281.8 709.8L283.0 702.1L284.2 699.3L285.4 704.0L286.6 700.8L287.8 704.2L289.0 699.3L290.2 706.0L291.4 704.5L292.6 706.1L293.8 704.4L295.0 701.6L296.2 707.5L297.4 708.2L298.6 709.0L299.8 704.3L301.0 706.1L302.2 707.3L303.4 704.8L304.6 706.4L305.8 706.8L307.0 708.8L308.2 702.4L309.4 710.6L310.6 707.4L311.8 707.7L313.0 706.3L314.2 710.4L315.4 709.8L316.6 708.9L317.8 711.5L319.0 708.2L320.2 712.0L321.4 708.5L322.6 710.1L323.8 715.7L325.0 710.3L326.2 710.5L327.4 712.3L328.6 713.7L329.8 714.9L331.0 714.4L332.2 714.6L333.4 715.1L334.6 721.6L335.8 710.5L337.0 713.7L338.2 713.7L339.4 708.0L340.6 710.4L341.8 709.0L343.0 699.8L344.2 709.5L345.4 706.9L346.6 705.9L347.8 703.0L349.0 704.7L350.2 703.7L351.4 703.9L352.6 708.3L353.8 700.9L355.0 700.8L356.2 705.0L357.4 708.5L358.6 704.4L359.8 708.9L361.0 705.7L362.2 707.3L363.4 707.6L364.6 708.8L365.8 709.5L367.0 707.7L368.2 705.9L369.4 704.9L370.6 711.3L371.8 709.4L373.0 711.1L374.2 707.0L375.4 710.1L376.6 711.0L377.8 711.9L379.0 708.8L380.2 712.1L381.4 705.9L382.6 708.5L383.8 706.8L385.0 706.1L386.2 709.5L387.4 711.6L388.6 707.8L389.8 708.6L391.0 708.8L392.2 709.2L393.4 712.8L394.6 713.6L395.8 707.8L397.0 712.9L398.2 712.6L399.4 710.0L400.6 706.7L401.8 709.9L403.0 707.0L404.2 710.5L405.4 710.1L406.6 712.1L407.8 707.0L409.0 708.4L410.2 706.7L411.4 708.2L412.6 705.0L413.8 704.5L415.0 702.2L416.2 704.2L417.4 703.6L418.6 706.7L419.8 702.7L421.0 700.4L422.2 702.7L423.4 701.7L424.6 697.6L425.8 698.3L427.0 696.3L428.2 695.7L429.4 695.6L430.6 694.2L431.8 692.3L433.0 694.0L434.2 691.0L435.4 687.0L436.6 690.2L437.8 694.5L439.0 692.9L440.2 693.8L441.4 693.1L442.6 690.8L443.8 689.4L445.0 689.9L446.2 693.4L447.4 692.9L448.6 694.2L449.8 692.7L451.0 699.7L452.2 692.6L453.4 698.1L454.6 694.1L455.8 698.1L457.0 699.5L458.2 699.2L459.4 698.4L460.6 696.1L461.8 691.1L463.0 690.6L464.2 695.2L465.4 696.7L466.6 691.2L467.8 697.2L469.0 694.4L470.2 691.6L471.4 694.8L472.6 699.7L473.8 692.6L475.0 694.8L476.2 694.8L477.4 693.0L478.6 696.8L479.8 697.8L481.0 696.1L482.2 698.5L483.4 695.5L484.6 697.3L485.8 693.1L487.0 698.7L488.2 695.8L489.4 692.1L490.6 696.5L491.8 693.3L493.0 694.4L494.2 699.2L495.4 699.4L496.6 695.3L497.8 692.5L499.0 699.7L500.2 695.5L501.4 700.6L502.6 700.9L503.8 700.4L505.0 704.2L506.2 700.6L507.4 698.0L508.6 696.8L509.8 697.5L511.0 698.0L512.2 693.5L513.4 695.6L514.6 696.0L515.8 691.7L517.0 691.8L518.2 695.4L519.4 690.7L520.6 696.9L521.8 694.8L523.0 693.8L524.2 691.1L525.4 689.7L526.6 692.6L527.8 692.8L529.0 694.2L530.2 684.9L531.4 692.5L532.6 693.0L533.8 689.3L535.0 691.6L536.2 689.1L537.4 689.1L538.6 686.6L539.8 691.7L541.0 689.9L542.2 688.6L543.4 688.4L544.6 689.9L545.8 692.5L547.0 692.3L548.2 688.9L549.4 686.3L550.6 689.6L551.8 683.8L553.0 691.5L554.2 689.5L555.4 686.2L556.6 686.8L557.8 685.4L559.0 688.0L560.2 684.7L561.4 687.0L562.6 685.1L563.8 682.2L565.0 686.4L566.2 685.3L567.4 684.0L568.6 683.0L569.8 684.7L571.0 684.7L572.2 683.7L573.4 684.0L574.6 684.8L575.8 683.1L577.0 687.3L578.2 685.5L579.4 685.3L580.6 680.5L581.8 680.6L583.0 681.0L584.2 679.5L585.4 677.0L586.6 676.1L587.8 677.9L589.0 677.7L590.2 678.3L591.4 672.8L592.6 674.2L593.8 673.4L595.0 671.1L596.2 669.7L597.4 668.4L598.6 669.4L599.8 668.4L601.0 663.3L602.2 663.5L603.4 661.2L604.6 662.7L605.8 660.0L607.0 661.0L608.2 662.5L609.4 657.0L610.6 659.7L611.8 656.2L613.0 653.6L614.2 651.9L615.4 650.3L616.6 650.6L617.8 651.8L619.0 645.9L620.2 643.2L621.4 645.1L622.6 642.3L623.8 637.7L625.0 640.5L626.2 636.8L627.4 637.1L628.6 637.3L629.8 633.2L631.0 635.3L632.2 638.2L633.4 635.0L634.6 639.0L635.8 636.9L637.0 643.2L638.2 647.1L639.4 649.9L640.6 655.4L641.8 658.0L643.0 668.4L644.2 673.0L645.4 681.7L646.6 689.8L647.8 688.4L649.0 688.8L650.2 696.2L651.4 693.5L652.6 699.4L653.8 699.6L655.0 703.2L656.2 700.8L657.4 698.1L658.6 701.0L659.8 702.7L661.0 706.9L662.2 700.7L663.4 704.1L664.6 699.9L665.8 702.4L667.0 706.0L668.2 705.9L669.4 704.8L670.6 704.2L671.8 705.3L673.0 706.6L674.2 704.3L675.4 704.5L676.6 705.5L677.8 706.2L679.0 701.5L680.2 705.3L681.4 705.0L682.6 705.5L683.8 704.0L685.0 708.0L686.2 707.2L687.4 705.5L688.6 712.4L689.8 707.1L691.0 708.2L692.2 705.8L693.4 706.4L694.6 707.3L695.8 703.1L697.0 701.1L698.2 709.4L699.4 700.5L700.6 701.1L701.8 703.7L703.0 702.7L704.2 704.3L705.4 707.7L706.6 705.8L707.8 698.8L709.0 702.2L710.2 704.0L711.4 703.0L712.6 698.5L713.8 701.6L715.0 705.6L716.2 702.9L717.4 701.5L718.6 699.5L719.8 704.9L721.0 708.3L722.2 700.5L723.4 704.6L724.6 702.3L725.8 699.4L727.0 698.4L728.2 702.6L729.4 701.4L730.6 699.8L731.8 701.9L733.0 702.2L734.2 707.1L735.4 700.5L736.6 698.8L737.8 697.9L739.0 701.4L740.2 701.9L741.4 699.4L742.6 701.9L743.8 699.7L745.0 698.7L746.2 697.9L747.4 698.9L748.6 699.2L749.8 697.6L751.0 695.7L752.2 695.6L753.4 701.3L754.6 697.5L755.8 703.6L757.0 696.3L758.2 699.8L759.4 699.6L760.6 697.5L761.8 696.8L763.0 699.3L764.2 704.6L765.4 699.9L766.6 703.2L767.8 703.7L769.0 704.6L770.2 697.9L771.4 702.3L772.6 699.3L773.8 705.6L775.0 706.6L776.2 707.9L777.4 707.4L778.6 709.0L779.8 708.9L781.0 707.8L782.2 709.2L783.4 705.3L784.6 708.1L785.8 705.4L787.0 706.7L788.2 708.8L789.4 712.1L790.6 708.5L791.8 710.8L793.0 709.7L794.2 713.1L795.4 711.8L796.6 709.2L797.8 713.0L799.0 711.7L800.2 710.9L801.4 715.6L802.6 711.8L803.8 710.5L805.0 707.1L806.2 709.0L807.4 715.1L808.6 705.4L809.8 716.1L811.0 711.3L812.2 711.7L813.4 717.2L814.6 711.0L815.8 714.2L817.0 713.8L818.2 715.8L819.4 719.5L820.6 721.6L821.8 713.5L823.0 715.4L824.2 724.5L825.4 720.6L826.6 724.1L827.8 724.2L829.0 720.2L830.2 718.5L831.4 722.9L832.6 721.7L833.8 724.5L835.0 721.8L836.2 726.7L837.4 716.8L838.6 716.6L839.8 719.5L841.0 717.9L842.2 720.9L843.4 719.0L844.6 723.9L845.8 721.1L847.0 721.8L848.2 719.4L849.4 720.7L850.6 719.8L851.8 718.4L853.0 721.4L854.2 715.9L855.4 719.5L856.6 719.1L857.8 723.6L859.0 719.9L860.2 716.4L861.4 720.3L862.6 721.5L863.8 721.8L865.0 722.8L866.2 722.6L867.4 721.9L868.6 724.0L869.8 720.0L871.0 722.3L872.2 721.5L873.4 722.2L874.6 722.5L875.8 720.7L877.0 721.0L878.2 721.8L879.4 716.4L880.6 722.8L881.8 724.3L883.0 721.7L884.2 721.3L885.4 721.8L886.6 725.2L887.8 721.4L889.0 725.2L890.2 719.4L891.4 721.5L892.6 726.8L893.8 721.9L895.0 719.8L896.2 724.1L897.4 722.4L898.6 723.5L899.8 725.1L901.0 722.8L902.2 725.1L903.4 723.5L904.6 724.4L905.8 723.8L907.0 721.2L908.2 722.3L909.4 722.8L910.6 726.2L911.8 722.3L913.0 721.9L914.2 724.7L915.4 726.0L916.6 724.5L917.8 723.4L919.0 720.5L920.2 725.2L921.4 726.8L922.6 723.5L923.8 724.7L925.0 722.1L926.2 722.5L927.4 724.4L928.6 723.7L929.8 725.2L931.0 724.5L932.2 722.9L933.4 722.7L934.6 725.7L935.8 721.7L937.0 726.0L938.2 724.1L939.4 721.8L940.6 723.0L941.8 724.5L943.0 731.6L944.2 725.5L945.4 722.9L946.6 728.4L947.8 723.8L949.0 723.2L950.2 727.6L951.4 729.3L952.6 731.9L953.8 728.1L955.0 725.6L956.2 727.8L957.4 730.8L958.6 730.9L959.8 724.5L961.0 730.0L962.2 725.0L963.4 722.1L964.6 726.1L965.8 724.3L967.0 719.9L968.2 720.6L969.4 722.5L970.6 723.0L971.8 718.6L973.0 723.5L974.2 718.2L975.4 717.7L976.6 721.9L977.8 723.3L979.0 719.8L980.2 720.2L981.4 721.7L982.6 723.7L983.8 720.2L985.0 720.9L986.2 720.0L987.4 717.7L988.6 723.5L989.8 721.0L991.0 724.6L992.2 721.2L993.4 725.7L994.6 723.3L995.8 725.3L997.0 720.0L998.2 721.6L999.4 722.0L1000.6 728.0L1001.8 724.8L1003.0 722.7L1004.2 718.7L1005.4 721.9L1006.6 727.6L1007.8 723.4L1009.0 726.2L1010.2 720.9L1011.4 726.0L1012.6 727.7L1013.8 726.2L1015.0 722.7L1016.2 722.5L1017.4 726.4L1018.6 722.4L1019.8 721.4L1021.0 725.2L1022.2 722.1L1023.4 721.9L1024.6 724.1L1025.8 724.3L1027.0 721.2L1028.2 724.5L1029.4 727.3L1030.6 726.0L1031.8 726.8L1033.0 726.5L1034.2 724.3L1035.4 724.7L1036.6 721.7L1037.8 721.8L1039.0 722.0L1040.2 721.0L1041.4 728.5L1042.6 726.9L1043.8 719.9L1045.0 725.1L1046.2 723.8L1047.4 724.5L1048.6 724.4L1049.8 725.7L1051.0 720.5L1052.2 720.9L1053.4 722.1L1054.6 725.4L1055.8 723.2L1057.0 722.9L1058.2 722.4L1059.4 724.8L1060.6 723.8L1061.8 726.2L1063.0 727.4L1064.2 724.2L1065.4 720.5L1066.6 719.5L1067.8 722.0L1069.0 722.7L1070.2 722.2L1071.4 722.7L1072.6 721.9L1073.8 724.9L1075.0 721.5L1076.2 724.5L1077.4 721.9L1078.6 720.4L1079.8 721.3L1081.0 719.7L1082.2 721.1L1083.4 715.5L1084.6 720.7L1085.8 722.8L1087.0 723.0L1088.2 718.5L1089.4 717.5L1090.6 722.9L1091.8 716.5L1093.0 719.5L1094.2 718.8L1095.4 720.1L1096.6 721.5L1097.8 722.4L1099.0 714.4L1100.2 718.0L1101.4 713.9L1102.6 716.9L1103.8 714.8L1105.0 717.6L1106.2 716.9L1107.4 718.7L1108.6 719.3L1109.8 718.0L1111.0 719.3L1112.2 720.2L1113.4 717.1L1114.6 717.2L1115.8 715.3L1117.0 714.8L1118.2 718.6L1119.4 720.5L1120.6 717.0L1121.8 712.9L1123.0 714.6L1124.2 716.8L1125.4 716.4L1126.6 713.9L1127.8 716.3L1129.0 716.1L1130.2 712.4L1131.4 713.4L1132.6 717.1L1133.8 713.4L1135.0 715.0L1136.2 718.3L1137.4 717.3L1138.6 716.9L1139.8 712.3L1141.0 713.3L1142.2 715.0L1143.4 714.8L1144.6 716.7L1145.8 716.5L1147.0 717.3L1148.2 718.2L1149.4 714.4L1150.6 712.2L1151.8 716.6L1153.0 714.8L1154.2 714.8L1155.4 713.2L1156.6 713.9L1157.8 719.8L1159.0 709.7L1160.2 715.7L1161.4 714.7L1162.6 715.5L1163.8 712.6L1165.0 713.8L1166.2 712.6L1167.4 712.9L1168.6 712.4L1169.8 717.4L1171.0 715.9L1172.2 714.7L1173.4 714.2L1174.6 711.8L1175.8 709.5L1177.0 713.7L1178.2 710.5L1179.4 711.2L1180.6 710.1L1181.8 711.1L1183.0 710.8L1184.2 715.0L1185.4 715.3L1186.6 711.6L1187.8 712.8L1189.0 711.1L1190.2 711.8L1191.4 709.9L1192.6 711.7L1193.8 706.8L1195.0 704.5L1196.2 714.7L1197.4 710.5L1198.6 710.0L1199.8 711.1L1201.0 710.0L1202.2 711.4L1203.4 706.6L1204.6 707.6L1205.8 712.0L1207.0 709.4L1208.2 706.9L1209.4 705.2L1210.6 712.6L1211.8 710.6L1213.0 709.4L1214.2 704.3L1215.4 706.1L1216.6 704.7L1217.8 702.7L1219.0 705.8L1220.2 706.0L1221.4 711.9L1222.6 703.4L1223.8 708.9L1225.0 707.1L1226.2 707.9L1227.4 706.4L1228.6 708.4L1229.8 705.7L1231.0 708.7L1232.2 707.6L1233.4 703.4L1234.6 705.2L1235.8 710.0L1237.0 709.7L1238.2 703.5L1239.4 706.3L1240.6 709.4L1241.8 706.5L1243.0 703.7L1244.2 706.8L1245.4 705.5L1246.6 701.0L1247.8 706.2L1249.0 705.4L1250.2 706.4L1251.4 709.1L1252.6 709.1L1253.8 708.5L1255.0 708.6L1256.2 702.2L1257.4 701.9L1258.6 705.3L1259.8 704.3L1261.0 705.3L1262.2 703.0L1263.4 705.5L1264.6 707.9L1265.8 703.7L1267.0 703.6L1268.2 702.6L1269.4 698.7L1270.6 703.1L1271.0 703.1"/>
<path stroke="#000080" stroke-width="4.3" d="M1337.5 691.2L1339.5 690.6L1341.5 694.4L1343.5 694.7L1345.5 696.7L1347.5 691.0L1349.5 694.8L1351.5 695.4L1353.5 693.1L1355.5 691.0L1357.5 688.4L1359.5 688.0L1361.5 685.9L1363.5 687.0L1365.5 691.6L1367.5 688.6L1369.5 691.3L1371.5 691.0L1373.5 692.8L1375.5 692.6L1377.5 694.8L1379.5 696.0L1381.5 693.3L1383.5 690.7L1385.5 688.6L1387.5 686.2L1389.5 689.6L1391.5 690.5L1393.5 685.8L1395.5 687.7L1397.5 689.4L1399.5 690.9L1401.5 688.4L1403.5 689.7L1405.5 691.1L1407.5 690.8L1409.5 687.1L1411.5 688.5L1413.5 684.6L1415.5 685.9L1417.5 684.2L1419.5 685.0L1421.5 687.0L1423.5 687.0L1425.5 687.9L1427.5 687.0L1429.5 687.3L1431.5 689.9L1433.5 691.2L1435.5 689.6L1437.5 690.1L1439.5 687.8L1441.5 690.5L1443.5 686.4L1445.5 686.5L1447.5 686.8L1449.5 679.9L1451.5 682.4L1453.5 680.0L1455.5 680.2L1457.5 679.9L1459.5 677.6L1461.5 681.5L1463.5 683.5L1465.5 680.1L1467.5 680.8L1469.5 683.5L1471.5 682.0L1473.5 680.1L1475.5 682.8L1477.5 680.0L1479.5 681.2L1481.5 676.9L1483.5 678.4L1485.5 673.0L1487.5 673.0L1489.5 668.8L1491.5 674.4L1493.5 671.3L1495.5 671.4L1497.5 672.9L1499.5 673.0L1501.5 674.0L1503.5 677.1L1505.5 676.7L1507.5 674.2L1509.5 675.8L1511.5 675.2L1513.5 673.8L1515.5 669.3L1517.5 668.0L1519.5 664.1L1521.5 665.0L1523.5 662.7L1525.5 664.6L1527.5 662.5L1529.5 659.6L1531.5 663.4L1533.5 657.4L1535.5 663.7L1537.5 661.1L1539.5 659.7L1541.5 658.6L1543.5 656.5L1545.5 653.4L1547.5 651.2L1549.5 651.1L1551.5 646.1L1553.5 648.9L1555.5 647.2L1557.5 646.6L1559.5 644.6L1561.5 642.1L1563.5 643.3L1565.5 641.6L1567.5 640.4L1569.5 639.9L1571.5 639.8L1573.5 639.2L1575.5 634.3L1577.5 635.6L1579.5 632.3L1581.5 633.3L1583.5 633.1L1585.5 634.1L1587.5 634.2L1589.5 634.7L1591.5 634.9L1593.5 635.3L1595.5 634.1L1597.5 637.3L1599.5 635.8L1601.5 638.7L1603.5 638.6L1605.5 643.3L1607.5 640.4L1609.5 644.1L1611.5 647.7L1613.5 648.3L1615.5 651.6L1617.5 657.6L1619.5 659.7L1621.5 662.5L1623.5 665.0L1625.5 668.9L1627.5 671.2L1629.5 679.7L1631.5 681.2L1633.5 684.9L1635.5 687.8L1637.5 688.7L1639.5 689.1L1641.5 693.0L1643.5 689.8L1645.5 695.2L1647.5 695.0L1649.5 695.1L1651.5 697.0L1653.5 698.6L1655.5 696.9L1657.5 699.2L1659.5 699.1L1661.5 700.4L1663.5 702.7L1665.5 701.7L1667.5 701.2L1669.5 702.6L1671.5 705.7L1673.5 705.7L1675.5 705.3L1677.5 706.8L1679.5 704.7L1681.5 704.4L1683.5 704.5L1685.5 706.6L1687.5 706.4L1689.5 703.7L1691.5 708.6L1693.5 706.0L1695.5 702.3L1697.5 701.6L1699.5 704.1L1701.5 703.7L1703.5 701.5L1705.5 702.8L1707.5 702.5L1709.5 702.0L1711.5 704.0L1713.5 700.7L1715.5 702.8L1717.5 701.5L1719.5 703.9L1721.5 704.4L1723.5 707.7L1725.5 703.6L1727.5 705.6L1729.5 705.5L1731.5 706.2L1733.5 705.5L1735.5 705.2L1737.5 706.3L1739.5 706.4L1741.5 709.2L1743.5 707.9L1745.5 710.5L1747.5 707.5L1749.5 706.5L1751.5 708.5L1753.5 709.1L1755.5 712.9L1757.5 708.7L1759.5 711.8L1761.5 710.2L1763.5 709.3L1765.5 711.1L1767.5 708.3L1769.5 711.4L1771.5 709.2L1773.5 708.9L1775.5 707.0L1777.5 707.4L1779.5 707.7L1781.5 704.7L1783.5 705.2L1785.5 703.5L1787.5 704.4L1789.5 705.4L1791.5 702.7L1793.5 705.7L1795.5 705.1L1797.5 707.4L1799.5 704.9L1801.5 706.3L1803.5 706.8L1805.5 709.1L1807.5 707.8L1809.5 710.3L1811.5 709.5L1813.5 706.3L1815.5 705.2L1817.5 706.1L1819.5 706.7L1821.5 704.9L1823.5 703.1L1825.5 704.6L1827.5 702.9L1829.5 701.5L1831.5 702.5L1833.5 701.2L1835.5 698.6L1837.5 700.7L1839.5 702.0L1841.5 700.7L1843.5 700.3L1845.5 703.8L1847.5 704.8L1849.5 703.6L1851.5 704.6L1853.5 703.8L1855.5 705.4L1857.5 703.8L1859.5 705.8L1861.5 707.1L1863.5 705.6L1865.5 705.9L1867.5 705.9L1869.5 707.2L1871.5 704.3L1873.5 702.7L1875.5 703.3L1877.5 702.9L1879.5 704.2L1881.5 705.0L1883.5 701.1L1885.5 702.6L1887.5 702.8L1889.2 701.4"/>
<path stroke="#008000" stroke-width="4.4" d="M101.8 879.2L103.0 875.5L104.2 878.3L105.4 874.9L106.6 868.7L107.8 868.6L109.0 861.3L110.2 861.8L111.4 859.4L112.6 847.3L113.8 844.8L115.0 838.7L116.2 839.3L117.4 831.9L118.6 828.6L119.8 823.2L121.0 820.9L122.2 819.2L123.4 814.9L124.6 813.2L125.8 811.4L127.0 808.6L128.2 812.2L129.4 811.6L130.6 807.8L131.8 808.7L133.0 809.7L134.2 814.4L135.4 812.3L136.6 814.6L137.8 805.3L139.0 811.6L140.2 814.6L141.4 810.0L142.6 812.4L143.8 809.3L145.0 812.6L146.2 811.8L147.4 808.6L148.6 815.1L149.8 812.7L151.0 813.9L152.2 809.0L153.4 815.2L154.6 811.3L155.8 814.0L157.0 809.1L158.2 814.2L159.4 810.0L160.6 810.5L161.8 808.6L163.0 805.3L164.2 808.3L165.4 811.2L166.6 810.8L167.8 806.5L169.0 810.3L170.2 807.3L171.4 805.2L172.6 808.2L173.8 808.9L175.0 811.7L176.2 804.5L177.4 813.3L178.6 813.2L179.8 813.3L181.0 809.3L182.2 809.6L183.4 816.4L184.6 814.0L185.8 817.8L187.0 813.4L188.2 818.5L189.4 818.5L190.6 814.0L191.8 816.5L193.0 821.5L194.2 815.3L195.4 819.8L196.6 817.2L197.8 814.9L199.0 815.8L200.2 814.7L201.4 821.4L202.6 813.4L203.8 814.3L205.0 817.2L206.2 819.5L207.4 814.0L208.6 815.0L209.8 816.6L211.0 816.3L212.2 817.2L213.4 815.6L214.6 817.1L215.8 819.1L217.0 814.8L218.2 813.9L219.4 816.1L220.6 818.4L221.8 824.5L223.0 820.4L224.2 819.8L225.4 811.7L226.6 814.4L227.8 820.6L229.0 817.8L230.2 817.7L231.4 821.5L232.6 822.6L233.8 821.3L235.0 820.5L236.2 815.9L237.4 819.9L238.6 822.6L239.8 820.3L241.0 817.3L242.2 815.3L243.4 820.4L244.6 822.8L245.8 819.8L247.0 821.3L248.2 823.0L249.4 820.8L250.6 821.5L251.8 820.1L253.0 819.6L254.2 822.3L255.4 822.3L256.6 820.1L257.8 817.0L259.0 821.2L260.2 822.0L261.4 821.5L262.6 821.3L263.8 819.4L265.0 818.6L266.2 820.2L267.4 820.2L268.6 819.9L269.8 816.3L271.0 814.1L272.2 819.4L273.4 819.3L274.6 819.2L275.8 819.9L277.0 815.0L278.2 817.2L279.4 820.3L280.6 817.7L281.8 818.5L283.0 822.3L284.2 820.8L285.4 817.8L286.6 819.8L287.8 817.4L289.0 820.2L290.2 816.0L291.4 815.3L292.6 822.9L293.8 821.8L295.0 817.3L296.2 820.6L297.4 813.8L298.6 819.7L299.8 822.3L301.0 821.5L302.2 820.3L303.4 820.8L304.6 822.5L305.8 827.9L307.0 822.9L308.2 825.5L309.4 827.8L310.6 823.5L311.8 828.6L313.0 819.9L314.2 823.4L315.4 822.4L316.6 822.7L317.8 819.3L319.0 820.9L320.2 822.0L321.4 818.8L322.6 822.3L323.8 814.9L325.0 818.7L326.2 822.4L327.4 815.8L328.6 817.7L329.8 816.1L331.0 815.1L332.2 817.5L333.4 813.1L334.6 817.8L335.8 813.5L337.0 816.5L338.2 819.3L339.4 816.4L340.6 818.1L341.8 823.7L343.0 819.0L344.2 819.6L345.4 820.8L346.6 820.9L347.8 819.9L349.0 819.5L350.2 821.0L351.4 821.6L352.6 824.1L353.8 821.1L355.0 822.7L356.2 825.3L357.4 816.7L358.6 819.9L359.8 819.7L361.0 819.9L362.2 823.5L363.4 819.4L364.6 820.4L365.8 823.8L367.0 814.7L368.2 816.6L369.4 816.8L370.6 819.5L371.8 820.6L373.0 817.2L374.2 822.4L375.4 822.9L376.6 817.1L377.8 817.5L379.0 816.3L380.2 820.1L381.4 817.5L382.6 820.7L383.8 821.0L385.0 818.3L386.2 816.1L387.4 812.0L388.6 818.6L389.8 818.8L391.0 817.4L392.2 815.0L393.4 819.2L394.6 816.3L395.8 817.7L397.0 817.7L398.2 817.9L399.4 816.9L400.6 811.2L401.8 815.6L403.0 814.1L404.2 812.6L405.4 811.3L406.6 810.7L407.8 811.5L409.0 811.5L410.2 811.9L411.4 806.8L412.6 808.7L413.8 812.0L415.0 812.6L416.2 808.9L417.4 808.0L418.6 813.2L419.8 805.3L421.0 809.2L422.2 807.7L423.4 805.5L424.6 806.1L425.8 804.1L427.0 801.0L428.2 802.1L429.4 805.3L430.6 798.7L431.8 799.6L433.0 800.7L434.2 792.9L435.4 793.9L436.6 790.6L437.8 792.2L439.0 789.6L440.2 792.5L441.4 790.0L442.6 793.2L443.8 792.9L445.0 794.4L446.2 792.1L447.4 797.4L448.6 795.8L449.8 796.5L451.0 796.0L452.2 799.9L453.4 798.5L454.6 798.8L455.8 801.4L457.0 797.0L458.2 806.1L459.4 802.7L460.6 805.5L461.8 799.7L463.0 797.1L464.2 799.2L465.4 801.7L466.6 803.2L467.8 802.9L469.0 801.7L470.2 796.6L471.4 796.5L472.6 798.1L473.8 798.4L475.0 793.8L476.2 793.2L477.4 791.7L478.6 797.5L479.8 792.7L481.0 795.9L482.2 795.7L483.4 797.0L484.6 792.5L485.8 796.5L487.0 798.8L488.2 798.5L489.4 796.4L490.6 799.4L491.8 798.5L493.0 797.5L494.2 798.7L495.4 804.3L496.6 798.0L497.8 795.8L499.0 801.4L500.2 801.9L501.4 801.6L502.6 800.4L503.8 803.4L505.0 806.0L506.2 805.1L507.4 796.6L508.6 799.2L509.8 801.6L511.0 795.6L512.2 804.8L513.4 802.2L514.6 798.2L515.8 797.4L517.0 802.3L518.2 798.6L519.4 799.8L520.6 796.3L521.8 796.0L523.0 797.3L524.2 798.2L525.4 799.8L526.6 796.4L527.8 799.3L529.0 796.0L530.2 794.8L531.4 795.4L532.6 794.8L533.8 792.5L535.0 790.5L536.2 795.7L537.4 794.5L538.6 795.3L539.8 789.3L541.0 791.7L542.2 788.8L543.4 794.7L544.6 795.1L545.8 792.1L547.0 793.5L548.2 786.2L549.4 788.8L550.6 789.2L551.8 789.6L553.0 788.0L554.2 789.0L555.4 787.6L556.6 785.7L557.8 788.9L559.0 784.5L560.2 786.8L561.4 786.1L562.6 781.6L563.8 782.8L565.0 788.3L566.2 783.0L567.4 784.1L568.6 781.0L569.8 784.3L571.0 781.4L572.2 783.1L573.4 782.7L574.6 778.7L575.8 780.9L577.0 782.6L578.2 778.9L579.4 781.6L580.6 781.1L581.8 783.3L583.0 779.5L584.2 783.2L585.4 784.5L586.6 781.3L587.8 781.7L589.0 784.6L590.2 781.2L591.4 782.7L592.6 783.4L593.8 776.4L595.0 779.7L596.2 780.5L597.4 773.2L598.6 776.1L599.8 775.8L601.0 772.8L602.2 773.3L603.4 769.2L604.6 770.8L605.8 767.9L607.0 770.4L608.2 767.8L609.4 766.8L610.6 768.0L611.8 765.6L613.0 762.3L614.2 762.1L615.4 760.1L616.6 759.9L617.8 758.1L619.0 756.0L620.2 749.8L621.4 742.6L622.6 742.6L623.8 735.4L625.0 731.9L626.2 730.0L627.4 730.5L628.6 723.0L629.8 725.4L631.0 721.1L632.2 728.7L633.4 728.5L634.6 731.5L635.8 733.7L637.0 738.2L638.2 748.5L639.4 752.6L640.6 757.4L641.8 770.1L643.0 777.5L644.2 783.9L645.4 790.1L646.6 795.0L647.8 794.9L649.0 803.5L650.2 803.3L651.4 803.9L652.6 803.4L653.8 804.2L655.0 807.0L656.2 810.4L657.4 809.7L658.6 810.1L659.8 812.1L661.0 809.7L662.2 809.9L663.4 811.6L664.6 812.6L665.8 817.9L667.0 819.7L668.2 812.3L669.4 813.6L670.6 816.1L671.8 812.1L673.0 815.7L674.2 820.4L675.4 815.6L676.6 816.4L677.8 820.3L679.0 822.1L680.2 817.5L681.4 818.0L682.6 818.8L683.8 820.2L685.0 814.0L686.2 818.9L687.4 817.2L688.6 818.9L689.8 819.7L691.0 812.6L692.2 820.6L693.4 818.5L694.6 817.5L695.8 819.5L697.0 819.6L698.2 823.3L699.4 820.2L700.6 820.4L701.8 819.1L703.0 820.1L704.2 816.4L705.4 820.3L706.6 819.0L707.8 820.4L709.0 820.5L710.2 815.0L711.4 819.4L712.6 820.0L713.8 820.7L715.0 813.6L716.2 819.1L717.4 814.9L718.6 816.4L719.8 818.8L721.0 819.3L722.2 818.2L723.4 817.1L724.6 816.9L725.8 819.6L727.0 819.8L728.2 818.1L729.4 813.6L730.6 812.3L731.8 813.9L733.0 816.4L734.2 819.3L735.4 816.6L736.6 816.2L737.8 817.0L739.0 816.7L740.2 816.2L741.4 815.4L742.6 815.5L743.8 816.7L745.0 817.2L746.2 815.7L747.4 819.1L748.6 814.4L749.8 818.0L751.0 815.2L752.2 818.3L753.4 814.3L754.6 816.7L755.8 818.9L757.0 818.5L758.2 814.5L759.4 815.0L760.6 813.6L761.8 815.5L763.0 812.6L764.2 815.3L765.4 814.2L766.6 815.8L767.8 815.4L769.0 815.8L770.2 815.9L771.4 818.1L772.6 815.2L773.8 814.9L775.0 819.5L776.2 810.3L777.4 816.0L778.6 816.7L779.8 823.5L781.0 822.1L782.2 822.6L783.4 822.1L784.6 823.6L785.8 826.8L787.0 819.8L788.2 822.1L789.4 825.7L790.6 823.0L791.8 827.2L793.0 827.7L794.2 828.8L795.4 822.6L796.6 827.3L797.8 829.8L799.0 826.7L800.2 830.5L801.4 827.8L802.6 826.0L803.8 833.2L805.0 826.1L806.2 830.2L807.4 829.9L808.6 829.1L809.8 829.4L811.0 827.0L812.2 832.0L813.4 829.1L814.6 836.4L815.8 831.3L817.0 828.7L818.2 833.7L819.4 835.2L820.6 836.2L821.8 833.0L823.0 833.9L824.2 834.0L825.4 836.1L826.6 838.3L827.8 837.6L829.0 834.7L830.2 835.5L831.4 835.9L832.6 834.8L833.8 833.7L835.0 835.3L836.2 837.6L837.4 837.7L838.6 834.0L839.8 837.4L841.0 836.2L842.2 837.5L843.4 838.5L844.6 838.1L845.8 839.2L847.0 838.8L848.2 839.1L849.4 836.9L850.6 833.3L851.8 832.1L853.0 837.0L854.2 836.9L855.4 833.8L856.6 834.3L857.8 832.4L859.0 840.6L860.2 832.3L861.4 832.8L862.6 839.3L863.8 840.1L865.0 836.8L866.2 839.4L867.4 839.7L868.6 837.1L869.8 844.7L871.0 839.7L872.2 839.4L873.4 838.4L874.6 839.4L875.8 836.0L877.0 838.0L878.2 838.5L879.4 838.9L880.6 837.2L881.8 838.5L883.0 836.7L884.2 841.2L885.4 835.0L886.6 834.3L887.8 837.5L889.0 839.2L890.2 836.2L891.4 837.6L892.6 837.4L893.8 838.0L895.0 840.8L896.2 834.8L897.4 835.7L898.6 837.4L899.8 836.7L901.0 838.3L902.2 841.5L903.4 839.2L904.6 836.6L905.8 839.6L907.0 839.2L908.2 842.6L909.4 835.6L910.6 838.7L911.8 840.5L913.0 840.0L914.2 838.6L915.4 836.5L916.6 836.0L917.8 835.8L919.0 838.7L920.2 839.4L921.4 837.6L922.6 836.8L923.8 838.8L925.0 834.8L926.2 844.2L927.4 836.7L928.6 839.2L929.8 838.6L931.0 838.7L932.2 839.7L933.4 836.9L934.6 844.5L935.8 841.0L937.0 837.2L938.2 844.8L939.4 843.5L940.6 842.2L941.8 843.3L943.0 841.3L944.2 848.8L945.4 844.1L946.6 842.2L947.8 839.5L949.0 840.7L950.2 838.4L951.4 842.2L952.6 841.1L953.8 840.0L955.0 841.3L956.2 842.4L957.4 841.4L958.6 839.9L959.8 842.5L961.0 840.4L962.2 841.2L963.4 840.1L964.6 839.3L965.8 844.6L967.0 837.9L968.2 835.3L969.4 835.8L970.6 836.6L971.8 843.7L973.0 846.1L974.2 834.0L975.4 840.9L976.6 838.6L977.8 843.5L979.0 839.8L980.2 837.5L981.4 841.2L982.6 839.4L983.8 839.4L985.0 834.8L986.2 839.9L987.4 839.7L988.6 839.4L989.8 838.7L991.0 840.3L992.2 838.9L993.4 836.2L994.6 840.2L995.8 835.9L997.0 840.0L998.2 839.9L999.4 843.8L1000.6 841.8L1001.8 842.4L1003.0 842.1L1004.2 838.7L1005.4 841.6L1006.6 841.9L1007.8 837.0L1009.0 838.6L1010.2 843.5L1011.4 843.9L1012.6 844.4L1013.8 843.0L1015.0 834.9L1016.2 837.8L1017.4 835.4L1018.6 835.9L1019.8 840.9L1021.0 838.0L1022.2 837.3L1023.4 837.0L1024.6 837.2L1025.8 836.1L1027.0 835.7L1028.2 841.0L1029.4 838.4L1030.6 834.3L1031.8 837.0L1033.0 838.2L1034.2 836.2L1035.4 839.3L1036.6 836.7L1037.8 838.8L1039.0 839.3L1040.2 838.0L1041.4 836.9L1042.6 839.0L1043.8 839.8L1045.0 840.9L1046.2 838.5L1047.4 833.8L1048.6 840.6L1049.8 833.4L1051.0 834.5L1052.2 842.2L1053.4 837.7L1054.6 841.8L1055.8 836.9L1057.0 836.4L1058.2 831.1L1059.4 836.3L1060.6 837.9L1061.8 837.1L1063.0 842.2L1064.2 838.2L1065.4 837.4L1066.6 838.7L1067.8 837.2L1069.0 837.4L1070.2 834.2L1071.4 831.4L1072.6 835.2L1073.8 834.7L1075.0 836.2L1076.2 837.4L1077.4 835.4L1078.6 832.2L1079.8 835.9L1081.0 837.4L1082.2 832.6L1083.4 837.2L1084.6 833.4L1085.8 833.8L1087.0 838.3L1088.2 834.6L1089.4 837.0L1090.6 836.6L1091.8 835.5L1093.0 839.2L1094.2 836.3L1095.4 837.2L1096.6 835.7L1097.8 830.3L1099.0 829.8L1100.2 833.6L1101.4 834.7L1102.6 838.4L1103.8 836.7L1105.0 833.2L1106.2 834.2L1107.4 834.6L1108.6 835.1L1109.8 834.9L1111.0 832.0L1112.2 835.3L1113.4 834.9L1114.6 832.9L1115.8 837.5L1117.0 835.5L1118.2 836.5L1119.4 833.0L1120.6 827.6L1121.8 834.7L1123.0 830.3L1124.2 829.8L1125.4 829.4L1126.6 828.6L1127.8 831.8L1129.0 828.9L1130.2 827.6L1131.4 828.1L1132.6 829.8L1133.8 827.6L1135.0 829.0L1136.2 832.2L1137.4 829.0L1138.6 829.8L1139.8 830.9L1141.0 824.8L1142.2 832.8L1143.4 833.6L1144.6 825.2L1145.8 829.4L1147.0 830.9L1148.2 829.1L1149.4 830.9L1150.6 828.9L1151.8 828.9L1153.0 830.9L1154.2 829.4L1155.4 830.6L1156.6 827.5L1157.8 827.9L1159.0 827.8L1160.2 829.1L1161.4 830.6L1162.6 827.4L1163.8 826.9L1165.0 825.9L1166.2 830.0L1167.4 827.3L1168.6 825.9L1169.8 828.3L1171.0 827.5L1172.2 829.6L1173.4 828.0L1174.6 828.3L1175.8 825.9L1177.0 825.4L1178.2 830.7L1179.4 826.8L1180.6 824.2L1181.8 829.0L1183.0 828.2L1184.2 827.6L1185.4 825.7L1186.6 827.4L1187.8 827.6L1189.0 822.5L1190.2 827.5L1191.4 823.6L1192.6 831.1L1193.8 828.6L1195.0 824.6L1196.2 825.2L1197.4 825.6L1198.6 824.5L1199.8 824.8L1201.0 823.0L1202.2 829.7L1203.4 826.6L1204.6 825.1L1205.8 828.2L1207.0 824.3L1208.2 832.8L1209.4 823.2L1210.6 829.3L1211.8 822.1L1213.0 823.2L1214.2 823.8L1215.4 828.3L1216.6 823.6L1217.8 825.8L1219.0 818.7L1220.2 820.4L1221.4 824.5L1222.6 823.1L1223.8 826.8L1225.0 824.1L1226.2 826.3L1227.4 823.9L1228.6 821.3L1229.8 827.1L1231.0 820.6L1232.2 820.0L1233.4 824.6L1234.6 822.1L1235.8 822.3L1237.0 822.0L1238.2 825.7L1239.4 820.1L1240.6 819.4L1241.8 822.5L1243.0 819.4L1244.2 823.3L1245.4 824.3L1246.6 826.6L1247.8 821.7L1249.0 819.8L1250.2 821.4L1251.4 826.1L1252.6 823.9L1253.8 828.0L1255.0 821.9L1256.2 823.0L1257.4 827.1L1258.6 821.5L1259.8 821.4L1261.0 823.4L1262.2 823.7L1263.4 823.7L1264.6 822.4L1265.8 823.5L1267.0 823.0L1268.2 820.7L1269.4 824.1L1270.6 825.0L1271.0 825.7"/>
<path stroke="#008000" stroke-width="4.3" d="M1337.5 790.9L1339.5 791.2L1341.5 791.4L1343.5 792.4L1345.5 791.6L1347.5 794.1L1349.5 795.6L1351.5 790.2L1353.5 788.8L1355.5 786.4L1357.5 790.0L1359.5 792.4L1361.5 795.9L1363.5 796.0L1365.5 791.2L1367.5 791.3L1369.5 791.7L1371.5 788.7L1373.5 789.2L1375.5 789.0L1377.5 790.2L1379.5 791.7L1381.5 788.7L1383.5 788.4L1385.5 792.9L1387.5 786.9L1389.5 783.6L1391.5 781.4L1393.5 786.6L1395.5 790.1L1397.5 791.2L1399.5 788.4L1401.5 791.3L1403.5 785.8L1405.5 781.4L1407.5 779.5L1409.5 778.8L1411.5 779.5L1413.5 781.8L1415.5 784.4L1417.5 788.4L1419.5 785.9L1421.5 780.9L1423.5 776.9L1425.5 782.5L1427.5 785.4L1429.5 786.9L1431.5 791.1L1433.5 790.7L1435.5 789.2L1437.5 789.6L1439.5 788.1L1441.5 788.8L1443.5 789.1L1445.5 789.7L1447.5 790.2L1449.5 789.5L1451.5 787.7L1453.5 786.1L1455.5 784.4L1457.5 784.8L1459.5 785.1L1461.5 783.8L1463.5 779.2L1465.5 781.2L1467.5 782.6L1469.5 786.5L1471.5 789.1L1473.5 790.4L1475.5 789.2L1477.5 786.9L1479.5 784.7L1481.5 781.4L1483.5 783.5L1485.5 780.5L1487.5 780.2L1489.5 777.0L1491.5 777.2L1493.5 777.0L1495.5 774.1L1497.5 773.1L1499.5 775.2L1501.5 774.5L1503.5 772.9L1505.5 776.6L1507.5 774.4L1509.5 775.7L1511.5 779.2L1513.5 779.9L1515.5 778.8L1517.5 779.1L1519.5 779.7L1521.5 779.6L1523.5 776.0L1525.5 776.3L1527.5 771.4L1529.5 774.0L1531.5 769.6L1533.5 768.9L1535.5 770.3L1537.5 769.2L1539.5 767.0L1541.5 765.4L1543.5 767.6L1545.5 761.5L1547.5 762.2L1549.5 760.2L1551.5 759.0L1553.5 754.3L1555.5 751.3L1557.5 747.5L1559.5 743.7L1561.5 744.0L1563.5 743.4L1565.5 742.6L1567.5 743.0L1569.5 740.0L1571.5 741.2L1573.5 737.2L1575.5 733.8L1577.5 733.5L1579.5 729.7L1581.5 726.1L1583.5 727.1L1585.5 726.5L1587.5 727.0L1589.5 723.0L1591.5 721.5L1593.5 720.4L1595.5 723.3L1597.5 722.4L1599.5 724.6L1601.5 726.6L1603.5 730.1L1605.5 733.3L1607.5 733.6L1609.5 738.9L1611.5 741.8L1613.5 745.1L1615.5 750.1L1617.5 755.4L1619.5 761.4L1621.5 763.6L1623.5 772.4L1625.5 777.9L1627.5 779.0L1629.5 784.0L1631.5 787.8L1633.5 789.1L1635.5 789.9L1637.5 789.4L1639.5 791.8L1641.5 793.5L1643.5 797.6L1645.5 803.1L1647.5 804.0L1649.5 807.6L1651.5 805.6L1653.5 806.0L1655.5 806.8L1657.5 808.2L1659.5 810.6L1661.5 810.0L1663.5 811.7L1665.5 813.9L1667.5 811.3L1669.5 813.2L1671.5 815.7L1673.5 814.1L1675.5 817.9L1677.5 815.6L1679.5 816.3L1681.5 814.9L1683.5 815.5L1685.5 812.2L1687.5 816.7L1689.5 813.3L1691.5 812.9L1693.5 815.6L1695.5 813.5L1697.5 815.5L1699.5 815.6L1701.5 819.9L1703.5 818.0L1705.5 818.0L1707.5 820.9L1709.5 820.6L1711.5 823.4L1713.5 824.4L1715.5 826.6L1717.5 824.8L1719.5 822.7L1721.5 821.7L1723.5 818.9L1725.5 814.6L1727.5 815.4L1729.5 814.9L1731.5 819.4L1733.5 816.9L1735.5 815.8L1737.5 813.5L1739.5 815.1L1741.5 817.6L1743.5 815.8L1745.5 815.4L1747.5 818.2L1749.5 816.8L1751.5 818.9L1753.5 819.0L1755.5 819.0L1757.5 822.9L1759.5 818.6L1761.5 823.1L1763.5 822.9L1765.5 823.7L1767.5 822.4L1769.5 823.8L1771.5 821.0L1773.5 814.5L1775.5 819.1L1777.5 817.1L1779.5 817.2L1781.5 816.3L1783.5 813.4L1785.5 812.9L1787.5 813.0L1789.5 814.1L1791.5 815.3L1793.5 816.9L1795.5 815.5L1797.5 815.2L1799.5 815.5L1801.5 816.8L1803.5 818.8L1805.5 817.3L1807.5 819.2L1809.5 818.4L1811.5 818.8L1813.5 819.9L1815.5 820.4L1817.5 821.1L1819.5 820.7L1821.5 819.4L1823.5 819.7L1825.5 818.1L1827.5 819.3L1829.5 820.2L1831.5 823.1L1833.5 821.0L1835.5 823.5L1837.5 820.6L1839.5 821.5L1841.5 820.2L1843.5 819.3L1845.5 817.3L1847.5 817.6L1849.5 818.8L1851.5 817.5L1853.5 816.5L1855.5 816.8L1857.5 818.6L1859.5 818.3L1861.5 818.9L1863.5 819.3L1865.5 822.0L1867.5 821.1L1869.5 820.3L1871.5 820.4L1873.5 821.5L1875.5 824.6L1877.5 820.9L1879.5 817.3L1881.5 819.8L1883.5 820.3L1885.5 818.2L1887.5 818.9L1889.2 821.1"/>
<path stroke="#ff00ff" stroke-width="4.4" d="M101.8 980.6L103.0 979.5L104.2 973.5L105.4 975.0L106.6 974.7L107.8 969.5L109.0 968.6L110.2 962.2L111.4 952.6L112.6 946.8L113.8 935.4L115.0 932.1L116.2 920.6L117.4 925.3L118.6 918.2L119.8 922.9L121.0 917.4L122.2 908.8L123.4 903.6L124.6 896.5L125.8 905.6L127.0 906.9L128.2 906.6L129.4 909.3L130.6 905.9L131.8 908.3L133.0 904.9L134.2 905.4L135.4 905.2L136.6 904.4L137.8 902.1L139.0 907.5L140.2 902.8L141.4 907.3L142.6 907.5L143.8 906.3L145.0 907.4L146.2 908.7L147.4 913.2L148.6 909.4L149.8 907.8L151.0 912.4L152.2 912.7L153.4 909.0L154.6 910.2L155.8 910.3L157.0 901.0L158.2 906.8L159.4 902.8L160.6 901.2L161.8 901.0L163.0 900.9L164.2 897.6L165.4 897.5L166.6 894.3L167.8 896.4L169.0 895.3L170.2 892.0L171.4 891.6L172.6 894.2L173.8 886.8L175.0 894.2L176.2 900.7L177.4 902.7L178.6 907.2L179.8 903.9L181.0 914.8L182.2 912.0L183.4 917.8L184.6 918.0L185.8 913.8L187.0 916.9L188.2 916.8L189.4 916.2L190.6 915.8L191.8 916.9L193.0 912.6L194.2 912.0L195.4 919.1L196.6 913.3L197.8 913.8L199.0 917.7L200.2 915.7L201.4 916.0L202.6 916.6L203.8 920.5L205.0 918.2L206.2 917.0L207.4 922.0L208.6 917.9L209.8 917.2L211.0 919.1L212.2 916.1L213.4 913.9L214.6 914.9L215.8 915.9L217.0 920.7L218.2 919.7L219.4 911.7L220.6 913.5L221.8 916.6L223.0 917.0L224.2 916.8L225.4 915.6L226.6 919.3L227.8 917.3L229.0 914.2L230.2 916.5L231.4 918.3L232.6 918.5L233.8 915.8L235.0 914.1L236.2 921.0L237.4 915.5L238.6 916.8L239.8 914.7L241.0 921.9L242.2 919.8L243.4 914.7L244.6 917.7L245.8 915.1L247.0 917.4L248.2 916.6L249.4 916.8L250.6 919.6L251.8 912.8L253.0 916.0L254.2 912.6L255.4 916.6L256.6 912.4L257.8 919.1L259.0 915.8L260.2 909.7L261.4 914.4L262.6 910.3L263.8 914.3L265.0 913.3L266.2 909.8L267.4 912.8L268.6 913.6L269.8 915.4L271.0 910.5L272.2 915.7L273.4 913.2L274.6 910.9L275.8 913.3L277.0 911.1L278.2 912.1L279.4 914.5L280.6 914.8L281.8 913.9L283.0 908.9L284.2 910.7L285.4 912.5L286.6 911.8L287.8 911.9L289.0 910.5L290.2 908.4L291.4 909.7L292.6 905.8L293.8 911.7L295.0 913.7L296.2 909.7L297.4 914.6L298.6 912.7L299.8 909.9L301.0 912.7L302.2 913.4L303.4 912.7L304.6 911.4L305.8 912.8L307.0 911.8L308.2 914.1L309.4 910.8L310.6 912.5L311.8 911.3L313.0 914.1L314.2 916.0L315.4 910.3L316.6 911.8L317.8 910.9L319.0 913.5L320.2 915.7L321.4 918.0L322.6 913.6L323.8 916.5L325.0 915.4L326.2 916.1L327.4 913.9L328.6 913.5L329.8 916.8L331.0 918.0L332.2 915.9L333.4 919.0L334.6 916.1L335.8 919.9L337.0 919.6L338.2 918.4L339.4 918.4L340.6 920.9L341.8 921.1L343.0 919.7L344.2 917.8L345.4 922.7L346.6 921.7L347.8 916.1L349.0 918.4L350.2 921.0L351.4 921.1L352.6 916.9L353.8 919.4L355.0 919.6L356.2 925.1L357.4 919.4L358.6 920.5L359.8 918.6L361.0 921.6L362.2 919.0L363.4 920.4L364.6 914.5L365.8 920.2L367.0 920.5L368.2 920.6L369.4 914.6L370.6 917.8L371.8 920.5L373.0 918.3L374.2 917.7L375.4 917.3L376.6 916.9L377.8 917.2L379.0 917.4L380.2 918.0L381.4 915.3L382.6 915.1L383.8 917.0L385.0 919.0L386.2 917.1L387.4 920.2L388.6 911.0L389.8 915.6L391.0 916.0L392.2 913.4L393.4 914.9L394.6 916.8L395.8 918.9L397.0 913.4L398.2 918.9L399.4 916.9L400.6 917.9L401.8 915.7L403.0 913.1L404.2 918.5L405.4 910.2L406.6 912.6L407.8 908.7L409.0 911.1L410.2 908.0L411.4 910.4L412.6 913.0L413.8 908.8L415.0 908.2L416.2 903.0L417.4 902.1L418.6 899.8L419.8 900.7L421.0 899.1L422.2 901.6L423.4 901.6L424.6 896.0L425.8 895.8L427.0 891.9L428.2 893.0L429.4 893.9L430.6 893.2L431.8 888.2L433.0 891.2L434.2 888.6L435.4 886.9L436.6 887.0L437.8 882.3L439.0 880.0L440.2 882.6L441.4 883.4L442.6 882.4L443.8 870.6L445.0 880.1L446.2 878.8L447.4 876.6L448.6 880.7L449.8 881.1L451.0 883.6L452.2 877.2L453.4 879.6L454.6 881.9L455.8 887.4L457.0 888.2L458.2 886.7L459.4 887.2L460.6 882.9L461.8 883.3L463.0 883.1L464.2 881.3L465.4 878.8L466.6 882.2L467.8 882.4L469.0 875.0L470.2 879.4L471.4 885.4L472.6 879.1L473.8 880.0L475.0 880.5L476.2 878.9L477.4 887.6L478.6 887.2L479.8 885.3L481.0 891.6L482.2 882.5L483.4 887.1L484.6 888.5L485.8 887.1L487.0 889.4L488.2 890.1L489.4 888.7L490.6 892.6L491.8 894.4L493.0 889.2L494.2 890.5L495.4 889.6L496.6 886.4L497.8 890.6L499.0 892.1L500.2 896.3L501.4 891.6L502.6 892.0L503.8 897.1L505.0 893.1L506.2 896.1L507.4 893.6L508.6 888.7L509.8 893.3L511.0 893.3L512.2 896.5L513.4 894.9L514.6 901.5L515.8 890.9L517.0 891.7L518.2 892.1L519.4 897.9L520.6 887.9L521.8 894.8L523.0 886.4L524.2 887.0L525.4 891.6L526.6 884.5L527.8 883.5L529.0 885.0L530.2 886.6L531.4 882.0L532.6 885.8L533.8 882.8L535.0 881.3L536.2 885.5L537.4 889.8L538.6 887.9L539.8 883.3L541.0 883.0L542.2 886.9L543.4 887.6L544.6 883.4L545.8 889.6L547.0 886.0L548.2 888.0L549.4 889.0L550.6 889.8L551.8 887.6L553.0 884.6L554.2 881.2L555.4 881.7L556.6 883.9L557.8 876.1L559.0 873.9L560.2 870.2L561.4 874.2L562.6 870.7L563.8 867.1L565.0 871.0L566.2 869.4L567.4 868.0L568.6 864.9L569.8 867.4L571.0 862.4L572.2 864.3L573.4 866.6L574.6 865.0L575.8 861.6L577.0 861.4L578.2 860.9L579.4 859.2L580.6 859.8L581.8 858.5L583.0 857.4L584.2 859.3L585.4 854.3L586.6 854.7L587.8 854.6L589.0 854.6L590.2 851.0L591.4 857.0L592.6 858.2L593.8 859.3L595.0 848.8L596.2 850.9L597.4 848.9L598.6 849.0L599.8 850.9L601.0 847.5L602.2 843.5L603.4 846.4L604.6 850.5L605.8 845.3L607.0 847.4L608.2 841.5L609.4 840.7L610.6 842.1L611.8 832.7L613.0 837.8L614.2 835.5L615.4 829.0L616.6 830.2L617.8 825.4L619.0 823.9L620.2 819.3L621.4 813.2L622.6 816.1L623.8 812.2L625.0 804.9L626.2 804.5L627.4 801.8L628.6 796.9L629.8 799.3L631.0 801.4L632.2 801.3L633.4 804.0L634.6 813.7L635.8 821.0L637.0 825.3L638.2 829.6L639.4 832.9L640.6 838.7L641.8 847.2L643.0 851.8L644.2 857.7L645.4 866.0L646.6 878.5L647.8 883.0L649.0 890.3L650.2 894.4L651.4 895.8L652.6 901.7L653.8 906.2L655.0 904.6L656.2 903.6L657.4 907.3L658.6 907.6L659.8 910.6L661.0 909.6L662.2 911.1L663.4 905.0L664.6 908.3L665.8 912.7L667.0 914.0L668.2 909.4L669.4 913.1L670.6 917.5L671.8 911.9L673.0 911.3L674.2 915.2L675.4 919.7L676.6 916.9L677.8 917.9L679.0 919.4L680.2 916.1L681.4 917.5L682.6 915.5L683.8 918.5L685.0 918.5L686.2 919.1L687.4 918.0L688.6 920.6L689.8 917.3L691.0 920.3L692.2 922.5L693.4 918.0L694.6 919.8L695.8 916.5L697.0 918.0L698.2 920.8L699.4 916.7L700.6 917.4L701.8 914.6L703.0 916.9L704.2 921.1L705.4 921.4L706.6 920.6L707.8 916.2L709.0 918.3L710.2 920.8L711.4 920.3L712.6 919.3L713.8 921.1L715.0 916.2L716.2 919.5L717.4 919.7L718.6 916.1L719.8 917.1L721.0 921.7L722.2 919.5L723.4 915.4L724.6 917.8L725.8 917.8L727.0 917.6L728.2 920.2L729.4 920.1L730.6 921.3L731.8 915.3L733.0 920.0L734.2 915.5L735.4 920.0L736.6 919.4L737.8 921.5L739.0 919.6L740.2 917.3L741.4 918.5L742.6 919.5L743.8 913.3L745.0 914.8L746.2 917.7L747.4 918.5L748.6 918.7L749.8 914.4L751.0 919.9L752.2 916.8L753.4 918.1L754.6 917.8L755.8 915.2L757.0 914.1L758.2 921.1L759.4 916.6L760.6 920.5L761.8 913.5L763.0 914.5L764.2 914.0L765.4 918.4L766.6 915.6L767.8 913.6L769.0 917.6L770.2 913.1L771.4 911.4L772.6 913.3L773.8 913.2L775.0 913.8L776.2 915.3L777.4 913.7L778.6 917.8L779.8 916.5L781.0 919.9L782.2 920.5L783.4 920.4L784.6 919.5L785.8 920.9L787.0 920.5L788.2 922.2L789.4 925.4L790.6 926.5L791.8 927.8L793.0 925.5L794.2 928.1L795.4 921.9L796.6 929.7L797.8 928.8L799.0 924.7L800.2 927.3L801.4 928.1L802.6 926.7L803.8 926.6L805.0 926.8L806.2 928.4L807.4 927.8L808.6 926.7L809.8 930.4L811.0 931.1L812.2 930.7L813.4 931.6L814.6 935.3L815.8 932.6L817.0 931.0L818.2 930.0L819.4 932.7L820.6 934.8L821.8 930.8L823.0 934.3L824.2 931.5L825.4 929.9L826.6 932.8L827.8 938.0L829.0 934.9L830.2 932.2L831.4 936.4L832.6 937.2L833.8 937.3L835.0 933.7L836.2 939.1L837.4 935.6L838.6 942.3L839.8 934.0L841.0 936.2L842.2 937.9L843.4 936.0L844.6 938.7L845.8 936.4L847.0 936.4L848.2 940.2L849.4 934.8L850.6 940.9L851.8 938.9L853.0 934.9L854.2 940.9L855.4 942.4L856.6 938.2L857.8 942.9L859.0 939.9L860.2 939.7L861.4 941.5L862.6 936.8L863.8 940.6L865.0 937.8L866.2 939.4L867.4 939.5L868.6 936.1L869.8 939.1L871.0 937.3L872.2 939.4L873.4 939.2L874.6 936.2L875.8 936.9L877.0 943.0L878.2 943.2L879.4 938.8L880.6 940.0L881.8 940.3L883.0 936.6L884.2 941.9L885.4 939.8L886.6 939.1L887.8 942.8L889.0 940.6L890.2 936.6L891.4 938.9L892.6 938.8L893.8 938.2L895.0 938.8L896.2 939.0L897.4 939.2L898.6 944.9L899.8 941.4L901.0 943.2L902.2 943.7L903.4 945.3L904.6 942.0L905.8 941.9L907.0 942.7L908.2 939.1L909.4 940.6L910.6 945.2L911.8 944.0L913.0 942.0L914.2 941.2L915.4 943.7L916.6 938.7L917.8 940.5L919.0 947.2L920.2 944.2L921.4 943.7L922.6 941.8L923.8 943.1L925.0 941.5L926.2 944.7L927.4 944.7L928.6 943.8L929.8 947.9L931.0 945.9L932.2 940.8L933.4 945.9L934.6 948.7L935.8 944.0L937.0 946.8L938.2 944.7L939.4 941.8L940.6 942.1L941.8 942.3L943.0 939.9L944.2 943.0L945.4 941.1L946.6 946.8L947.8 942.9L949.0 939.9L950.2 939.4L951.4 945.4L952.6 942.1L953.8 939.1L955.0 940.6L956.2 942.4L957.4 941.9L958.6 946.5L959.8 942.5L961.0 940.1L962.2 936.4L963.4 942.4L964.6 941.9L965.8 940.4L967.0 942.8L968.2 940.6L969.4 940.9L970.6 945.4L971.8 937.2L973.0 942.1L974.2 942.1L975.4 938.1L976.6 946.4L977.8 936.0L979.0 941.1L980.2 937.5L981.4 937.4L982.6 940.4L983.8 939.6L985.0 941.7L986.2 940.6L987.4 939.5L988.6 939.9L989.8 938.9L991.0 941.6L992.2 943.8L993.4 940.8L994.6 940.8L995.8 941.8L997.0 937.4L998.2 937.2L999.4 940.9L1000.6 944.2L1001.8 945.3L1003.0 944.8L1004.2 942.5L1005.4 941.4L1006.6 942.6L1007.8 941.2L1009.0 942.7L1010.2 943.8L1011.4 942.3L1012.6 939.0L1013.8 946.6L1015.0 948.7L1016.2 940.9L1017.4 940.3L1018.6 945.6L1019.8 939.2L1021.0 940.3L1022.2 943.9L1023.4 948.4L1024.6 945.1L1025.8 939.4L1027.0 947.4L1028.2 940.3L1029.4 943.7L1030.6 938.5L1031.8 943.4L1033.0 943.1L1034.2 938.8L1035.4 938.8L1036.6 944.1L1037.8 943.5L1039.0 939.7L1040.2 941.5L1041.4 942.7L1042.6 939.2L1043.8 937.4L1045.0 941.5L1046.2 941.4L1047.4 942.5L1048.6 939.3L1049.8 939.2L1051.0 939.3L1052.2 940.9L1053.4 944.1L1054.6 941.2L1055.8 939.3L1057.0 944.2L1058.2 940.2L1059.4 942.9L1060.6 944.6L1061.8 945.0L1063.0 939.0L1064.2 938.2L1065.4 938.1L1066.6 940.7L1067.8 942.8L1069.0 937.1L1070.2 938.9L1071.4 939.1L1072.6 938.3L1073.8 940.9L1075.0 943.9L1076.2 938.5L1077.4 938.1L1078.6 937.5L1079.8 938.6L1081.0 940.9L1082.2 937.8L1083.4 942.0L1084.6 938.6L1085.8 936.1L1087.0 938.0L1088.2 939.8L1089.4 938.1L1090.6 935.7L1091.8 939.2L1093.0 936.1L1094.2 937.0L1095.4 939.8L1096.6 939.7L1097.8 938.8L1099.0 936.0L1100.2 941.2L1101.4 936.7L1102.6 944.0L1103.8 935.6L1105.0 935.1L1106.2 936.7L1107.4 939.3L1108.6 934.2L1109.8 937.6L1111.0 934.3L1112.2 936.5L1113.4 939.0L1114.6 938.9L1115.8 934.7L1117.0 937.0L1118.2 937.6L1119.4 935.1L1120.6 935.3L1121.8 936.4L1123.0 937.1L1124.2 936.7L1125.4 943.5L1126.6 935.1L1127.8 935.8L1129.0 939.0L1130.2 937.4L1131.4 930.7L1132.6 935.8L1133.8 938.6L1135.0 936.2L1136.2 934.6L1137.4 936.5L1138.6 939.3L1139.8 937.0L1141.0 934.3L1142.2 933.7L1143.4 932.8L1144.6 936.8L1145.8 938.8L1147.0 937.1L1148.2 939.3L1149.4 935.0L1150.6 940.2L1151.8 932.7L1153.0 938.4L1154.2 935.4L1155.4 935.2L1156.6 933.5L1157.8 934.6L1159.0 937.5L1160.2 933.9L1161.4 936.3L1162.6 933.9L1163.8 931.2L1165.0 936.9L1166.2 933.7L1167.4 934.9L1168.6 938.6L1169.8 938.5L1171.0 932.6L1172.2 934.5L1173.4 936.8L1174.6 933.6L1175.8 930.6L1177.0 936.7L1178.2 938.8L1179.4 935.2L1180.6 932.4L1181.8 930.7L1183.0 931.4L1184.2 932.0L1185.4 931.9L1186.6 930.4L1187.8 930.8L1189.0 934.2L1190.2 931.6L1191.4 932.2L1192.6 932.1L1193.8 934.8L1195.0 934.7L1196.2 931.7L1197.4 927.7L1198.6 934.3L1199.8 932.6L1201.0 930.2L1202.2 933.6L1203.4 931.2L1204.6 929.6L1205.8 935.2L1207.0 934.6L1208.2 923.3L1209.4 933.2L1210.6 929.3L1211.8 934.0L1213.0 926.5L1214.2 930.5L1215.4 927.9L1216.6 929.1L1217.8 929.1L1219.0 930.4L1220.2 926.6L1221.4 927.7L1222.6 929.6L1223.8 926.8L1225.0 929.3L1226.2 926.1L1227.4 929.0L1228.6 925.7L1229.8 924.7L1231.0 928.0L1232.2 932.1L1233.4 930.7L1234.6 931.8L1235.8 929.8L1237.0 928.6L1238.2 930.1L1239.4 925.9L1240.6 928.4L1241.8 926.5L1243.0 931.6L1244.2 929.4L1245.4 927.2L1246.6 928.5L1247.8 930.6L1249.0 928.2L1250.2 928.8L1251.4 929.6L1252.6 928.2L1253.8 933.9L1255.0 929.2L1256.2 926.7L1257.4 926.8L1258.6 934.1L1259.8 928.7L1261.0 925.6L1262.2 923.9L1263.4 929.7L1264.6 934.3L1265.8 929.6L1267.0 927.5L1268.2 931.0L1269.4 927.3L1270.6 927.2L1271.0 927.4"/>
<path stroke="#ff00ff" stroke-width="4.3" d="M1337.5 884.3L1339.5 883.3L1341.5 885.7L1343.5 888.6L1345.5 883.8L1347.5 884.4L1349.5 886.9L1351.5 886.8L1353.5 888.5L1355.5 890.5L1357.5 892.5L1359.5 891.6L1361.5 888.3L1363.5 884.5L1365.5 879.4L1367.5 882.5L1369.5 882.3L1371.5 881.6L1373.5 885.3L1375.5 880.5L1377.5 880.7L1379.5 877.3L1381.5 877.9L1383.5 872.6L1385.5 872.5L1387.5 870.8L1389.5 871.7L1391.5 877.3L1393.5 873.7L1395.5 876.2L1397.5 874.8L1399.5 875.2L1401.5 871.4L1403.5 869.1L1405.5 872.3L1407.5 872.6L1409.5 874.4L1411.5 879.5L1413.5 877.2L1415.5 876.9L1417.5 874.8L1419.5 869.3L1421.5 869.3L1423.5 865.3L1425.5 863.5L1427.5 866.8L1429.5 865.6L1431.5 866.0L1433.5 862.1L1435.5 867.7L1437.5 867.6L1439.5 864.7L1441.5 867.0L1443.5 866.4L1445.5 868.3L1447.5 867.6L1449.5 867.2L1451.5 867.1L1453.5 865.7L1455.5 865.2L1457.5 865.7L1459.5 867.0L1461.5 863.1L1463.5 861.1L1465.5 857.0L1467.5 856.0L1469.5 856.3L1471.5 856.4L1473.5 856.0L1475.5 860.6L1477.5 860.3L1479.5 858.1L1481.5 859.6L1483.5 856.9L1485.5 857.1L1487.5 855.0L1489.5 852.0L1491.5 852.7L1493.5 855.5L1495.5 853.2L1497.5 850.8L1499.5 849.2L1501.5 847.6L1503.5 847.9L1505.5 849.0L1507.5 848.9L1509.5 849.2L1511.5 844.1L1513.5 845.5L1515.5 847.6L1517.5 846.3L1519.5 848.8L1521.5 847.1L1523.5 849.4L1525.5 844.1L1527.5 843.0L1529.5 837.7L1531.5 835.5L1533.5 835.8L1535.5 832.7L1537.5 836.8L1539.5 831.4L1541.5 830.1L1543.5 827.1L1545.5 830.3L1547.5 829.8L1549.5 826.4L1551.5 825.9L1553.5 825.2L1555.5 823.1L1557.5 815.8L1559.5 813.7L1561.5 814.3L1563.5 814.2L1565.5 808.1L1567.5 808.3L1569.5 808.8L1571.5 804.3L1573.5 808.1L1575.5 809.9L1577.5 810.9L1579.5 809.3L1581.5 807.6L1583.5 802.9L1585.5 799.7L1587.5 794.1L1589.5 796.9L1591.5 799.2L1593.5 795.7L1595.5 796.0L1597.5 801.7L1599.5 802.4L1601.5 808.0L1603.5 810.8L1605.5 812.4L1607.5 815.5L1609.5 814.8L1611.5 819.3L1613.5 823.8L1615.5 826.5L1617.5 830.3L1619.5 835.4L1621.5 841.1L1623.5 847.7L1625.5 854.5L1627.5 862.0L1629.5 869.3L1631.5 875.2L1633.5 876.5L1635.5 882.8L1637.5 887.6L1639.5 892.0L1641.5 893.8L1643.5 893.6L1645.5 895.4L1647.5 898.0L1649.5 901.1L1651.5 901.9L1653.5 904.1L1655.5 907.4L1657.5 910.3L1659.5 910.1L1661.5 908.2L1663.5 904.2L1665.5 904.8L1667.5 910.7L1669.5 908.6L1671.5 912.3L1673.5 913.2L1675.5 912.9L1677.5 909.5L1679.5 906.9L1681.5 905.5L1683.5 908.6L1685.5 915.2L1687.5 918.6L1689.5 920.7L1691.5 917.7L1693.5 917.9L1695.5 923.3L1697.5 918.7L1699.5 919.9L1701.5 918.4L1703.5 918.0L1705.5 917.9L1707.5 916.0L1709.5 916.0L1711.5 916.3L1713.5 916.4L1715.5 916.4L1717.5 914.5L1719.5 914.6L1721.5 913.3L1723.5 914.6L1725.5 914.0L1727.5 916.1L1729.5 917.1L1731.5 916.1L1733.5 919.0L1735.5 918.2L1737.5 924.1L1739.5 921.4L1741.5 923.2L1743.5 921.1L1745.5 922.8L1747.5 923.6L1749.5 921.4L1751.5 920.1L1753.5 920.6L1755.5 919.8L1757.5 920.9L1759.5 918.4L1761.5 921.9L1763.5 920.7L1765.5 922.7L1767.5 921.8L1769.5 921.5L1771.5 923.9L1773.5 921.3L1775.5 922.4L1777.5 921.7L1779.5 924.9L1781.5 925.2L1783.5 926.5L1785.5 922.9L1787.5 925.2L1789.5 923.2L1791.5 924.8L1793.5 922.4L1795.5 920.3L1797.5 924.7L1799.5 922.5L1801.5 922.9L1803.5 921.8L1805.5 920.1L1807.5 918.5L1809.5 918.6L1811.5 917.0L1813.5 916.2L1815.5 912.5L1817.5 915.6L1819.5 918.7L1821.5 922.1L1823.5 926.5L1825.5 925.2L1827.5 922.6L1829.5 924.6L1831.5 921.5L1833.5 923.8L1835.5 922.6L1837.5 920.9L1839.5 918.5L1841.5 919.0L1843.5 918.7L1845.5 917.6L1847.5 919.3L1849.5 919.4L1851.5 919.7L1853.5 923.7L1855.5 922.4L1857.5 922.7L1859.5 922.7L1861.5 924.7L1863.5 920.3L1865.5 923.3L1867.5 921.7L1869.5 916.0L1871.5 917.0L1873.5 919.4L1875.5 916.1L1877.5 914.5L1879.5 916.8L1881.5 915.8L1883.5 917.2L1885.5 916.1L1887.5 918.7L1889.2 919.1"/>
<path stroke="#0000ff" stroke-width="4.4" d="M101.8 1058.7L103.0 1053.0L104.2 1051.2L105.4 1048.6L106.6 1053.0L107.8 1043.4L109.0 1043.7L110.2 1038.4L111.4 1042.2L112.6 1034.8L113.8 1034.8L115.0 1033.9L116.2 1030.3L117.4 1032.9L118.6 1028.4L119.8 1029.4L121.0 1026.7L122.2 1026.1L123.4 1027.1L124.6 1024.7L125.8 1022.6L127.0 1021.7L128.2 1026.9L129.4 1024.1L130.6 1024.1L131.8 1024.5L133.0 1026.1L134.2 1023.6L135.4 1020.8L136.6 1020.2L137.8 1022.7L139.0 1019.6L140.2 1025.1L141.4 1026.4L142.6 1019.6L143.8 1023.2L145.0 1022.5L146.2 1030.0L147.4 1023.9L148.6 1028.5L149.8 1029.9L151.0 1025.8L152.2 1026.1L153.4 1027.9L154.6 1019.9L155.8 1023.7L157.0 1023.6L158.2 1020.4L159.4 1021.0L160.6 1023.5L161.8 1022.7L163.0 1018.0L164.2 1023.1L165.4 1022.9L166.6 1021.6L167.8 1018.6L169.0 1015.4L170.2 1016.5L171.4 1016.1L172.6 1015.3L173.8 1014.0L175.0 1016.3L176.2 1015.5L177.4 1015.7L178.6 1021.0L179.8 1019.0L181.0 1018.6L182.2 1022.8L183.4 1022.7L184.6 1021.9L185.8 1024.0L187.0 1027.4L188.2 1024.2L189.4 1027.8L190.6 1029.8L191.8 1028.2L193.0 1029.5L194.2 1024.5L195.4 1027.0L196.6 1031.7L197.8 1028.3L199.0 1030.5L200.2 1027.4L201.4 1028.7L202.6 1029.4L203.8 1030.6L205.0 1027.9L206.2 1030.4L207.4 1026.3L208.6 1025.5L209.8 1026.0L211.0 1028.4L212.2 1027.7L213.4 1026.1L214.6 1028.0L215.8 1028.6L217.0 1030.0L218.2 1028.7L219.4 1025.2L220.6 1026.9L221.8 1029.9L223.0 1030.0L224.2 1025.5L225.4 1027.3L226.6 1025.8L227.8 1025.7L229.0 1026.1L230.2 1027.4L231.4 1026.9L232.6 1025.5L233.8 1024.3L235.0 1024.8L236.2 1031.3L237.4 1026.8L238.6 1030.6L239.8 1029.4L241.0 1028.0L242.2 1026.7L243.4 1023.4L244.6 1027.0L245.8 1030.4L247.0 1024.1L248.2 1025.8L249.4 1029.3L250.6 1026.8L251.8 1029.0L253.0 1026.7L254.2 1027.6L255.4 1026.5L256.6 1026.3L257.8 1026.8L259.0 1028.3L260.2 1027.0L261.4 1023.0L262.6 1027.2L263.8 1030.0L265.0 1026.5L266.2 1024.1L267.4 1026.3L268.6 1023.9L269.8 1029.1L271.0 1027.1L272.2 1027.2L273.4 1025.9L274.6 1027.6L275.8 1026.4L277.0 1029.0L278.2 1027.7L279.4 1023.4L280.6 1024.1L281.8 1025.7L283.0 1027.1L284.2 1025.4L285.4 1023.6L286.6 1024.0L287.8 1025.1L289.0 1028.3L290.2 1023.4L291.4 1024.0L292.6 1025.8L293.8 1025.3L295.0 1025.7L296.2 1025.6L297.4 1025.9L298.6 1026.7L299.8 1023.8L301.0 1027.3L302.2 1024.1L303.4 1023.3L304.6 1023.1L305.8 1025.4L307.0 1026.1L308.2 1022.5L309.4 1025.8L310.6 1025.3L311.8 1023.0L313.0 1024.8L314.2 1026.5L315.4 1028.6L316.6 1026.0L317.8 1024.8L319.0 1024.8L320.2 1024.7L321.4 1028.1L322.6 1024.8L323.8 1026.0L325.0 1025.3L326.2 1027.3L327.4 1028.3L328.6 1029.5L329.8 1030.3L331.0 1027.0L332.2 1026.1L333.4 1029.8L334.6 1028.8L335.8 1028.3L337.0 1027.9L338.2 1029.1L339.4 1026.6L340.6 1027.5L341.8 1028.6L343.0 1029.6L344.2 1030.1L345.4 1028.4L346.6 1029.5L347.8 1029.8L349.0 1031.3L350.2 1030.9L351.4 1028.4L352.6 1031.4L353.8 1034.5L355.0 1027.3L356.2 1031.7L357.4 1029.8L358.6 1027.9L359.8 1031.4L361.0 1032.7L362.2 1027.8L363.4 1030.2L364.6 1032.0L365.8 1028.5L367.0 1030.1L368.2 1029.3L369.4 1025.8L370.6 1030.3L371.8 1027.4L373.0 1029.9L374.2 1025.1L375.4 1024.8L376.6 1026.1L377.8 1030.8L379.0 1027.6L380.2 1027.7L381.4 1025.2L382.6 1023.0L383.8 1022.1L385.0 1023.6L386.2 1025.9L387.4 1028.7L388.6 1021.9L389.8 1021.3L391.0 1027.4L392.2 1028.2L393.4 1026.6L394.6 1024.3L395.8 1029.1L397.0 1025.1L398.2 1032.3L399.4 1027.1L400.6 1026.3L401.8 1026.8L403.0 1033.5L404.2 1029.9L405.4 1029.8L406.6 1027.0L407.8 1030.0L409.0 1029.5L410.2 1032.8L411.4 1028.7L412.6 1033.5L413.8 1028.3L415.0 1027.3L416.2 1028.4L417.4 1027.2L418.6 1022.4L419.8 1021.7L421.0 1021.6L422.2 1023.8L423.4 1023.4L424.6 1021.8L425.8 1019.8L427.0 1019.2L428.2 1015.6L429.4 1016.1L430.6 1014.7L431.8 1013.9L433.0 1018.3L434.2 1014.1L435.4 1016.0L436.6 1011.2L437.8 1012.3L439.0 1011.2L440.2 1011.2L441.4 1011.3L442.6 1012.0L443.8 1009.6L445.0 1005.1L446.2 1006.1L447.4 998.1L448.6 1003.2L449.8 1003.9L451.0 1006.7L452.2 1014.8L453.4 1010.3L454.6 1012.0L455.8 1015.9L457.0 1015.1L458.2 1012.8L459.4 1015.2L460.6 1017.4L461.8 1015.4L463.0 1014.3L464.2 1014.6L465.4 1012.0L466.6 1014.5L467.8 1012.2L469.0 1009.0L470.2 1009.9L471.4 1011.2L472.6 1011.0L473.8 1010.2L475.0 1008.0L476.2 1010.2L477.4 1007.4L478.6 1005.2L479.8 1007.3L481.0 1010.8L482.2 1009.9L483.4 1008.0L484.6 1010.4L485.8 1010.0L487.0 1007.8L488.2 1011.2L489.4 1009.7L490.6 1009.9L491.8 1012.0L493.0 1009.4L494.2 1012.3L495.4 1014.6L496.6 1014.7L497.8 1012.6L499.0 1015.3L500.2 1010.7L501.4 1015.1L502.6 1013.1L503.8 1017.1L505.0 1015.0L506.2 1015.8L507.4 1016.4L508.6 1013.6L509.8 1009.6L511.0 1013.7L512.2 1015.0L513.4 1017.9L514.6 1014.7L515.8 1015.9L517.0 1014.2L518.2 1014.4L519.4 1015.4L520.6 1013.3L521.8 1015.6L523.0 1017.4L524.2 1015.9L525.4 1011.4L526.6 1014.8L527.8 1014.4L529.0 1014.8L530.2 1012.1L531.4 1014.7L532.6 1012.8L533.8 1011.1L535.0 1013.7L536.2 1011.2L537.4 1008.4L538.6 1011.3L539.8 1008.4L541.0 1009.6L542.2 1011.1L543.4 1006.5L544.6 1009.2L545.8 1009.6L547.0 1008.3L548.2 1008.2L549.4 1006.7L550.6 1008.2L551.8 1008.0L553.0 1010.6L554.2 1009.3L555.4 1011.7L556.6 1010.8L557.8 1010.0L559.0 1010.5L560.2 1007.8L561.4 1012.4L562.6 1010.7L563.8 1008.3L565.0 1008.3L566.2 1008.2L567.4 1006.2L568.6 1009.9L569.8 1006.0L571.0 1008.9L572.2 1008.4L573.4 1007.4L574.6 1008.9L575.8 1009.3L577.0 1005.3L578.2 1003.7L579.4 1006.8L580.6 1009.1L581.8 1008.4L583.0 1008.6L584.2 1008.5L585.4 1010.7L586.6 1005.9L587.8 1007.5L589.0 1012.7L590.2 1004.9L591.4 1004.8L592.6 1006.4L593.8 1007.8L595.0 1008.4L596.2 1006.2L597.4 1006.7L598.6 1006.9L599.8 1002.6L601.0 998.8L602.2 999.2L603.4 998.3L604.6 998.2L605.8 994.1L607.0 997.3L608.2 993.9L609.4 994.6L610.6 988.9L611.8 987.2L613.0 991.9L614.2 980.5L615.4 982.1L616.6 980.6L617.8 977.9L619.0 973.4L620.2 973.6L621.4 966.7L622.6 962.3L623.8 960.1L625.0 955.0L626.2 947.9L627.4 942.2L628.6 940.0L629.8 936.3L631.0 929.5L632.2 926.1L633.4 922.8L634.6 916.4L635.8 916.6L637.0 912.0L638.2 916.5L639.4 917.7L640.6 919.4L641.8 925.3L643.0 925.3L644.2 936.5L645.4 947.8L646.6 957.3L647.8 967.5L649.0 975.1L650.2 984.3L651.4 995.0L652.6 1004.3L653.8 1011.3L655.0 1007.7L656.2 1009.0L657.4 1017.0L658.6 1014.1L659.8 1017.8L661.0 1018.9L662.2 1018.7L663.4 1021.7L664.6 1025.3L665.8 1022.3L667.0 1019.6L668.2 1019.3L669.4 1021.9L670.6 1024.2L671.8 1026.7L673.0 1027.6L674.2 1028.4L675.4 1028.6L676.6 1030.3L677.8 1026.9L679.0 1027.3L680.2 1021.8L681.4 1026.2L682.6 1029.1L683.8 1025.1L685.0 1026.7L686.2 1024.7L687.4 1025.3L688.6 1023.2L689.8 1025.3L691.0 1022.7L692.2 1025.2L693.4 1022.9L694.6 1023.4L695.8 1026.6L697.0 1022.8L698.2 1025.8L699.4 1026.3L700.6 1022.9L701.8 1022.6L703.0 1022.8L704.2 1026.2L705.4 1024.3L706.6 1025.2L707.8 1028.0L709.0 1023.8L710.2 1026.9L711.4 1024.6L712.6 1024.2L713.8 1022.1L715.0 1023.0L716.2 1029.5L717.4 1025.2L718.6 1023.0L719.8 1027.3L721.0 1026.0L722.2 1026.3L723.4 1026.4L724.6 1020.9L725.8 1021.1L727.0 1023.8L728.2 1024.9L729.4 1024.2L730.6 1025.8L731.8 1021.6L733.0 1026.1L734.2 1019.6L735.4 1024.1L736.6 1024.9L737.8 1024.9L739.0 1024.9L740.2 1023.8L741.4 1023.5L742.6 1020.7L743.8 1023.5L745.0 1022.7L746.2 1023.7L747.4 1021.7L748.6 1020.1L749.8 1025.6L751.0 1019.3L752.2 1022.5L753.4 1026.0L754.6 1026.2L755.8 1019.8L757.0 1025.0L758.2 1022.3L759.4 1024.4L760.6 1025.1L761.8 1025.6L763.0 1020.0L764.2 1022.2L765.4 1025.3L766.6 1025.4L767.8 1027.6L769.0 1025.9L770.2 1026.8L771.4 1026.7L772.6 1026.1L773.8 1021.8L775.0 1028.6L776.2 1025.9L777.4 1024.6L778.6 1025.5L779.8 1025.1L781.0 1026.7L782.2 1023.7L783.4 1029.5L784.6 1025.9L785.8 1030.5L787.0 1027.7L788.2 1030.6L789.4 1032.4L790.6 1031.1L791.8 1030.6L793.0 1031.2L794.2 1030.6L795.4 1030.9L796.6 1035.7L797.8 1029.5L799.0 1030.5L800.2 1031.3L801.4 1032.4L802.6 1034.1L803.8 1032.8L805.0 1035.3L806.2 1031.4L807.4 1034.5L808.6 1034.4L809.8 1032.1L811.0 1034.2L812.2 1034.0L813.4 1033.6L814.6 1033.5L815.8 1037.2L817.0 1034.0L818.2 1037.7L819.4 1038.0L820.6 1037.1L821.8 1037.2L823.0 1032.9L824.2 1036.3L825.4 1037.5L826.6 1037.8L827.8 1038.7L829.0 1037.6L830.2 1036.0L831.4 1035.2L832.6 1034.8L833.8 1036.4L835.0 1035.9L836.2 1039.1L837.4 1035.4L838.6 1034.5L839.8 1035.1L841.0 1041.2L842.2 1036.8L843.4 1034.0L844.6 1039.6L845.8 1036.1L847.0 1037.1L848.2 1035.3L849.4 1038.0L850.6 1038.3L851.8 1035.2L853.0 1037.1L854.2 1034.7L855.4 1040.8L856.6 1036.5L857.8 1037.1L859.0 1037.4L860.2 1037.7L861.4 1040.4L862.6 1038.6L863.8 1040.8L865.0 1040.2L866.2 1041.2L867.4 1041.4L868.6 1036.9L869.8 1038.2L871.0 1035.9L872.2 1037.0L873.4 1038.4L874.6 1037.6L875.8 1035.2L877.0 1037.2L878.2 1036.1L879.4 1037.1L880.6 1031.2L881.8 1034.2L883.0 1038.2L884.2 1033.1L885.4 1035.5L886.6 1035.9L887.8 1035.0L889.0 1035.8L890.2 1037.0L891.4 1036.4L892.6 1035.7L893.8 1038.0L895.0 1038.7L896.2 1038.7L897.4 1033.3L898.6 1040.0L899.8 1038.1L901.0 1037.0L902.2 1039.5L903.4 1039.2L904.6 1039.3L905.8 1035.8L907.0 1033.7L908.2 1040.0L909.4 1037.9L910.6 1035.7L911.8 1035.5L913.0 1035.8L914.2 1037.6L915.4 1033.3L916.6 1033.9L917.8 1040.2L919.0 1032.6L920.2 1036.0L921.4 1035.3L922.6 1034.9L923.8 1037.0L925.0 1033.4L926.2 1037.4L927.4 1035.9L928.6 1035.3L929.8 1035.9L931.0 1037.2L932.2 1040.9L933.4 1042.0L934.6 1040.8L935.8 1039.5L937.0 1039.1L938.2 1040.4L939.4 1043.3L940.6 1042.0L941.8 1039.7L943.0 1043.1L944.2 1036.8L945.4 1035.7L946.6 1036.6L947.8 1041.3L949.0 1037.1L950.2 1038.2L951.4 1039.1L952.6 1037.8L953.8 1040.5L955.0 1039.4L956.2 1038.0L957.4 1039.9L958.6 1034.2L959.8 1040.5L961.0 1036.9L962.2 1036.0L963.4 1037.7L964.6 1038.7L965.8 1037.5L967.0 1038.1L968.2 1036.8L969.4 1035.8L970.6 1040.1L971.8 1038.9L973.0 1033.7L974.2 1037.6L975.4 1034.7L976.6 1034.7L977.8 1037.0L979.0 1038.0L980.2 1039.1L981.4 1038.1L982.6 1034.9L983.8 1034.9L985.0 1034.6L986.2 1035.5L987.4 1039.4L988.6 1036.9L989.8 1036.7L991.0 1029.9L992.2 1036.9L993.4 1034.9L994.6 1035.9L995.8 1037.1L997.0 1037.8L998.2 1035.1L999.4 1034.9L1000.6 1036.7L1001.8 1035.2L1003.0 1039.6L1004.2 1035.8L1005.4 1033.2L1006.6 1036.7L1007.8 1035.5L1009.0 1036.5L1010.2 1036.8L1011.4 1038.8L1012.6 1038.9L1013.8 1035.5L1015.0 1032.6L1016.2 1031.8L1017.4 1039.6L1018.6 1035.6L1019.8 1036.9L1021.0 1034.7L1022.2 1035.9L1023.4 1036.8L1024.6 1034.3L1025.8 1034.9L1027.0 1036.0L1028.2 1032.5L1029.4 1032.9L1030.6 1035.7L1031.8 1033.6L1033.0 1033.9L1034.2 1031.1L1035.4 1035.0L1036.6 1034.8L1037.8 1037.8L1039.0 1033.7L1040.2 1033.2L1041.4 1035.2L1042.6 1033.5L1043.8 1036.5L1045.0 1033.4L1046.2 1033.3L1047.4 1035.2L1048.6 1036.2L1049.8 1034.8L1051.0 1036.6L1052.2 1031.5L1053.4 1034.2L1054.6 1035.1L1055.8 1037.6L1057.0 1031.8L1058.2 1037.7L1059.4 1034.5L1060.6 1036.4L1061.8 1035.5L1063.0 1030.7L1064.2 1033.7L1065.4 1035.3L1066.6 1033.8L1067.8 1034.0L1069.0 1035.6L1070.2 1034.9L1071.4 1035.0L1072.6 1036.7L1073.8 1034.6L1075.0 1032.9L1076.2 1033.8L1077.4 1036.3L1078.6 1033.2L1079.8 1034.8L1081.0 1036.8L1082.2 1034.3L1083.4 1034.5L1084.6 1032.8L1085.8 1037.2L1087.0 1036.9L1088.2 1034.9L1089.4 1036.7L1090.6 1034.0L1091.8 1032.9L1093.0 1032.3L1094.2 1036.3L1095.4 1033.4L1096.6 1035.8L1097.8 1034.4L1099.0 1036.9L1100.2 1035.3L1101.4 1032.7L1102.6 1031.8L1103.8 1034.3L1105.0 1036.5L1106.2 1034.6L1107.4 1037.2L1108.6 1036.7L1109.8 1033.7L1111.0 1033.2L1112.2 1033.4L1113.4 1033.9L1114.6 1034.9L1115.8 1034.6L1117.0 1031.9L1118.2 1034.2L1119.4 1033.5L1120.6 1035.4L1121.8 1031.5L1123.0 1036.7L1124.2 1033.9L1125.4 1032.9L1126.6 1033.1L1127.8 1032.1L1129.0 1034.2L1130.2 1035.4L1131.4 1034.0L1132.6 1033.8L1133.8 1035.1L1135.0 1036.5L1136.2 1035.4L1137.4 1029.0L1138.6 1033.5L1139.8 1033.8L1141.0 1033.2L1142.2 1033.6L1143.4 1036.2L1144.6 1033.5L1145.8 1032.9L1147.0 1032.6L1148.2 1029.6L1149.4 1030.0L1150.6 1029.2L1151.8 1035.6L1153.0 1032.5L1154.2 1029.9L1155.4 1031.5L1156.6 1032.1L1157.8 1030.8L1159.0 1034.2L1160.2 1032.4L1161.4 1033.5L1162.6 1030.1L1163.8 1029.0L1165.0 1030.8L1166.2 1031.0L1167.4 1032.6L1168.6 1027.2L1169.8 1032.8L1171.0 1030.8L1172.2 1031.2L1173.4 1032.5L1174.6 1029.3L1175.8 1030.4L1177.0 1031.3L1178.2 1029.8L1179.4 1027.8L1180.6 1031.2L1181.8 1029.6L1183.0 1029.3L1184.2 1030.8L1185.4 1028.6L1186.6 1032.6L1187.8 1031.5L1189.0 1032.6L1190.2 1028.4L1191.4 1029.6L1192.6 1028.9L1193.8 1028.3L1195.0 1027.5L1196.2 1028.8L1197.4 1029.0L1198.6 1027.4L1199.8 1024.5L1201.0 1027.1L1202.2 1032.3L1203.4 1028.0L1204.6 1030.8L1205.8 1027.0L1207.0 1025.0L1208.2 1029.2L1209.4 1029.9L1210.6 1029.3L1211.8 1028.4L1213.0 1028.3L1214.2 1030.1L1215.4 1027.2L1216.6 1028.5L1217.8 1031.9L1219.0 1024.3L1220.2 1028.9L1221.4 1032.3L1222.6 1024.8L1223.8 1024.7L1225.0 1026.8L1226.2 1027.7L1227.4 1031.3L1228.6 1026.7L1229.8 1024.8L1231.0 1031.3L1232.2 1027.8L1233.4 1028.5L1234.6 1028.2L1235.8 1025.8L1237.0 1026.8L1238.2 1029.4L1239.4 1029.7L1240.6 1025.1L1241.8 1028.5L1243.0 1026.2L1244.2 1029.8L1245.4 1027.8L1246.6 1027.5L1247.8 1028.8L1249.0 1031.7L1250.2 1028.6L1251.4 1033.0L1252.6 1029.6L1253.8 1029.1L1255.0 1029.2L1256.2 1029.3L1257.4 1029.1L1258.6 1033.8L1259.8 1026.9L1261.0 1029.5L1262.2 1029.4L1263.4 1030.0L1264.6 1029.5L1265.8 1031.6L1267.0 1027.4L1268.2 1032.3L1269.4 1032.6L1270.6 1029.2L1271.0 1031.2"/>
<path stroke="#0000ff" stroke-width="4.3" d="M1337.2 1007.9L1339.2 1012.8L1341.2 1013.7L1343.2 1015.5L1345.2 1012.2L1347.2 1013.8L1349.2 1010.6L1351.2 1009.5L1353.2 1008.9L1355.2 1009.0L1357.2 1009.0L1359.2 1011.9L1361.2 1011.8L1363.2 1013.4L1365.2 1009.7L1367.2 1008.9L1369.2 1010.4L1371.2 1008.0L1373.2 1009.3L1375.2 1010.8L1377.2 1014.5L1379.2 1017.1L1381.2 1016.9L1383.2 1014.8L1385.2 1013.4L1387.2 1013.0L1389.2 1010.2L1391.2 1011.0L1393.2 1009.6L1395.2 1006.8L1397.2 1009.7L1399.2 1007.6L1401.2 1009.6L1403.2 1013.0L1405.2 1010.1L1407.2 1010.4L1409.2 1008.0L1411.2 1003.3L1413.2 1002.4L1415.2 1006.2L1417.2 1006.8L1419.2 1009.5L1421.2 1008.8L1423.2 1007.3L1425.2 1011.9L1427.2 1008.5L1429.2 1008.7L1431.2 1006.2L1433.2 1011.2L1435.2 1007.0L1437.2 1009.8L1439.2 1014.6L1441.2 1013.5L1443.2 1013.5L1445.2 1013.1L1447.2 1012.6L1449.2 1008.2L1451.2 1008.5L1453.2 1009.8L1455.2 1008.8L1457.2 1006.2L1459.2 1007.2L1461.2 1007.5L1463.2 1004.3L1465.2 1007.4L1467.2 1007.2L1469.2 1002.9L1471.2 1004.3L1473.2 1005.3L1475.2 1005.9L1477.2 1008.4L1479.2 1008.6L1481.2 1011.8L1483.2 1010.6L1485.2 1007.1L1487.2 1006.7L1489.2 1009.2L1491.2 1006.8L1493.2 1008.8L1495.2 1005.5L1497.2 1005.0L1499.2 1004.2L1501.2 1001.2L1503.2 1000.7L1505.2 1000.4L1507.2 1002.0L1509.2 996.9L1511.2 996.7L1513.2 993.9L1515.2 995.6L1517.2 996.2L1519.2 997.9L1521.2 997.9L1523.2 994.0L1525.2 994.1L1527.2 994.0L1529.2 991.3L1531.2 995.6L1533.2 992.0L1535.2 988.3L1537.2 984.5L1539.2 983.7L1541.2 981.5L1543.2 978.1L1545.2 978.4L1547.2 983.0L1549.2 980.6L1551.2 982.9L1553.2 981.8L1555.2 980.0L1557.2 980.6L1559.2 976.2L1561.2 977.8L1563.2 974.6L1565.2 973.1L1567.2 966.2L1569.2 962.1L1571.2 958.2L1573.2 956.6L1575.2 958.4L1577.2 954.5L1579.2 958.9L1581.2 956.6L1583.2 955.4L1585.2 951.2L1587.2 949.2L1589.2 944.7L1591.2 939.5L1593.2 933.4L1595.2 929.5L1597.2 922.8L1599.2 918.4L1601.2 918.8L1603.2 917.6L1605.2 916.1L1607.2 915.6L1609.2 912.2L1611.2 908.2L1613.2 908.0L1615.2 911.3L1617.2 913.4L1619.2 916.9L1621.2 919.2L1623.2 923.8L1625.2 924.0L1627.2 928.4L1629.2 931.8L1631.2 936.6L1633.2 939.6L1635.2 948.2L1637.2 957.8L1639.2 963.4L1641.2 974.2L1643.2 980.5L1645.2 986.0L1647.2 992.6L1649.2 1000.0L1651.2 1002.2L1653.2 1006.8L1655.2 1010.6L1657.2 1009.1L1659.2 1010.5L1661.2 1009.5L1663.2 1012.7L1665.2 1011.1L1667.2 1008.8L1669.2 1013.6L1671.2 1013.9L1673.2 1016.5L1675.2 1019.2L1677.2 1019.2L1679.2 1021.3L1681.2 1023.3L1683.2 1021.4L1685.2 1023.8L1687.2 1023.9L1689.2 1025.3L1691.2 1024.2L1693.2 1020.6L1695.2 1024.2L1697.2 1024.3L1699.2 1021.5L1701.2 1022.0L1703.2 1022.1L1705.2 1021.6L1707.2 1020.8L1709.2 1024.0L1711.2 1021.2L1713.2 1022.3L1715.2 1023.4L1717.2 1024.2L1719.2 1027.6L1721.2 1026.9L1723.2 1029.2L1725.2 1026.5L1727.2 1029.7L1729.2 1029.3L1731.2 1030.2L1733.2 1026.7L1735.2 1028.0L1737.2 1028.2L1739.2 1027.3L1741.2 1028.0L1743.2 1027.9L1745.2 1027.8L1747.2 1026.9L1749.2 1024.5L1751.2 1026.5L1753.2 1024.0L1755.2 1026.4L1757.2 1023.4L1759.2 1025.9L1761.2 1021.1L1763.2 1026.5L1765.2 1024.6L1767.2 1025.0L1769.2 1023.8L1771.2 1023.7L1773.2 1023.2L1775.2 1025.3L1777.2 1023.7L1779.2 1023.5L1781.2 1023.0L1783.2 1021.7L1785.2 1022.9L1787.2 1024.5L1789.2 1023.7L1791.2 1028.1L1793.2 1025.7L1795.2 1027.3L1797.2 1028.4L1799.2 1026.9L1801.2 1029.8L1803.2 1028.8L1805.2 1029.3L1807.2 1028.6L1809.2 1028.7L1811.2 1029.7L1813.2 1028.6L1815.2 1027.9L1817.2 1030.9L1819.2 1027.8L1821.2 1027.9L1823.2 1027.2L1825.2 1027.6L1827.2 1025.0L1829.2 1028.1L1831.2 1028.5L1833.2 1024.4L1835.2 1026.9L1837.2 1025.9L1839.2 1024.5L1841.2 1022.5L1843.2 1022.0L1845.2 1023.7L1847.2 1025.6L1849.2 1024.4L1851.2 1025.2L1853.2 1022.3L1855.2 1023.3L1857.2 1024.3L1859.2 1027.7L1861.2 1025.0L1863.2 1025.7L1865.2 1028.4L1867.2 1028.1L1869.2 1027.1L1871.2 1030.8L1873.2 1024.5L1875.2 1024.9L1877.2 1023.2L1879.2 1022.3L1881.2 1024.0L1883.2 1025.8L1885.2 1024.7L1887.2 1027.8L1889.2 1027.5L1889.5 1027.9"/>
<path stroke="#ff0000" stroke-width="4.4" d="M101.8 1131.6L103.0 1132.3L104.2 1131.5L105.4 1131.4L106.6 1129.3L107.8 1130.0L109.0 1127.8L110.2 1128.1L111.4 1123.8L112.6 1120.0L113.8 1119.8L115.0 1118.2L116.2 1115.1L117.4 1113.3L118.6 1115.8L119.8 1111.1L121.0 1110.3L122.2 1106.4L123.4 1107.5L124.6 1104.9L125.8 1107.8L127.0 1108.7L128.2 1105.4L129.4 1106.0L130.6 1107.5L131.8 1108.7L133.0 1107.8L134.2 1105.8L135.4 1106.3L136.6 1107.3L137.8 1107.8L139.0 1106.6L140.2 1106.8L141.4 1108.8L142.6 1109.6L143.8 1109.2L145.0 1108.6L146.2 1106.5L147.4 1110.5L148.6 1110.8L149.8 1110.2L151.0 1108.8L152.2 1110.0L153.4 1113.5L154.6 1106.8L155.8 1107.5L157.0 1109.2L158.2 1106.1L159.4 1106.9L160.6 1107.8L161.8 1106.4L163.0 1106.1L164.2 1105.9L165.4 1103.2L166.6 1104.8L167.8 1100.4L169.0 1099.0L170.2 1098.5L171.4 1098.2L172.6 1100.8L173.8 1100.5L175.0 1100.1L176.2 1100.3L177.4 1100.0L178.6 1103.9L179.8 1101.6L181.0 1105.1L182.2 1101.7L183.4 1105.6L184.6 1104.6L185.8 1103.7L187.0 1102.3L188.2 1107.4L189.4 1109.0L190.6 1108.4L191.8 1106.1L193.0 1112.6L194.2 1109.4L195.4 1109.3L196.6 1112.2L197.8 1110.6L199.0 1114.9L200.2 1113.2L201.4 1112.9L202.6 1113.3L203.8 1112.3L205.0 1113.2L206.2 1115.8L207.4 1114.8L208.6 1114.6L209.8 1114.0L211.0 1112.5L212.2 1115.0L213.4 1112.7L214.6 1114.1L215.8 1112.3L217.0 1111.0L218.2 1109.8L219.4 1112.8L220.6 1109.7L221.8 1111.6L223.0 1113.2L224.2 1112.1L225.4 1110.3L226.6 1111.3L227.8 1114.3L229.0 1110.9L230.2 1113.2L231.4 1112.4L232.6 1114.1L233.8 1111.3L235.0 1113.6L236.2 1112.1L237.4 1112.9L238.6 1110.2L239.8 1110.9L241.0 1111.3L242.2 1112.0L243.4 1112.1L244.6 1111.5L245.8 1113.2L247.0 1111.4L248.2 1113.3L249.4 1110.7L250.6 1112.2L251.8 1111.8L253.0 1113.1L254.2 1109.6L255.4 1112.3L256.6 1109.7L257.8 1113.0L259.0 1110.5L260.2 1114.5L261.4 1112.3L262.6 1113.8L263.8 1112.5L265.0 1112.9L266.2 1109.9L267.4 1111.0L268.6 1109.2L269.8 1112.0L271.0 1110.4L272.2 1112.6L273.4 1112.4L274.6 1111.9L275.8 1110.7L277.0 1112.0L278.2 1111.2L279.4 1110.8L280.6 1111.3L281.8 1112.6L283.0 1111.6L284.2 1111.3L285.4 1110.6L286.6 1109.5L287.8 1111.1L289.0 1111.4L290.2 1112.2L291.4 1110.0L292.6 1109.9L293.8 1108.9L295.0 1111.9L296.2 1109.5L297.4 1113.3L298.6 1110.1L299.8 1110.5L301.0 1110.9L302.2 1112.0L303.4 1114.1L304.6 1110.4L305.8 1110.6L307.0 1114.8L308.2 1114.9L309.4 1114.9L310.6 1111.2L311.8 1115.6L313.0 1112.0L314.2 1114.9L315.4 1110.7L316.6 1112.2L317.8 1110.1L319.0 1112.7L320.2 1114.9L321.4 1113.8L322.6 1114.1L323.8 1114.7L325.0 1114.5L326.2 1112.3L327.4 1112.5L328.6 1113.1L329.8 1112.8L331.0 1115.0L332.2 1114.5L333.4 1114.1L334.6 1114.8L335.8 1114.3L337.0 1113.3L338.2 1115.7L339.4 1115.0L340.6 1116.0L341.8 1113.8L343.0 1118.4L344.2 1116.0L345.4 1115.4L346.6 1116.7L347.8 1112.9L349.0 1111.4L350.2 1113.4L351.4 1116.5L352.6 1114.1L353.8 1111.1L355.0 1113.1L356.2 1113.4L357.4 1116.7L358.6 1114.1L359.8 1116.6L361.0 1113.3L362.2 1113.7L363.4 1113.8L364.6 1113.1L365.8 1108.7L367.0 1111.2L368.2 1116.0L369.4 1112.7L370.6 1114.8L371.8 1110.3L373.0 1113.6L374.2 1112.1L375.4 1108.9L376.6 1113.6L377.8 1112.0L379.0 1111.9L380.2 1115.4L381.4 1114.2L382.6 1111.7L383.8 1115.2L385.0 1110.0L386.2 1111.7L387.4 1110.5L388.6 1111.0L389.8 1113.5L391.0 1112.8L392.2 1113.9L393.4 1113.3L394.6 1111.8L395.8 1109.9L397.0 1110.9L398.2 1109.9L399.4 1110.1L400.6 1109.8L401.8 1111.4L403.0 1108.8L404.2 1111.5L405.4 1110.7L406.6 1109.6L407.8 1110.2L409.0 1107.4L410.2 1111.0L411.4 1109.2L412.6 1109.1L413.8 1108.5L415.0 1108.2L416.2 1106.2L417.4 1105.1L418.6 1106.5L419.8 1109.2L421.0 1105.8L422.2 1105.6L423.4 1105.9L424.6 1101.5L425.8 1103.3L427.0 1102.5L428.2 1102.5L429.4 1099.4L430.6 1098.7L431.8 1095.5L433.0 1093.8L434.2 1090.4L435.4 1095.5L436.6 1090.7L437.8 1089.2L439.0 1088.9L440.2 1088.9L441.4 1087.6L442.6 1087.1L443.8 1086.5L445.0 1088.1L446.2 1081.2L447.4 1084.9L448.6 1081.4L449.8 1086.9L451.0 1087.9L452.2 1089.6L453.4 1087.9L454.6 1089.9L455.8 1093.1L457.0 1088.3L458.2 1093.2L459.4 1094.8L460.6 1094.1L461.8 1098.4L463.0 1096.1L464.2 1098.4L465.4 1096.6L466.6 1095.7L467.8 1096.0L469.0 1094.7L470.2 1092.6L471.4 1090.0L472.6 1094.1L473.8 1092.9L475.0 1090.7L476.2 1091.3L477.4 1089.5L478.6 1090.3L479.8 1089.9L481.0 1089.0L482.2 1087.3L483.4 1088.6L484.6 1085.7L485.8 1086.8L487.0 1089.8L488.2 1089.3L489.4 1090.5L490.6 1092.0L491.8 1091.2L493.0 1092.2L494.2 1091.8L495.4 1091.5L496.6 1091.3L497.8 1093.3L499.0 1093.7L500.2 1090.6L501.4 1093.4L502.6 1094.5L503.8 1093.4L505.0 1090.6L506.2 1093.9L507.4 1091.1L508.6 1095.2L509.8 1093.4L511.0 1096.5L512.2 1094.0L513.4 1097.9L514.6 1098.4L515.8 1094.3L517.0 1096.6L518.2 1097.6L519.4 1093.8L520.6 1091.8L521.8 1095.4L523.0 1094.1L524.2 1094.4L525.4 1095.3L526.6 1091.1L527.8 1095.9L529.0 1092.9L530.2 1093.4L531.4 1096.3L532.6 1094.3L533.8 1093.2L535.0 1089.9L536.2 1095.1L537.4 1091.1L538.6 1093.3L539.8 1091.7L541.0 1093.7L542.2 1089.5L543.4 1091.0L544.6 1091.2L545.8 1090.0L547.0 1087.0L548.2 1092.3L549.4 1091.6L550.6 1088.9L551.8 1090.3L553.0 1091.2L554.2 1091.0L555.4 1092.1L556.6 1089.8L557.8 1088.9L559.0 1087.4L560.2 1089.1L561.4 1088.5L562.6 1090.8L563.8 1086.4L565.0 1088.0L566.2 1090.0L567.4 1090.0L568.6 1087.3L569.8 1089.2L571.0 1085.6L572.2 1090.3L573.4 1085.8L574.6 1088.2L575.8 1086.5L577.0 1083.4L578.2 1085.4L579.4 1089.8L580.6 1086.7L581.8 1083.8L583.0 1083.8L584.2 1086.3L585.4 1085.3L586.6 1085.1L587.8 1084.1L589.0 1084.5L590.2 1084.0L591.4 1082.8L592.6 1079.3L593.8 1081.7L595.0 1082.2L596.2 1083.0L597.4 1083.7L598.6 1080.9L599.8 1082.9L601.0 1080.0L602.2 1081.7L603.4 1079.5L604.6 1079.6L605.8 1076.0L607.0 1076.4L608.2 1077.6L609.4 1076.0L610.6 1074.2L611.8 1070.9L613.0 1068.7L614.2 1067.6L615.4 1066.7L616.6 1066.2L617.8 1062.8L619.0 1058.8L620.2 1052.0L621.4 1042.3L622.6 1038.7L623.8 1035.0L625.0 1027.9L626.2 1018.4L627.4 1002.1L628.6 996.4L629.8 983.5L631.0 974.7L632.2 967.5L633.4 965.6L634.6 958.7L635.8 955.6L637.0 951.8L638.2 959.5L639.4 965.6L640.6 971.8L641.8 976.7L643.0 986.3L644.2 999.4L645.4 1010.4L646.6 1023.1L647.8 1041.9L649.0 1050.1L650.2 1055.0L651.4 1060.9L652.6 1073.7L653.8 1081.1L655.0 1086.5L656.2 1089.6L657.4 1091.4L658.6 1095.3L659.8 1095.7L661.0 1100.2L662.2 1101.2L663.4 1104.2L664.6 1103.6L665.8 1107.6L667.0 1104.2L668.2 1109.5L669.4 1105.0L670.6 1108.5L671.8 1108.3L673.0 1110.2L674.2 1108.1L675.4 1111.0L676.6 1110.6L677.8 1108.1L679.0 1110.1L680.2 1110.2L681.4 1110.0L682.6 1106.6L683.8 1109.8L685.0 1109.6L686.2 1108.9L687.4 1107.5L688.6 1110.7L689.8 1110.7L691.0 1107.8L692.2 1107.9L693.4 1110.0L694.6 1110.7L695.8 1109.8L697.0 1108.2L698.2 1109.5L699.4 1110.2L700.6 1108.8L701.8 1108.7L703.0 1111.6L704.2 1112.2L705.4 1112.1L706.6 1111.5L707.8 1110.8L709.0 1111.4L710.2 1110.9L711.4 1109.7L712.6 1112.3L713.8 1111.4L715.0 1109.0L716.2 1109.4L717.4 1110.3L718.6 1111.2L719.8 1108.1L721.0 1109.8L722.2 1111.9L723.4 1110.9L724.6 1113.5L725.8 1111.8L727.0 1107.5L728.2 1106.8L729.4 1114.7L730.6 1110.4L731.8 1108.9L733.0 1111.8L734.2 1110.8L735.4 1112.3L736.6 1112.9L737.8 1111.3L739.0 1115.5L740.2 1111.5L741.4 1111.5L742.6 1109.8L743.8 1112.9L745.0 1112.2L746.2 1113.1L747.4 1113.5L748.6 1113.1L749.8 1114.5L751.0 1110.9L752.2 1109.9L753.4 1110.5L754.6 1112.6L755.8 1116.9L757.0 1112.8L758.2 1114.5L759.4 1114.0L760.6 1112.0L761.8 1113.2L763.0 1114.5L764.2 1110.8L765.4 1111.0L766.6 1114.9L767.8 1112.6L769.0 1112.8L770.2 1112.3L771.4 1110.2L772.6 1113.6L773.8 1111.6L775.0 1111.6L776.2 1115.4L777.4 1115.5L778.6 1111.7L779.8 1110.6L781.0 1113.2L782.2 1110.8L783.4 1113.2L784.6 1110.9L785.8 1113.9L787.0 1113.0L788.2 1115.8L789.4 1116.0L790.6 1117.6L791.8 1114.4L793.0 1113.1L794.2 1114.0L795.4 1114.3L796.6 1114.0L797.8 1116.1L799.0 1116.4L800.2 1115.3L801.4 1114.9L802.6 1117.3L803.8 1114.4L805.0 1116.8L806.2 1115.2L807.4 1116.9L808.6 1119.8L809.8 1117.3L811.0 1118.5L812.2 1119.1L813.4 1120.5L814.6 1117.7L815.8 1119.2L817.0 1117.0L818.2 1120.5L819.4 1119.9L820.6 1119.6L821.8 1119.2L823.0 1117.6L824.2 1122.8L825.4 1117.6L826.6 1118.8L827.8 1118.7L829.0 1120.0L830.2 1116.0L831.4 1122.9L832.6 1118.4L833.8 1119.1L835.0 1119.1L836.2 1118.9L837.4 1122.3L838.6 1123.4L839.8 1121.6L841.0 1115.4L842.2 1120.2L843.4 1121.1L844.6 1118.0L845.8 1122.2L847.0 1120.9L848.2 1117.6L849.4 1118.6L850.6 1118.8L851.8 1117.1L853.0 1117.4L854.2 1121.2L855.4 1123.0L856.6 1121.9L857.8 1121.2L859.0 1123.5L860.2 1122.9L861.4 1120.6L862.6 1119.6L863.8 1121.5L865.0 1116.8L866.2 1118.2L867.4 1119.0L868.6 1119.5L869.8 1123.9L871.0 1120.1L872.2 1118.1L873.4 1120.3L874.6 1117.6L875.8 1121.4L877.0 1124.7L878.2 1122.7L879.4 1122.9L880.6 1119.8L881.8 1119.6L883.0 1121.6L884.2 1119.3L885.4 1117.3L886.6 1121.8L887.8 1119.6L889.0 1118.1L890.2 1119.8L891.4 1122.1L892.6 1120.0L893.8 1119.8L895.0 1118.9L896.2 1118.3L897.4 1121.8L898.6 1120.4L899.8 1120.8L901.0 1120.4L902.2 1120.1L903.4 1118.6L904.6 1119.5L905.8 1121.4L907.0 1121.0L908.2 1121.0L909.4 1121.6L910.6 1124.7L911.8 1119.5L913.0 1122.1L914.2 1117.5L915.4 1121.2L916.6 1119.9L917.8 1119.0L919.0 1120.4L920.2 1119.8L921.4 1117.2L922.6 1120.4L923.8 1120.1L925.0 1121.8L926.2 1121.3L927.4 1122.6L928.6 1119.6L929.8 1124.0L931.0 1121.6L932.2 1121.4L933.4 1120.8L934.6 1120.1L935.8 1121.9L937.0 1122.4L938.2 1123.9L939.4 1122.4L940.6 1121.1L941.8 1121.4L943.0 1120.8L944.2 1120.5L945.4 1121.4L946.6 1124.8L947.8 1119.3L949.0 1120.7L950.2 1120.9L951.4 1119.1L952.6 1123.8L953.8 1119.8L955.0 1123.0L956.2 1124.8L957.4 1120.4L958.6 1121.5L959.8 1118.5L961.0 1120.9L962.2 1118.8L963.4 1121.3L964.6 1117.7L965.8 1119.3L967.0 1118.8L968.2 1119.8L969.4 1121.2L970.6 1121.0L971.8 1118.5L973.0 1121.4L974.2 1119.8L975.4 1120.2L976.6 1120.2L977.8 1121.7L979.0 1118.1L980.2 1115.5L981.4 1119.1L982.6 1117.2L983.8 1116.5L985.0 1116.6L986.2 1120.6L987.4 1119.3L988.6 1115.7L989.8 1116.3L991.0 1116.3L992.2 1118.1L993.4 1120.4L994.6 1117.7L995.8 1120.0L997.0 1119.3L998.2 1118.9L999.4 1120.1L1000.6 1117.8L1001.8 1117.0L1003.0 1117.1L1004.2 1118.7L1005.4 1119.2L1006.6 1116.3L1007.8 1117.1L1009.0 1116.4L1010.2 1119.0L1011.4 1119.9L1012.6 1116.0L1013.8 1120.9L1015.0 1117.7L1016.2 1118.4L1017.4 1117.9L1018.6 1119.4L1019.8 1118.2L1021.0 1118.3L1022.2 1119.3L1023.4 1119.1L1024.6 1118.4L1025.8 1117.4L1027.0 1118.2L1028.2 1120.0L1029.4 1117.9L1030.6 1116.6L1031.8 1118.5L1033.0 1120.6L1034.2 1120.2L1035.4 1116.5L1036.6 1119.4L1037.8 1120.8L1039.0 1119.9L1040.2 1115.4L1041.4 1117.2L1042.6 1116.8L1043.8 1120.4L1045.0 1118.5L1046.2 1117.8L1047.4 1120.7L1048.6 1118.9L1049.8 1119.0L1051.0 1120.8L1052.2 1121.3L1053.4 1117.7L1054.6 1115.9L1055.8 1116.3L1057.0 1118.6L1058.2 1118.5L1059.4 1118.3L1060.6 1120.3L1061.8 1118.2L1063.0 1116.6L1064.2 1120.5L1065.4 1115.7L1066.6 1115.2L1067.8 1120.1L1069.0 1120.5L1070.2 1120.5L1071.4 1116.9L1072.6 1119.4L1073.8 1118.7L1075.0 1120.5L1076.2 1120.3L1077.4 1117.8L1078.6 1117.4L1079.8 1116.6L1081.0 1117.9L1082.2 1116.9L1083.4 1119.3L1084.6 1119.9L1085.8 1122.3L1087.0 1119.5L1088.2 1118.3L1089.4 1118.1L1090.6 1119.7L1091.8 1115.9L1093.0 1117.1L1094.2 1118.5L1095.4 1118.0L1096.6 1116.4L1097.8 1120.6L1099.0 1118.8L1100.2 1118.8L1101.4 1119.4L1102.6 1118.7L1103.8 1119.1L1105.0 1120.9L1106.2 1117.2L1107.4 1118.7L1108.6 1117.0L1109.8 1119.5L1111.0 1119.8L1112.2 1114.8L1113.4 1118.2L1114.6 1118.1L1115.8 1119.4L1117.0 1117.3L1118.2 1119.1L1119.4 1117.0L1120.6 1117.1L1121.8 1115.2L1123.0 1117.9L1124.2 1118.0L1125.4 1116.4L1126.6 1119.5L1127.8 1120.2L1129.0 1119.2L1130.2 1117.5L1131.4 1118.5L1132.6 1119.6L1133.8 1118.0L1135.0 1118.4L1136.2 1117.2L1137.4 1118.3L1138.6 1119.8L1139.8 1117.2L1141.0 1118.3L1142.2 1116.6L1143.4 1116.1L1144.6 1117.8L1145.8 1117.1L1147.0 1118.2L1148.2 1118.8L1149.4 1115.9L1150.6 1117.8L1151.8 1118.5L1153.0 1117.9L1154.2 1120.2L1155.4 1114.1L1156.6 1119.9L1157.8 1120.0L1159.0 1118.4L1160.2 1114.0L1161.4 1119.7L1162.6 1117.0L1163.8 1120.5L1165.0 1119.1L1166.2 1116.3L1167.4 1116.3L1168.6 1117.7L1169.8 1119.9L1171.0 1118.5L1172.2 1116.9L1173.4 1115.1L1174.6 1116.4L1175.8 1118.5L1177.0 1117.7L1178.2 1115.2L1179.4 1118.1L1180.6 1118.1L1181.8 1117.7L1183.0 1117.8L1184.2 1117.6L1185.4 1118.9L1186.6 1118.3L1187.8 1115.1L1189.0 1116.4L1190.2 1116.5L1191.4 1119.7L1192.6 1115.6L1193.8 1119.9L1195.0 1114.3L1196.2 1119.8L1197.4 1118.6L1198.6 1115.7L1199.8 1119.6L1201.0 1116.3L1202.2 1117.2L1203.4 1115.7L1204.6 1118.2L1205.8 1118.8L1207.0 1119.5L1208.2 1117.5L1209.4 1116.4L1210.6 1117.7L1211.8 1117.1L1213.0 1119.9L1214.2 1118.5L1215.4 1114.9L1216.6 1120.1L1217.8 1116.9L1219.0 1115.8L1220.2 1116.9L1221.4 1115.1L1222.6 1118.4L1223.8 1114.5L1225.0 1116.2L1226.2 1115.8L1227.4 1119.9L1228.6 1118.5L1229.8 1116.4L1231.0 1119.2L1232.2 1120.4L1233.4 1119.5L1234.6 1119.1L1235.8 1118.1L1237.0 1116.5L1238.2 1117.1L1239.4 1117.3L1240.6 1119.1L1241.8 1118.0L1243.0 1119.1L1244.2 1120.3L1245.4 1115.6L1246.6 1118.0L1247.8 1116.1L1249.0 1113.9L1250.2 1119.0L1251.4 1118.1L1252.6 1116.4L1253.8 1118.5L1255.0 1114.3L1256.2 1122.2L1257.4 1119.1L1258.6 1116.8L1259.8 1118.0L1261.0 1116.9L1262.2 1114.3L1263.4 1117.2L1264.6 1117.3L1265.8 1115.4L1267.0 1119.1L1268.2 1119.8L1269.4 1118.5L1270.6 1120.9L1271.0 1118.6"/>
<path stroke="#ff0000" stroke-width="4.3" d="M1337.2 1089.8L1339.2 1094.3L1341.2 1092.9L1343.2 1093.7L1345.2 1092.8L1347.2 1092.5L1349.2 1095.2L1351.2 1095.4L1353.2 1096.3L1355.2 1093.1L1357.2 1091.2L1359.2 1090.2L1361.2 1089.7L1363.2 1087.5L1365.2 1088.8L1367.2 1087.6L1369.2 1085.4L1371.2 1086.8L1373.2 1085.2L1375.2 1087.3L1377.2 1086.0L1379.2 1084.5L1381.2 1085.8L1383.2 1087.7L1385.2 1086.2L1387.2 1088.3L1389.2 1091.1L1391.2 1089.9L1393.2 1090.4L1395.2 1091.4L1397.2 1091.9L1399.2 1091.0L1401.2 1086.0L1403.2 1086.3L1405.2 1084.7L1407.2 1083.5L1409.2 1083.3L1411.2 1088.8L1413.2 1087.7L1415.2 1088.8L1417.2 1088.9L1419.2 1086.9L1421.2 1086.5L1423.2 1085.8L1425.2 1083.3L1427.2 1085.9L1429.2 1085.7L1431.2 1082.2L1433.2 1090.1L1435.2 1086.0L1437.2 1088.5L1439.2 1090.2L1441.2 1088.2L1443.2 1087.2L1445.2 1090.1L1447.2 1085.7L1449.2 1089.7L1451.2 1087.3L1453.2 1086.8L1455.2 1090.3L1457.2 1092.2L1459.2 1090.6L1461.2 1088.2L1463.2 1092.0L1465.2 1091.4L1467.2 1087.6L1469.2 1092.0L1471.2 1089.1L1473.2 1088.0L1475.2 1087.7L1477.2 1089.6L1479.2 1089.6L1481.2 1088.3L1483.2 1085.9L1485.2 1084.3L1487.2 1085.1L1489.2 1083.8L1491.2 1083.8L1493.2 1083.4L1495.2 1083.4L1497.2 1081.3L1499.2 1081.5L1501.2 1082.6L1503.2 1083.6L1505.2 1081.4L1507.2 1084.6L1509.2 1084.8L1511.2 1080.9L1513.2 1082.9L1515.2 1083.7L1517.2 1082.2L1519.2 1086.1L1521.2 1078.3L1523.2 1080.4L1525.2 1079.3L1527.2 1077.3L1529.2 1076.3L1531.2 1074.1L1533.2 1074.9L1535.2 1075.7L1537.2 1071.0L1539.2 1071.9L1541.2 1072.2L1543.2 1072.2L1545.2 1069.4L1547.2 1071.1L1549.2 1066.9L1551.2 1069.7L1553.2 1062.0L1555.2 1060.9L1557.2 1056.8L1559.2 1053.7L1561.2 1051.6L1563.2 1051.0L1565.2 1049.4L1567.2 1046.5L1569.2 1043.9L1571.2 1040.9L1573.2 1040.4L1575.2 1035.4L1577.2 1031.0L1579.2 1029.6L1581.2 1024.0L1583.2 1020.3L1585.2 1016.8L1587.2 1012.2L1589.2 1006.1L1591.2 997.7L1593.2 991.7L1595.2 982.2L1597.2 979.3L1599.2 968.7L1601.2 964.4L1603.2 960.4L1605.2 954.5L1607.2 957.1L1609.2 953.3L1611.2 949.5L1613.2 956.6L1615.2 959.5L1617.2 960.3L1619.2 967.2L1621.2 973.7L1623.2 979.2L1625.2 988.3L1627.2 993.0L1629.2 1004.2L1631.2 1010.1L1633.2 1021.5L1635.2 1032.6L1637.2 1040.4L1639.2 1046.8L1641.2 1060.3L1643.2 1069.9L1645.2 1075.9L1647.2 1081.0L1649.2 1080.9L1651.2 1083.8L1653.2 1088.9L1655.2 1089.4L1657.2 1088.7L1659.2 1090.8L1661.2 1090.9L1663.2 1091.7L1665.2 1093.0L1667.2 1093.6L1669.2 1099.7L1671.2 1100.4L1673.2 1101.1L1675.2 1103.8L1677.2 1101.0L1679.2 1099.6L1681.2 1102.7L1683.2 1101.3L1685.2 1101.0L1687.2 1104.2L1689.2 1102.5L1691.2 1103.3L1693.2 1104.8L1695.2 1103.0L1697.2 1108.0L1699.2 1109.5L1701.2 1112.8L1703.2 1111.5L1705.2 1110.8L1707.2 1111.0L1709.2 1109.6L1711.2 1107.7L1713.2 1108.1L1715.2 1107.8L1717.2 1108.0L1719.2 1107.9L1721.2 1107.7L1723.2 1109.1L1725.2 1107.2L1727.2 1107.4L1729.2 1108.2L1731.2 1108.0L1733.2 1107.6L1735.2 1110.3L1737.2 1109.0L1739.2 1111.0L1741.2 1109.8L1743.2 1108.8L1745.2 1111.2L1747.2 1108.7L1749.2 1110.2L1751.2 1111.7L1753.2 1111.2L1755.2 1108.9L1757.2 1110.5L1759.2 1110.9L1761.2 1110.5L1763.2 1110.5L1765.2 1111.5L1767.2 1108.9L1769.2 1114.0L1771.2 1114.0L1773.2 1114.0L1775.2 1114.1L1777.2 1111.7L1779.2 1113.7L1781.2 1118.3L1783.2 1112.9L1785.2 1116.5L1787.2 1114.0L1789.2 1112.6L1791.2 1114.9L1793.2 1117.0L1795.2 1114.9L1797.2 1117.0L1799.2 1117.1L1801.2 1118.2L1803.2 1116.1L1805.2 1116.7L1807.2 1115.7L1809.2 1115.3L1811.2 1114.9L1813.2 1112.0L1815.2 1112.2L1817.2 1113.8L1819.2 1113.7L1821.2 1112.5L1823.2 1112.1L1825.2 1110.7L1827.2 1109.1L1829.2 1110.8L1831.2 1109.8L1833.2 1109.3L1835.2 1108.7L1837.2 1109.3L1839.2 1107.0L1841.2 1107.4L1843.2 1108.8L1845.2 1106.6L1847.2 1109.3L1849.2 1108.2L1851.2 1109.4L1853.2 1111.3L1855.2 1109.6L1857.2 1112.3L1859.2 1111.8L1861.2 1113.9L1863.2 1114.9L1865.2 1116.8L1867.2 1116.9L1869.2 1115.5L1871.2 1113.7L1873.2 1116.5L1875.2 1117.7L1877.2 1114.8L1879.2 1114.2L1881.2 1113.5L1883.2 1115.0L1885.2 1114.4L1887.2 1113.1L1889.2 1111.0L1889.5 1112.8"/>
<path stroke="#000000" stroke-width="4.4" d="M101.8 1186.6L103.0 1187.4L104.2 1185.6L105.4 1185.4L106.6 1184.0L107.8 1183.5L109.0 1183.1L110.2 1180.1L111.4 1174.0L112.6 1169.3L113.8 1170.2L115.0 1168.3L116.2 1169.4L117.4 1167.5L118.6 1166.0L119.8 1163.8L121.0 1164.5L122.2 1162.5L123.4 1160.0L124.6 1156.5L125.8 1157.3L127.0 1160.4L128.2 1163.7L129.4 1161.6L130.6 1159.7L131.8 1160.3L133.0 1160.8L134.2 1159.2L135.4 1161.1L136.6 1159.4L137.8 1160.0L139.0 1162.6L140.2 1164.1L141.4 1162.9L142.6 1161.1L143.8 1163.7L145.0 1162.1L146.2 1167.1L147.4 1163.2L148.6 1164.3L149.8 1161.9L151.0 1165.0L152.2 1162.9L153.4 1161.3L154.6 1161.0L155.8 1160.3L157.0 1160.2L158.2 1161.1L159.4 1158.7L160.6 1158.8L161.8 1160.0L163.0 1161.1L164.2 1159.2L165.4 1161.4L166.6 1158.4L167.8 1156.8L169.0 1158.3L170.2 1152.4L171.4 1155.3L172.6 1152.0L173.8 1152.1L175.0 1155.3L176.2 1153.4L177.4 1153.3L178.6 1155.8L179.8 1154.6L181.0 1158.6L182.2 1161.2L183.4 1160.8L184.6 1159.4L185.8 1158.9L187.0 1159.7L188.2 1162.1L189.4 1158.8L190.6 1164.6L191.8 1160.5L193.0 1163.3L194.2 1164.4L195.4 1166.5L196.6 1166.9L197.8 1167.8L199.0 1165.5L200.2 1168.4L201.4 1164.2L202.6 1166.9L203.8 1164.1L205.0 1167.9L206.2 1164.7L207.4 1165.5L208.6 1167.5L209.8 1165.6L211.0 1165.6L212.2 1166.3L213.4 1162.6L214.6 1165.2L215.8 1164.4L217.0 1164.1L218.2 1165.1L219.4 1163.5L220.6 1164.9L221.8 1167.0L223.0 1165.7L224.2 1167.2L225.4 1165.8L226.6 1164.3L227.8 1164.3L229.0 1163.5L230.2 1164.2L231.4 1166.9L232.6 1165.1L233.8 1166.2L235.0 1167.5L236.2 1163.2L237.4 1164.5L238.6 1163.1L239.8 1166.7L241.0 1166.1L242.2 1166.3L243.4 1165.0L244.6 1165.3L245.8 1165.3L247.0 1167.4L248.2 1161.7L249.4 1165.8L250.6 1167.1L251.8 1163.8L253.0 1165.2L254.2 1165.8L255.4 1165.8L256.6 1162.2L257.8 1165.0L259.0 1165.7L260.2 1162.1L261.4 1164.7L262.6 1163.7L263.8 1164.8L265.0 1165.3L266.2 1162.4L267.4 1166.2L268.6 1163.7L269.8 1164.8L271.0 1163.8L272.2 1166.2L273.4 1167.0L274.6 1164.1L275.8 1163.4L277.0 1166.0L278.2 1166.2L279.4 1165.2L280.6 1163.1L281.8 1164.1L283.0 1163.4L284.2 1166.1L285.4 1164.7L286.6 1166.5L287.8 1164.7L289.0 1165.8L290.2 1166.8L291.4 1164.4L292.6 1165.8L293.8 1161.3L295.0 1163.5L296.2 1162.6L297.4 1161.6L298.6 1162.3L299.8 1164.0L301.0 1163.3L302.2 1164.5L303.4 1161.1L304.6 1162.9L305.8 1162.7L307.0 1164.6L308.2 1162.5L309.4 1163.5L310.6 1164.2L311.8 1161.8L313.0 1164.2L314.2 1162.9L315.4 1164.2L316.6 1166.1L317.8 1166.1L319.0 1164.6L320.2 1165.1L321.4 1164.9L322.6 1164.0L323.8 1167.7L325.0 1165.4L326.2 1165.1L327.4 1167.0L328.6 1165.2L329.8 1168.1L331.0 1163.6L332.2 1164.8L333.4 1165.4L334.6 1166.7L335.8 1166.3L337.0 1166.8L338.2 1168.6L339.4 1166.9L340.6 1169.6L341.8 1168.5L343.0 1168.3L344.2 1167.0L345.4 1168.3L346.6 1168.7L347.8 1168.1L349.0 1168.2L350.2 1169.4L351.4 1171.0L352.6 1167.9L353.8 1166.0L355.0 1170.1L356.2 1166.3L357.4 1169.5L358.6 1168.9L359.8 1168.1L361.0 1167.8L362.2 1165.5L363.4 1170.1L364.6 1167.0L365.8 1169.4L367.0 1166.9L368.2 1167.4L369.4 1165.1L370.6 1167.5L371.8 1164.1L373.0 1166.3L374.2 1170.2L375.4 1167.2L376.6 1165.5L377.8 1167.7L379.0 1166.3L380.2 1166.9L381.4 1165.2L382.6 1167.2L383.8 1165.7L385.0 1167.5L386.2 1166.7L387.4 1165.2L388.6 1165.2L389.8 1166.2L391.0 1164.0L392.2 1165.9L393.4 1167.0L394.6 1167.3L395.8 1162.6L397.0 1165.3L398.2 1166.6L399.4 1167.5L400.6 1162.5L401.8 1163.0L403.0 1164.3L404.2 1166.6L405.4 1163.6L406.6 1163.4L407.8 1163.6L409.0 1166.1L410.2 1158.7L411.4 1163.4L412.6 1160.6L413.8 1162.1L415.0 1163.2L416.2 1163.5L417.4 1160.7L418.6 1159.8L419.8 1162.0L421.0 1160.4L422.2 1160.2L423.4 1160.6L424.6 1159.1L425.8 1159.9L427.0 1155.3L428.2 1152.9L429.4 1151.8L430.6 1152.0L431.8 1152.3L433.0 1147.4L434.2 1144.6L435.4 1146.5L436.6 1144.4L437.8 1143.5L439.0 1141.9L440.2 1143.2L441.4 1141.3L442.6 1140.6L443.8 1136.0L445.0 1138.3L446.2 1139.3L447.4 1136.6L448.6 1137.3L449.8 1138.1L451.0 1139.7L452.2 1140.3L453.4 1142.1L454.6 1144.0L455.8 1142.4L457.0 1146.0L458.2 1147.0L459.4 1148.7L460.6 1149.3L461.8 1149.4L463.0 1151.2L464.2 1148.8L465.4 1146.6L466.6 1146.9L467.8 1148.2L469.0 1145.4L470.2 1149.0L471.4 1147.9L472.6 1144.6L473.8 1144.0L475.0 1145.2L476.2 1145.0L477.4 1145.6L478.6 1145.5L479.8 1145.2L481.0 1141.4L482.2 1141.1L483.4 1141.1L484.6 1140.9L485.8 1139.0L487.0 1139.9L488.2 1142.5L489.4 1142.9L490.6 1143.5L491.8 1145.9L493.0 1145.2L494.2 1143.3L495.4 1144.3L496.6 1144.5L497.8 1146.0L499.0 1144.3L500.2 1146.1L501.4 1143.0L502.6 1147.6L503.8 1148.7L505.0 1146.6L506.2 1149.3L507.4 1147.9L508.6 1147.1L509.8 1147.7L511.0 1148.2L512.2 1150.0L513.4 1149.2L514.6 1151.4L515.8 1150.9L517.0 1149.0L518.2 1149.4L519.4 1147.9L520.6 1148.8L521.8 1148.8L523.0 1150.6L524.2 1146.5L525.4 1148.7L526.6 1149.4L527.8 1148.9L529.0 1148.1L530.2 1148.1L531.4 1145.3L532.6 1147.4L533.8 1148.6L535.0 1147.8L536.2 1148.7L537.4 1148.6L538.6 1145.0L539.8 1146.3L541.0 1144.3L542.2 1146.6L543.4 1143.7L544.6 1145.4L545.8 1145.1L547.0 1146.2L548.2 1143.2L549.4 1143.5L550.6 1143.1L551.8 1142.1L553.0 1140.0L554.2 1140.3L555.4 1143.6L556.6 1141.6L557.8 1142.3L559.0 1140.2L560.2 1140.1L561.4 1140.0L562.6 1141.9L563.8 1142.0L565.0 1138.2L566.2 1141.8L567.4 1139.3L568.6 1140.5L569.8 1138.1L571.0 1136.3L572.2 1135.9L573.4 1135.6L574.6 1139.9L575.8 1134.6L577.0 1137.9L578.2 1135.9L579.4 1138.6L580.6 1137.9L581.8 1137.8L583.0 1136.7L584.2 1137.1L585.4 1138.0L586.6 1135.0L587.8 1135.2L589.0 1134.8L590.2 1131.8L591.4 1135.8L592.6 1135.2L593.8 1138.8L595.0 1134.9L596.2 1134.1L597.4 1131.0L598.6 1133.6L599.8 1132.3L601.0 1132.2L602.2 1129.0L603.4 1128.1L604.6 1128.7L605.8 1127.6L607.0 1124.4L608.2 1124.7L609.4 1127.1L610.6 1124.2L611.8 1121.2L613.0 1119.7L614.2 1119.0L615.4 1113.1L616.6 1112.1L617.8 1111.8L619.0 1106.0L620.2 1107.2L621.4 1098.2L622.6 1093.3L623.8 1085.5L625.0 1082.3L626.2 1071.7L627.4 1065.5L628.6 1055.4L629.8 1047.8L631.0 1036.9L632.2 1030.8L633.4 1018.5L634.6 1015.5L635.8 1006.3L637.0 1008.2L638.2 1012.1L639.4 1017.1L640.6 1024.8L641.8 1033.8L643.0 1049.7L644.2 1066.3L645.4 1081.5L646.6 1091.6L647.8 1106.4L649.0 1121.2L650.2 1134.1L651.4 1141.3L652.6 1142.8L653.8 1142.6L655.0 1146.6L656.2 1145.3L657.4 1152.2L658.6 1152.6L659.8 1156.0L661.0 1156.8L662.2 1154.4L663.4 1157.9L664.6 1159.2L665.8 1161.5L667.0 1159.2L668.2 1161.8L669.4 1161.2L670.6 1164.3L671.8 1162.7L673.0 1166.3L674.2 1163.1L675.4 1161.1L676.6 1165.1L677.8 1163.4L679.0 1163.3L680.2 1163.7L681.4 1165.4L682.6 1163.7L683.8 1162.2L685.0 1164.8L686.2 1166.1L687.4 1158.2L688.6 1165.0L689.8 1163.1L691.0 1163.9L692.2 1167.3L693.4 1166.7L694.6 1168.2L695.8 1167.1L697.0 1161.3L698.2 1162.4L699.4 1165.0L700.6 1165.9L701.8 1165.0L703.0 1165.9L704.2 1169.1L705.4 1166.4L706.6 1165.7L707.8 1162.9L709.0 1167.4L710.2 1162.7L711.4 1166.8L712.6 1160.9L713.8 1161.6L715.0 1164.7L716.2 1166.2L717.4 1162.9L718.6 1163.4L719.8 1165.2L721.0 1163.0L722.2 1164.6L723.4 1162.3L724.6 1166.8L725.8 1164.6L727.0 1167.2L728.2 1164.3L729.4 1165.8L730.6 1166.0L731.8 1166.3L733.0 1165.8L734.2 1165.9L735.4 1166.4L736.6 1163.5L737.8 1166.7L739.0 1165.4L740.2 1167.0L741.4 1165.2L742.6 1162.7L743.8 1167.5L745.0 1167.4L746.2 1167.6L747.4 1164.7L748.6 1167.3L749.8 1167.5L751.0 1167.3L752.2 1165.7L753.4 1168.9L754.6 1168.4L755.8 1165.4L757.0 1167.6L758.2 1169.5L759.4 1165.3L760.6 1164.0L761.8 1167.3L763.0 1166.7L764.2 1165.5L765.4 1167.6L766.6 1166.9L767.8 1167.5L769.0 1168.3L770.2 1164.9L771.4 1164.6L772.6 1168.1L773.8 1168.0L775.0 1166.6L776.2 1166.7L777.4 1169.9L778.6 1169.6L779.8 1168.2L781.0 1166.6L782.2 1170.0L783.4 1165.7L784.6 1167.8L785.8 1167.3L787.0 1171.3L788.2 1171.5L789.4 1174.1L790.6 1172.0L791.8 1174.2L793.0 1173.2L794.2 1172.2L795.4 1173.2L796.6 1176.5L797.8 1173.1L799.0 1172.4L800.2 1175.1L801.4 1175.3L802.6 1174.7L803.8 1176.7L805.0 1173.2L806.2 1174.5L807.4 1175.5L808.6 1173.0L809.8 1173.8L811.0 1171.5L812.2 1172.2L813.4 1173.3L814.6 1170.8L815.8 1171.6L817.0 1170.8L818.2 1170.7L819.4 1173.5L820.6 1172.8L821.8 1169.8L823.0 1171.0L824.2 1174.0L825.4 1175.2L826.6 1170.5L827.8 1172.9L829.0 1172.6L830.2 1171.5L831.4 1172.6L832.6 1171.2L833.8 1173.8L835.0 1170.3L836.2 1172.5L837.4 1173.6L838.6 1174.4L839.8 1171.8L841.0 1173.5L842.2 1171.3L843.4 1172.1L844.6 1172.9L845.8 1173.6L847.0 1174.0L848.2 1172.2L849.4 1176.1L850.6 1172.4L851.8 1173.7L853.0 1174.3L854.2 1174.9L855.4 1173.9L856.6 1174.3L857.8 1173.3L859.0 1173.2L860.2 1174.5L861.4 1174.4L862.6 1175.0L863.8 1171.5L865.0 1176.5L866.2 1175.5L867.4 1175.2L868.6 1175.8L869.8 1174.0L871.0 1176.3L872.2 1175.9L873.4 1176.5L874.6 1174.2L875.8 1173.2L877.0 1172.1L878.2 1176.1L879.4 1173.0L880.6 1173.3L881.8 1176.2L883.0 1175.0L884.2 1174.7L885.4 1173.4L886.6 1175.3L887.8 1171.9L889.0 1173.6L890.2 1176.0L891.4 1176.7L892.6 1173.9L893.8 1174.6L895.0 1174.6L896.2 1172.4L897.4 1176.1L898.6 1175.3L899.8 1175.7L901.0 1175.4L902.2 1173.4L903.4 1175.1L904.6 1177.3L905.8 1174.4L907.0 1173.2L908.2 1172.0L909.4 1177.1L910.6 1170.5L911.8 1173.7L913.0 1175.1L914.2 1172.3L915.4 1176.8L916.6 1175.4L917.8 1176.4L919.0 1174.7L920.2 1172.4L921.4 1176.7L922.6 1174.1L923.8 1173.0L925.0 1173.7L926.2 1173.2L927.4 1174.3L928.6 1171.7L929.8 1174.6L931.0 1173.4L932.2 1174.3L933.4 1173.8L934.6 1175.2L935.8 1173.2L937.0 1177.0L938.2 1176.6L939.4 1174.4L940.6 1173.6L941.8 1172.6L943.0 1174.1L944.2 1176.7L945.4 1172.8L946.6 1176.2L947.8 1174.7L949.0 1175.2L950.2 1174.7L951.4 1173.9L952.6 1174.4L953.8 1175.2L955.0 1175.6L956.2 1176.4L957.4 1176.7L958.6 1173.9L959.8 1175.3L961.0 1174.1L962.2 1172.4L963.4 1174.5L964.6 1174.3L965.8 1171.9L967.0 1175.3L968.2 1175.2L969.4 1173.3L970.6 1172.5L971.8 1173.9L973.0 1172.0L974.2 1168.8L975.4 1172.6L976.6 1172.1L977.8 1171.0L979.0 1171.9L980.2 1171.0L981.4 1171.7L982.6 1173.7L983.8 1173.0L985.0 1170.9L986.2 1171.0L987.4 1174.6L988.6 1171.7L989.8 1172.0L991.0 1172.3L992.2 1171.8L993.4 1174.9L994.6 1175.8L995.8 1171.5L997.0 1174.4L998.2 1174.2L999.4 1170.1L1000.6 1171.1L1001.8 1176.1L1003.0 1173.6L1004.2 1171.6L1005.4 1170.9L1006.6 1171.4L1007.8 1171.8L1009.0 1174.0L1010.2 1173.8L1011.4 1173.2L1012.6 1172.7L1013.8 1170.4L1015.0 1170.4L1016.2 1174.6L1017.4 1170.8L1018.6 1170.2L1019.8 1172.9L1021.0 1172.6L1022.2 1171.4L1023.4 1173.8L1024.6 1174.8L1025.8 1172.7L1027.0 1169.2L1028.2 1171.1L1029.4 1170.7L1030.6 1173.2L1031.8 1170.1L1033.0 1174.7L1034.2 1171.9L1035.4 1169.8L1036.6 1172.1L1037.8 1174.0L1039.0 1172.2L1040.2 1172.3L1041.4 1170.9L1042.6 1173.9L1043.8 1170.7L1045.0 1173.6L1046.2 1171.5L1047.4 1173.3L1048.6 1173.6L1049.8 1173.2L1051.0 1170.1L1052.2 1169.6L1053.4 1171.3L1054.6 1171.2L1055.8 1173.5L1057.0 1172.5L1058.2 1173.3L1059.4 1171.7L1060.6 1171.1L1061.8 1172.9L1063.0 1174.1L1064.2 1172.7L1065.4 1171.0L1066.6 1173.9L1067.8 1172.4L1069.0 1171.1L1070.2 1173.2L1071.4 1172.6L1072.6 1173.3L1073.8 1176.4L1075.0 1176.4L1076.2 1172.9L1077.4 1174.5L1078.6 1171.6L1079.8 1169.6L1081.0 1173.3L1082.2 1174.3L1083.4 1171.4L1084.6 1173.8L1085.8 1173.0L1087.0 1170.9L1088.2 1172.4L1089.4 1172.5L1090.6 1172.3L1091.8 1174.9L1093.0 1174.2L1094.2 1174.3L1095.4 1172.4L1096.6 1169.0L1097.8 1171.4L1099.0 1175.4L1100.2 1175.0L1101.4 1173.3L1102.6 1170.4L1103.8 1173.4L1105.0 1173.4L1106.2 1171.8L1107.4 1172.9L1108.6 1175.2L1109.8 1173.8L1111.0 1173.3L1112.2 1173.5L1113.4 1175.3L1114.6 1171.1L1115.8 1172.7L1117.0 1172.3L1118.2 1171.2L1119.4 1175.4L1120.6 1177.5L1121.8 1173.6L1123.0 1173.7L1124.2 1175.9L1125.4 1172.7L1126.6 1173.4L1127.8 1172.1L1129.0 1173.6L1130.2 1178.3L1131.4 1174.3L1132.6 1173.8L1133.8 1173.6L1135.0 1173.0L1136.2 1176.0L1137.4 1173.9L1138.6 1174.2L1139.8 1173.9L1141.0 1174.5L1142.2 1173.9L1143.4 1171.1L1144.6 1174.3L1145.8 1173.1L1147.0 1174.3L1148.2 1172.7L1149.4 1171.5L1150.6 1173.5L1151.8 1172.6L1153.0 1172.5L1154.2 1175.0L1155.4 1174.0L1156.6 1171.5L1157.8 1174.4L1159.0 1172.9L1160.2 1174.7L1161.4 1174.3L1162.6 1174.9L1163.8 1172.4L1165.0 1172.9L1166.2 1173.2L1167.4 1169.6L1168.6 1171.5L1169.8 1168.4L1171.0 1173.5L1172.2 1172.4L1173.4 1173.9L1174.6 1172.3L1175.8 1170.4L1177.0 1174.7L1178.2 1170.8L1179.4 1174.8L1180.6 1170.9L1181.8 1172.9L1183.0 1174.5L1184.2 1173.9L1185.4 1172.3L1186.6 1174.0L1187.8 1172.5L1189.0 1171.5L1190.2 1173.4L1191.4 1172.5L1192.6 1169.3L1193.8 1173.9L1195.0 1173.6L1196.2 1171.9L1197.4 1174.0L1198.6 1173.7L1199.8 1175.4L1201.0 1171.4L1202.2 1171.8L1203.4 1173.7L1204.6 1174.7L1205.8 1172.6L1207.0 1174.2L1208.2 1173.5L1209.4 1173.6L1210.6 1174.3L1211.8 1170.5L1213.0 1171.6L1214.2 1174.3L1215.4 1174.5L1216.6 1177.4L1217.8 1173.5L1219.0 1175.3L1220.2 1174.0L1221.4 1175.9L1222.6 1174.2L1223.8 1171.5L1225.0 1172.8L1226.2 1173.7L1227.4 1174.4L1228.6 1171.4L1229.8 1175.4L1231.0 1174.3L1232.2 1173.8L1233.4 1170.7L1234.6 1173.1L1235.8 1171.7L1237.0 1176.2L1238.2 1173.7L1239.4 1175.1L1240.6 1175.7L1241.8 1172.1L1243.0 1173.0L1244.2 1172.0L1245.4 1176.6L1246.6 1173.0L1247.8 1172.3L1249.0 1174.5L1250.2 1174.6L1251.4 1174.4L1252.6 1173.7L1253.8 1174.6L1255.0 1174.9L1256.2 1175.9L1257.4 1170.3L1258.6 1171.6L1259.8 1174.0L1261.0 1172.2L1262.2 1173.6L1263.4 1171.3L1264.6 1174.0L1265.8 1174.4L1267.0 1171.6L1268.2 1174.1L1269.4 1174.8L1270.6 1174.5L1271.0 1173.4"/>
<path stroke="#000000" stroke-width="4.3" d="M1337.2 1144.5L1339.2 1145.4L1341.2 1145.0L1343.2 1146.5L1345.2 1148.2L1347.2 1150.1L1349.2 1148.0L1351.2 1147.7L1353.2 1149.6L1355.2 1149.3L1357.2 1143.3L1359.2 1144.1L1361.2 1144.5L1363.2 1144.2L1365.2 1139.9L1367.2 1142.3L1369.2 1140.9L1371.2 1141.1L1373.2 1137.3L1375.2 1134.9L1377.2 1138.2L1379.2 1137.3L1381.2 1140.8L1383.2 1139.4L1385.2 1141.4L1387.2 1140.0L1389.2 1143.7L1391.2 1142.8L1393.2 1141.9L1395.2 1146.1L1397.2 1146.1L1399.2 1143.2L1401.2 1142.3L1403.2 1142.5L1405.2 1143.3L1407.2 1139.1L1409.2 1139.3L1411.2 1138.9L1413.2 1140.9L1415.2 1143.3L1417.2 1142.9L1419.2 1142.3L1421.2 1139.9L1423.2 1138.5L1425.2 1135.4L1427.2 1135.7L1429.2 1139.4L1431.2 1138.8L1433.2 1138.8L1435.2 1141.7L1437.2 1142.3L1439.2 1141.8L1441.2 1143.3L1443.2 1142.4L1445.2 1140.0L1447.2 1140.3L1449.2 1140.9L1451.2 1138.2L1453.2 1139.8L1455.2 1141.9L1457.2 1145.1L1459.2 1143.9L1461.2 1144.8L1463.2 1145.4L1465.2 1145.5L1467.2 1142.6L1469.2 1144.2L1471.2 1143.6L1473.2 1143.8L1475.2 1143.9L1477.2 1143.9L1479.2 1141.6L1481.2 1139.5L1483.2 1137.2L1485.2 1137.3L1487.2 1138.7L1489.2 1137.7L1491.2 1137.1L1493.2 1134.0L1495.2 1139.1L1497.2 1134.5L1499.2 1132.6L1501.2 1135.0L1503.2 1131.1L1505.2 1134.7L1507.2 1132.7L1509.2 1131.5L1511.2 1131.9L1513.2 1134.9L1515.2 1135.2L1517.2 1136.1L1519.2 1137.0L1521.2 1133.8L1523.2 1134.6L1525.2 1134.7L1527.2 1132.8L1529.2 1131.7L1531.2 1128.2L1533.2 1127.7L1535.2 1123.9L1537.2 1120.3L1539.2 1124.6L1541.2 1120.1L1543.2 1121.4L1545.2 1122.0L1547.2 1120.1L1549.2 1122.2L1551.2 1121.3L1553.2 1118.4L1555.2 1116.6L1557.2 1108.8L1559.2 1110.8L1561.2 1109.1L1563.2 1106.2L1565.2 1104.8L1567.2 1100.9L1569.2 1101.6L1571.2 1097.2L1573.2 1094.8L1575.2 1091.5L1577.2 1088.4L1579.2 1083.5L1581.2 1081.6L1583.2 1077.0L1585.2 1072.2L1587.2 1068.7L1589.2 1060.8L1591.2 1052.0L1593.2 1042.8L1595.2 1037.8L1597.2 1031.7L1599.2 1025.5L1601.2 1021.2L1603.2 1016.0L1605.2 1013.4L1607.2 1009.5L1609.2 1010.9L1611.2 1005.4L1613.2 1010.7L1615.2 1014.5L1617.2 1016.4L1619.2 1021.5L1621.2 1028.6L1623.2 1030.3L1625.2 1042.6L1627.2 1053.4L1629.2 1058.1L1631.2 1066.0L1633.2 1074.5L1635.2 1086.6L1637.2 1096.2L1639.2 1106.9L1641.2 1116.7L1643.2 1124.9L1645.2 1130.0L1647.2 1132.5L1649.2 1132.7L1651.2 1138.5L1653.2 1143.8L1655.2 1143.9L1657.2 1145.7L1659.2 1147.4L1661.2 1143.6L1663.2 1143.4L1665.2 1147.1L1667.2 1151.0L1669.2 1148.0L1671.2 1153.4L1673.2 1154.0L1675.2 1156.7L1677.2 1155.2L1679.2 1154.5L1681.2 1156.8L1683.2 1158.0L1685.2 1157.2L1687.2 1156.8L1689.2 1154.6L1691.2 1153.2L1693.2 1156.7L1695.2 1156.0L1697.2 1159.6L1699.2 1163.4L1701.2 1163.8L1703.2 1164.0L1705.2 1164.4L1707.2 1165.4L1709.2 1165.6L1711.2 1163.0L1713.2 1164.0L1715.2 1164.1L1717.2 1164.9L1719.2 1166.5L1721.2 1165.1L1723.2 1165.9L1725.2 1164.5L1727.2 1164.2L1729.2 1163.7L1731.2 1163.2L1733.2 1165.6L1735.2 1164.0L1737.2 1165.2L1739.2 1164.3L1741.2 1166.0L1743.2 1163.2L1745.2 1166.2L1747.2 1162.6L1749.2 1163.3L1751.2 1162.1L1753.2 1162.9L1755.2 1163.5L1757.2 1166.4L1759.2 1163.2L1761.2 1163.0L1763.2 1163.9L1765.2 1164.7L1767.2 1163.3L1769.2 1164.5L1771.2 1164.1L1773.2 1162.2L1775.2 1163.8L1777.2 1162.7L1779.2 1165.1L1781.2 1165.6L1783.2 1165.0L1785.2 1167.6L1787.2 1166.7L1789.2 1167.6L1791.2 1168.0L1793.2 1166.6L1795.2 1169.0L1797.2 1171.5L1799.2 1168.4L1801.2 1171.3L1803.2 1170.8L1805.2 1172.1L1807.2 1171.9L1809.2 1168.5L1811.2 1167.2L1813.2 1169.9L1815.2 1167.8L1817.2 1165.8L1819.2 1166.0L1821.2 1163.7L1823.2 1167.1L1825.2 1163.2L1827.2 1164.5L1829.2 1161.2L1831.2 1164.6L1833.2 1163.9L1835.2 1163.1L1837.2 1165.6L1839.2 1165.7L1841.2 1165.5L1843.2 1167.1L1845.2 1166.6L1847.2 1167.2L1849.2 1168.3L1851.2 1167.7L1853.2 1166.8L1855.2 1166.9L1857.2 1166.8L1859.2 1169.4L1861.2 1171.4L1863.2 1170.1L1865.2 1165.8L1867.2 1164.3L1869.2 1167.0L1871.2 1167.3L1873.2 1168.3L1875.2 1167.5L1877.2 1168.3L1879.2 1169.5L1881.2 1167.4L1883.2 1167.7L1885.2 1166.9L1887.2 1165.4L1889.2 1166.2L1889.5 1167.9"/>
</g>
<g fill="none" stroke="#111" stroke-width="4.4" stroke-linejoin="round" stroke-linecap="butt">
<rect x="87.8" y="21.1" width="1185.5" height="1171.6000000000001"/>
<rect x="1335.6" y="21.1" width="556.4000000000001" height="1171.6000000000001"/>
<path d="M87.8 1192.7V1206.2M182.6 1192.7V1217.2M277.4 1192.7V1206.2M372.3 1192.7V1217.2M467.1 1192.7V1206.2M562.0 1192.7V1217.2M656.8 1192.7V1206.2M751.6 1192.7V1217.2M846.5 1192.7V1206.2M941.3 1192.7V1217.2M1036.2 1192.7V1206.2M1131.0 1192.7V1217.2M1225.8 1192.7V1206.2M1335.6 1192.7V1206.2M1391.2 1192.7V1217.2M1446.9 1192.7V1206.2M1502.5 1192.7V1217.2M1558.2 1192.7V1206.2M1613.8 1192.7V1217.2M1669.4 1192.7V1206.2M1725.1 1192.7V1217.2M1780.7 1192.7V1206.2M1836.4 1192.7V1217.2M1892.0 1192.7V1206.2" stroke-width="4.0"/>
</g>
<g font-family="Liberation Serif, serif" fill="#000">
<text x="135.00" y="1272.50" textLength="93.30" lengthAdjust="spacingAndGlyphs" style="font-size:59.50px;font-weight:normal;stroke:#000;stroke-width:1.8px;stroke-linejoin:round">200</text>
<text x="327.00" y="1272.50" textLength="91.20" lengthAdjust="spacingAndGlyphs" style="font-size:59.50px;font-weight:normal;stroke:#000;stroke-width:1.8px;stroke-linejoin:round">400</text>
<text x="515.70" y="1272.50" textLength="93.32" lengthAdjust="spacingAndGlyphs" style="font-size:59.50px;font-weight:normal;stroke:#000;stroke-width:1.8px;stroke-linejoin:round">600</text>
<text x="706.00" y="1272.50" textLength="91.23" lengthAdjust="spacingAndGlyphs" style="font-size:59.50px;font-weight:normal;stroke:#000;stroke-width:1.8px;stroke-linejoin:round">800</text>
<text x="878.90" y="1272.50" textLength="123.69" lengthAdjust="spacingAndGlyphs" style="font-size:59.50px;font-weight:normal;stroke:#000;stroke-width:1.8px;stroke-linejoin:round">1000</text>
<text x="1069.00" y="1272.50" textLength="122.64" lengthAdjust="spacingAndGlyphs" style="font-size:59.50px;font-weight:normal;stroke:#000;stroke-width:1.8px;stroke-linejoin:round">1200</text>
<text x="1345.40" y="1273.10" textLength="90.25" lengthAdjust="spacingAndGlyphs" style="font-size:59.50px;font-weight:normal;stroke:#000;stroke-width:1.8px;stroke-linejoin:round">600</text>
<text x="1454.60" y="1273.10" textLength="93.29" lengthAdjust="spacingAndGlyphs" style="font-size:59.50px;font-weight:normal;stroke:#000;stroke-width:1.8px;stroke-linejoin:round">640</text>
<text x="1567.50" y="1273.10" textLength="91.27" lengthAdjust="spacingAndGlyphs" style="font-size:59.50px;font-weight:normal;stroke:#000;stroke-width:1.8px;stroke-linejoin:round">680</text>
<text x="1679.40" y="1273.10" textLength="92.33" lengthAdjust="spacingAndGlyphs" style="font-size:59.50px;font-weight:normal;stroke:#000;stroke-width:1.8px;stroke-linejoin:round">720</text>
<text x="1788.70" y="1273.10" textLength="93.38" lengthAdjust="spacingAndGlyphs" style="font-size:59.50px;font-weight:normal;stroke:#000;stroke-width:1.8px;stroke-linejoin:round">760</text>
<text x="452.80" y="1345.70" textLength="343.25" lengthAdjust="spacingAndGlyphs" style="font-size:56.35px;font-weight:normal;stroke:#000;stroke-width:1.8px;stroke-linejoin:round">Raman Shitf</text>
<text x="827.40" y="1347.30" textLength="27.44" lengthAdjust="spacingAndGlyphs" style="font-size:68.41px;font-weight:normal;stroke:#000;stroke-width:0.6px;stroke-linejoin:round">(</text>
<text x="853.00" y="1345.70" textLength="77.93" lengthAdjust="spacingAndGlyphs" style="font-size:56.35px;font-weight:normal;stroke:#000;stroke-width:1.8px;stroke-linejoin:round">cm</text>
<text x="930.50" y="1311.00" textLength="36.98" lengthAdjust="spacingAndGlyphs" style="font-size:32.80px;font-weight:normal;stroke:#000;stroke-width:1.8px;stroke-linejoin:round">−1</text>
<text x="967.50" y="1347.30" textLength="26.75" lengthAdjust="spacingAndGlyphs" style="font-size:68.64px;font-weight:normal;stroke:#000;stroke-width:0.6px;stroke-linejoin:round">)</text>
<text x="1352.80" y="1343.40" textLength="343.25" lengthAdjust="spacingAndGlyphs" style="font-size:56.35px;font-weight:normal;stroke:#000;stroke-width:1.8px;stroke-linejoin:round">Raman Shitf</text>
<text x="1727.40" y="1345.00" textLength="27.44" lengthAdjust="spacingAndGlyphs" style="font-size:68.41px;font-weight:normal;stroke:#000;stroke-width:0.6px;stroke-linejoin:round">(</text>
<text x="1753.00" y="1343.40" textLength="77.93" lengthAdjust="spacingAndGlyphs" style="font-size:56.35px;font-weight:normal;stroke:#000;stroke-width:1.8px;stroke-linejoin:round">cm</text>
<text x="1830.50" y="1309.70" textLength="36.98" lengthAdjust="spacingAndGlyphs" style="font-size:32.80px;font-weight:normal;stroke:#000;stroke-width:1.8px;stroke-linejoin:round">−1</text>
<text x="1867.50" y="1345.00" textLength="26.75" lengthAdjust="spacingAndGlyphs" style="font-size:68.64px;font-weight:normal;stroke:#000;stroke-width:0.6px;stroke-linejoin:round">)</text>
<text x="67.40" y="812.30" textLength="401.69" lengthAdjust="spacingAndGlyphs" style="font-size:61.50px;font-weight:normal;stroke:#000;stroke-width:1.8px;stroke-linejoin:round" transform="rotate(-90 67.40 812.30)">Intensity (a.u.)</text>
<text x="1118.50" y="129.50" textLength="150.99" lengthAdjust="spacingAndGlyphs" style="font-size:57.30px;font-weight:normal;stroke:#000;stroke-width:0.9px;stroke-linejoin:round">550°C</text>
<text x="1120.60" y="232.80" textLength="148.66" lengthAdjust="spacingAndGlyphs" style="font-size:57.30px;font-weight:normal;stroke:#000;stroke-width:0.9px;stroke-linejoin:round">500°C</text>
<text x="1119.40" y="326.30" textLength="147.87" lengthAdjust="spacingAndGlyphs" style="font-size:57.30px;font-weight:normal;stroke:#000;stroke-width:0.9px;stroke-linejoin:round">450°C</text>
<text x="1121.90" y="471.50" textLength="145.79" lengthAdjust="spacingAndGlyphs" style="font-size:57.30px;font-weight:normal;stroke:#000;stroke-width:0.9px;stroke-linejoin:round">400°C</text>
<text x="1116.90" y="555.00" textLength="149.94" lengthAdjust="spacingAndGlyphs" style="font-size:57.30px;font-weight:normal;stroke:#000;stroke-width:0.9px;stroke-linejoin:round">350°C</text>
<text x="1120.80" y="658.30" textLength="149.08" lengthAdjust="spacingAndGlyphs" style="font-size:57.30px;font-weight:normal;stroke:#000;stroke-width:0.9px;stroke-linejoin:round">300°C</text>
<text x="1120.80" y="785.60" textLength="149.93" lengthAdjust="spacingAndGlyphs" style="font-size:57.30px;font-weight:normal;stroke:#000;stroke-width:0.9px;stroke-linejoin:round">250°C</text>
<text x="1113.80" y="898.80" textLength="149.08" lengthAdjust="spacingAndGlyphs" style="font-size:57.30px;font-weight:normal;stroke:#000;stroke-width:0.9px;stroke-linejoin:round">200°C</text>
<text x="1113.40" y="1017.20" textLength="150.41" lengthAdjust="spacingAndGlyphs" style="font-size:57.30px;font-weight:normal;stroke:#000;stroke-width:0.9px;stroke-linejoin:round">150°C</text>
<text x="1111.10" y="1087.40" textLength="148.72" lengthAdjust="spacingAndGlyphs" style="font-size:57.30px;font-weight:normal;stroke:#000;stroke-width:0.9px;stroke-linejoin:round">100°C</text>
<text x="1127.40" y="1166.00" textLength="120.63" lengthAdjust="spacingAndGlyphs" style="font-size:57.30px;font-weight:normal;stroke:#000;stroke-width:0.9px;stroke-linejoin:round">50°C</text>
</g>
</svg>
</body></html>
